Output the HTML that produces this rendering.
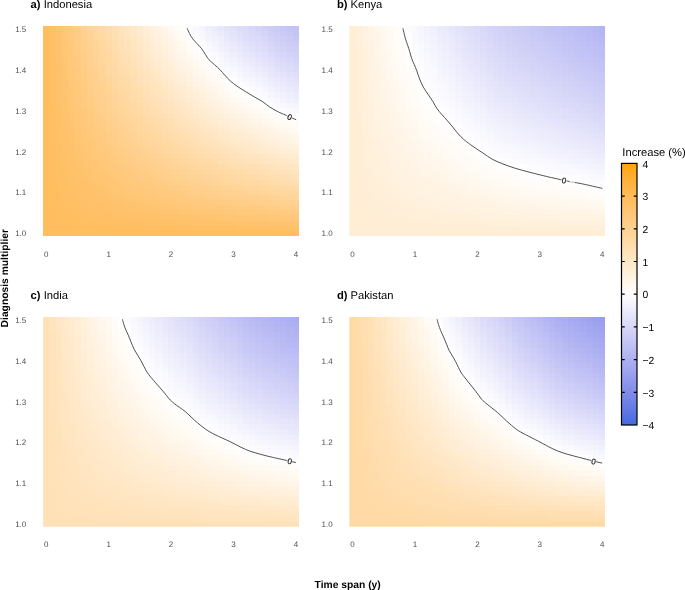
<!DOCTYPE html>
<html><head><meta charset="utf-8"><title>Figure</title>
<style>
html,body{margin:0;padding:0;background:#fff}
body>svg{display:block;will-change:transform;text-rendering:geometricPrecision;font-family:"Liberation Sans",Arial,Helvetica,sans-serif}
.t rect{width:1px;height:1px}
.tk{font-size:8px;fill:#4d4d4d}
.ti{font-size:11.2px;fill:#000}
.ax{font-size:10.3px;font-weight:bold;fill:#000}
.lg{font-size:10.3px;fill:#000}
.cl{fill:none;stroke:#484848;stroke-width:.95;stroke-linejoin:round}
.c0{font-size:8px;fill:#1a1a1a;stroke:#1a1a1a;stroke-width:.2}
</style></head><body>
<svg width="685" height="590" viewBox="0 0 685 590">
<rect width="685" height="590" fill="#fff"/>
<svg class="t" x="43.1" y="25.9" width="256.0" height="210.0" viewBox="0 0 41 41" preserveAspectRatio="none" shape-rendering="crispEdges">
<rect x=0 y=0 fill=#ffbd5e /><rect x=1 y=0 fill=#ffc067 /><rect x=2 y=0 fill=#ffc46f /><rect x=3 y=0 fill=#ffc777 /><rect x=4 y=0 fill=#ffca7f /><rect x=5 y=0 fill=#ffcd87 /><rect x=6 y=0 fill=#ffd18f /><rect x=7 y=0 fill=#ffd497 /><rect x=8 y=0 fill=#ffd79e /><rect x=9 y=0 fill=#ffdaa6 /><rect x=10 y=0 fill=#ffddad /><rect x=11 y=0 fill=#ffe0b4 /><rect x=12 y=0 fill=#ffe3bb /><rect x=13 y=0 fill=#ffe6c2 /><rect x=14 y=0 fill=#ffe9c9 /><rect x=15 y=0 fill=#ffebd0 /><rect x=16 y=0 fill=#ffeed6 /><rect x=17 y=0 fill=#fff1dd /><rect x=18 y=0 fill=#fff3e3 /><rect x=19 y=0 fill=#fff6e9 /><rect x=20 y=0 fill=#fff9f0 /><rect x=21 y=0 fill=#fffbf6 /><rect x=22 y=0 fill=#fffefc /><rect x=23 y=0 fill=#fcfcff /><rect x=24 y=0 fill=#f8f8fe /><rect x=25 y=0 fill=#f5f5fd /><rect x=26 y=0 fill=#f0effd /><rect x=27 y=0 fill=#ececfc /><rect x=28 y=0 fill=#e9e8fb /><rect x=29 y=0 fill=#e4e4fb /><rect x=30 y=0 fill=#e1e0fa /><rect x=31 y=0 fill=#ddddfa /><rect x=32 y=0 fill=#dadaf9 /><rect x=33 y=0 fill=#d7d7f9 /><rect x=34 y=0 fill=#d4d4f8 /><rect x=35 y=0 fill=#d1d1f8 /><rect x=36 y=0 fill=#cdcdf7 /><rect x=37 y=0 fill=#cacaf6 /><rect x=38 y=0 fill=#c7c8f6 /><rect x=39 y=0 fill=#c4c5f5 /><rect x=40 y=0 fill=#c2c2f5 />
<rect x=0 y=1 fill=#ffbd5e /><rect x=1 y=1 fill=#ffc066 /><rect x=2 y=1 fill=#ffc36f /><rect x=3 y=1 fill=#ffc777 /><rect x=4 y=1 fill=#ffca7f /><rect x=5 y=1 fill=#ffcd86 /><rect x=6 y=1 fill=#ffd08e /><rect x=7 y=1 fill=#ffd396 /><rect x=8 y=1 fill=#ffd69d /><rect x=9 y=1 fill=#ffd9a4 /><rect x=10 y=1 fill=#ffdcab /><rect x=11 y=1 fill=#ffdfb2 /><rect x=12 y=1 fill=#ffe2b9 /><rect x=13 y=1 fill=#ffe5c0 /><rect x=14 y=1 fill=#ffe8c7 /><rect x=15 y=1 fill=#ffeacd /><rect x=16 y=1 fill=#ffedd4 /><rect x=17 y=1 fill=#fff0da /><rect x=18 y=1 fill=#fff2e0 /><rect x=19 y=1 fill=#fff5e7 /><rect x=20 y=1 fill=#fff7ed /><rect x=21 y=1 fill=#fffaf3 /><rect x=22 y=1 fill=#fffcf8 /><rect x=23 y=1 fill=#ffffff /><rect x=24 y=1 fill=#fbfbfe /><rect x=25 y=1 fill=#f7f7fe /><rect x=26 y=1 fill=#f2f2fd /><rect x=27 y=1 fill=#efeffc /><rect x=28 y=1 fill=#ebebfc /><rect x=29 y=1 fill=#e7e7fb /><rect x=30 y=1 fill=#e3e3fb /><rect x=31 y=1 fill=#e0e0fa /><rect x=32 y=1 fill=#ddddfa /><rect x=33 y=1 fill=#dadaf9 /><rect x=34 y=1 fill=#d7d7f9 /><rect x=35 y=1 fill=#d4d4f8 /><rect x=36 y=1 fill=#d0d0f7 /><rect x=37 y=1 fill=#cdcdf7 /><rect x=38 y=1 fill=#cacaf6 /><rect x=39 y=1 fill=#c7c8f6 /><rect x=40 y=1 fill=#c5c5f5 />
<rect x=0 y=2 fill=#ffbd5e /><rect x=1 y=2 fill=#ffc066 /><rect x=2 y=2 fill=#ffc36e /><rect x=3 y=2 fill=#ffc676 /><rect x=4 y=2 fill=#ffc97e /><rect x=5 y=2 fill=#ffcd85 /><rect x=6 y=2 fill=#ffd08d /><rect x=7 y=2 fill=#ffd394 /><rect x=8 y=2 fill=#ffd69b /><rect x=9 y=2 fill=#ffd9a3 /><rect x=10 y=2 fill=#ffdbaa /><rect x=11 y=2 fill=#ffdeb0 /><rect x=12 y=2 fill=#ffe1b7 /><rect x=13 y=2 fill=#ffe4be /><rect x=14 y=2 fill=#ffe7c4 /><rect x=15 y=2 fill=#ffe9cb /><rect x=16 y=2 fill=#ffecd1 /><rect x=17 y=2 fill=#ffefd7 /><rect x=18 y=2 fill=#fff1de /><rect x=19 y=2 fill=#fff4e4 /><rect x=20 y=2 fill=#fff6ea /><rect x=21 y=2 fill=#fff9ef /><rect x=22 y=2 fill=#fffbf5 /><rect x=23 y=2 fill=#fffefc /><rect x=24 y=2 fill=#fdfdff /><rect x=25 y=2 fill=#fafafe /><rect x=26 y=2 fill=#f5f4fd /><rect x=27 y=2 fill=#f1f1fd /><rect x=28 y=2 fill=#eeeefc /><rect x=29 y=2 fill=#eae9fc /><rect x=30 y=2 fill=#e6e5fb /><rect x=31 y=2 fill=#e3e2fa /><rect x=32 y=2 fill=#e0dffa /><rect x=33 y=2 fill=#ddddfa /><rect x=34 y=2 fill=#dadaf9 /><rect x=35 y=2 fill=#d7d7f9 /><rect x=36 y=2 fill=#d3d3f8 /><rect x=37 y=2 fill=#d0d0f7 /><rect x=38 y=2 fill=#cdcdf7 /><rect x=39 y=2 fill=#cacaf6 /><rect x=40 y=2 fill=#c8c8f6 />
<rect x=0 y=3 fill=#ffbd5e /><rect x=1 y=3 fill=#ffc066 /><rect x=2 y=3 fill=#ffc36e /><rect x=3 y=3 fill=#ffc675 /><rect x=4 y=3 fill=#ffc97d /><rect x=5 y=3 fill=#ffcc84 /><rect x=6 y=3 fill=#ffcf8c /><rect x=7 y=3 fill=#ffd293 /><rect x=8 y=3 fill=#ffd59a /><rect x=9 y=3 fill=#ffd8a1 /><rect x=10 y=3 fill=#ffdba8 /><rect x=11 y=3 fill=#ffddae /><rect x=12 y=3 fill=#ffe0b5 /><rect x=13 y=3 fill=#ffe3bc /><rect x=14 y=3 fill=#ffe6c2 /><rect x=15 y=3 fill=#ffe8c8 /><rect x=16 y=3 fill=#ffebcf /><rect x=17 y=3 fill=#ffedd5 /><rect x=18 y=3 fill=#fff0db /><rect x=19 y=3 fill=#fff2e1 /><rect x=20 y=3 fill=#fff5e7 /><rect x=21 y=3 fill=#fff7ec /><rect x=22 y=3 fill=#fffaf2 /><rect x=23 y=3 fill=#fffcf9 /><rect x=24 y=3 fill=#fffffe /><rect x=25 y=3 fill=#fcfcff /><rect x=26 y=3 fill=#f7f7fe /><rect x=27 y=3 fill=#f4f4fd /><rect x=28 y=3 fill=#f1f0fd /><rect x=29 y=3 fill=#ececfc /><rect x=30 y=3 fill=#e9e8fb /><rect x=31 y=3 fill=#e5e5fb /><rect x=32 y=3 fill=#e3e2fa /><rect x=33 y=3 fill=#e0dffa /><rect x=34 y=3 fill=#dddcfa /><rect x=35 y=3 fill=#dad9f9 /><rect x=36 y=3 fill=#d6d6f8 /><rect x=37 y=3 fill=#d3d3f8 /><rect x=38 y=3 fill=#d0d0f7 /><rect x=39 y=3 fill=#cdcdf7 /><rect x=40 y=3 fill=#cbcbf6 />
<rect x=0 y=4 fill=#ffbd5e /><rect x=1 y=4 fill=#ffc066 /><rect x=2 y=4 fill=#ffc36d /><rect x=3 y=4 fill=#ffc675 /><rect x=4 y=4 fill=#ffc97c /><rect x=5 y=4 fill=#ffcc83 /><rect x=6 y=4 fill=#ffcf8b /><rect x=7 y=4 fill=#ffd292 /><rect x=8 y=4 fill=#ffd499 /><rect x=9 y=4 fill=#ffd79f /><rect x=10 y=4 fill=#ffdaa6 /><rect x=11 y=4 fill=#ffddad /><rect x=12 y=4 fill=#ffdfb3 /><rect x=13 y=4 fill=#ffe2b9 /><rect x=14 y=4 fill=#ffe5c0 /><rect x=15 y=4 fill=#ffe7c6 /><rect x=16 y=4 fill=#ffeacc /><rect x=17 y=4 fill=#ffecd2 /><rect x=18 y=4 fill=#ffefd8 /><rect x=19 y=4 fill=#fff1de /><rect x=20 y=4 fill=#fff4e4 /><rect x=21 y=4 fill=#fff6e9 /><rect x=22 y=4 fill=#fff8ef /><rect x=23 y=4 fill=#fffbf5 /><rect x=24 y=4 fill=#fffdfb /><rect x=25 y=4 fill=#ffffff /><rect x=26 y=4 fill=#fafafe /><rect x=27 y=4 fill=#f7f6fe /><rect x=28 y=4 fill=#f3f3fd /><rect x=29 y=4 fill=#efeffc /><rect x=30 y=4 fill=#ebebfc /><rect x=31 y=4 fill=#e8e8fb /><rect x=32 y=4 fill=#e5e5fb /><rect x=33 y=4 fill=#e3e2fa /><rect x=34 y=4 fill=#e0dffa /><rect x=35 y=4 fill=#dddcf9 /><rect x=36 y=4 fill=#d9d8f9 /><rect x=37 y=4 fill=#d6d5f8 /><rect x=38 y=4 fill=#d3d3f8 /><rect x=39 y=4 fill=#d0d0f7 /><rect x=40 y=4 fill=#cecef7 />
<rect x=0 y=5 fill=#ffbd5e /><rect x=1 y=5 fill=#ffc066 /><rect x=2 y=5 fill=#ffc36d /><rect x=3 y=5 fill=#ffc674 /><rect x=4 y=5 fill=#ffc97b /><rect x=5 y=5 fill=#ffcb82 /><rect x=6 y=5 fill=#ffce89 /><rect x=7 y=5 fill=#ffd190 /><rect x=8 y=5 fill=#ffd497 /><rect x=9 y=5 fill=#ffd79e /><rect x=10 y=5 fill=#ffd9a4 /><rect x=11 y=5 fill=#ffdcab /><rect x=12 y=5 fill=#ffdeb1 /><rect x=13 y=5 fill=#ffe1b7 /><rect x=14 y=5 fill=#ffe4bd /><rect x=15 y=5 fill=#ffe6c3 /><rect x=16 y=5 fill=#ffe9c9 /><rect x=17 y=5 fill=#ffebcf /><rect x=18 y=5 fill=#ffeed5 /><rect x=19 y=5 fill=#fff0db /><rect x=20 y=5 fill=#fff2e0 /><rect x=21 y=5 fill=#fff5e6 /><rect x=22 y=5 fill=#fff7eb /><rect x=23 y=5 fill=#fffaf2 /><rect x=24 y=5 fill=#fffcf7 /><rect x=25 y=5 fill=#fffefc /><rect x=26 y=5 fill=#fcfcff /><rect x=27 y=5 fill=#f9f9fe /><rect x=28 y=5 fill=#f6f6fe /><rect x=29 y=5 fill=#f2f1fd /><rect x=30 y=5 fill=#eeeefc /><rect x=31 y=5 fill=#ebebfc /><rect x=32 y=5 fill=#e8e8fb /><rect x=33 y=5 fill=#e6e5fb /><rect x=34 y=5 fill=#e3e2fb /><rect x=35 y=5 fill=#e0dffa /><rect x=36 y=5 fill=#dcdbf9 /><rect x=37 y=5 fill=#d9d8f9 /><rect x=38 y=5 fill=#d6d6f8 /><rect x=39 y=5 fill=#d3d3f8 /><rect x=40 y=5 fill=#d1d1f8 />
<rect x=0 y=6 fill=#ffbd5e /><rect x=1 y=6 fill=#ffc065 /><rect x=2 y=6 fill=#ffc36d /><rect x=3 y=6 fill=#ffc574 /><rect x=4 y=6 fill=#ffc87b /><rect x=5 y=6 fill=#ffcb82 /><rect x=6 y=6 fill=#ffce88 /><rect x=7 y=6 fill=#ffd08f /><rect x=8 y=6 fill=#ffd396 /><rect x=9 y=6 fill=#ffd69c /><rect x=10 y=6 fill=#ffd8a2 /><rect x=11 y=6 fill=#ffdba9 /><rect x=12 y=6 fill=#ffdeaf /><rect x=13 y=6 fill=#ffe0b5 /><rect x=14 y=6 fill=#ffe3bb /><rect x=15 y=6 fill=#ffe5c1 /><rect x=16 y=6 fill=#ffe8c7 /><rect x=17 y=6 fill=#ffeacd /><rect x=18 y=6 fill=#ffecd2 /><rect x=19 y=6 fill=#ffefd8 /><rect x=20 y=6 fill=#fff1dd /><rect x=21 y=6 fill=#fff3e3 /><rect x=22 y=6 fill=#fff5e8 /><rect x=23 y=6 fill=#fff8ee /><rect x=24 y=6 fill=#fffaf4 /><rect x=25 y=6 fill=#fffcf8 /><rect x=26 y=6 fill=#ffffff /><rect x=27 y=6 fill=#fcfcff /><rect x=28 y=6 fill=#f9f8fe /><rect x=29 y=6 fill=#f5f4fd /><rect x=30 y=6 fill=#f1f1fd /><rect x=31 y=6 fill=#eeeefc /><rect x=32 y=6 fill=#ebebfc /><rect x=33 y=6 fill=#e9e8fb /><rect x=34 y=6 fill=#e6e5fb /><rect x=35 y=6 fill=#e3e2fa /><rect x=36 y=6 fill=#dfdffa /><rect x=37 y=6 fill=#dcdcf9 /><rect x=38 y=6 fill=#d9d9f9 /><rect x=39 y=6 fill=#d7d6f8 /><rect x=40 y=6 fill=#d4d4f8 />
<rect x=0 y=7 fill=#ffbd5e /><rect x=1 y=7 fill=#ffc065 /><rect x=2 y=7 fill=#ffc26c /><rect x=3 y=7 fill=#ffc573 /><rect x=4 y=7 fill=#ffc87a /><rect x=5 y=7 fill=#ffcb81 /><rect x=6 y=7 fill=#ffcd87 /><rect x=7 y=7 fill=#ffd08e /><rect x=8 y=7 fill=#ffd394 /><rect x=9 y=7 fill=#ffd59a /><rect x=10 y=7 fill=#ffd8a1 /><rect x=11 y=7 fill=#ffdaa7 /><rect x=12 y=7 fill=#ffddad /><rect x=13 y=7 fill=#ffdfb3 /><rect x=14 y=7 fill=#ffe2b9 /><rect x=15 y=7 fill=#ffe4be /><rect x=16 y=7 fill=#ffe6c4 /><rect x=17 y=7 fill=#ffe9ca /><rect x=18 y=7 fill=#ffebcf /><rect x=19 y=7 fill=#ffedd5 /><rect x=20 y=7 fill=#fff0da /><rect x=21 y=7 fill=#fff2e0 /><rect x=22 y=7 fill=#fff4e5 /><rect x=23 y=7 fill=#fff7eb /><rect x=24 y=7 fill=#fff9f0 /><rect x=25 y=7 fill=#fffbf5 /><rect x=26 y=7 fill=#fffdfb /><rect x=27 y=7 fill=#ffffff /><rect x=28 y=7 fill=#fbfbfe /><rect x=29 y=7 fill=#f7f7fe /><rect x=30 y=7 fill=#f4f4fd /><rect x=31 y=7 fill=#f1f1fd /><rect x=32 y=7 fill=#eeeefc /><rect x=33 y=7 fill=#ecebfc /><rect x=34 y=7 fill=#e9e8fb /><rect x=35 y=7 fill=#e6e5fb /><rect x=36 y=7 fill=#e2e2fa /><rect x=37 y=7 fill=#dfdffa /><rect x=38 y=7 fill=#dddcf9 /><rect x=39 y=7 fill=#dadaf9 /><rect x=40 y=7 fill=#d7d7f9 />
<rect x=0 y=8 fill=#ffbd5e /><rect x=1 y=8 fill=#ffc065 /><rect x=2 y=8 fill=#ffc26c /><rect x=3 y=8 fill=#ffc572 /><rect x=4 y=8 fill=#ffc879 /><rect x=5 y=8 fill=#ffca80 /><rect x=6 y=8 fill=#ffcd86 /><rect x=7 y=8 fill=#ffcf8c /><rect x=8 y=8 fill=#ffd293 /><rect x=9 y=8 fill=#ffd499 /><rect x=10 y=8 fill=#ffd79f /><rect x=11 y=8 fill=#ffd9a5 /><rect x=12 y=8 fill=#ffdcab /><rect x=13 y=8 fill=#ffdeb0 /><rect x=14 y=8 fill=#ffe1b6 /><rect x=15 y=8 fill=#ffe3bc /><rect x=16 y=8 fill=#ffe5c1 /><rect x=17 y=8 fill=#ffe8c7 /><rect x=18 y=8 fill=#ffeacc /><rect x=19 y=8 fill=#ffecd2 /><rect x=20 y=8 fill=#ffeed7 /><rect x=21 y=8 fill=#fff1dc /><rect x=22 y=8 fill=#fff3e1 /><rect x=23 y=8 fill=#fff5e7 /><rect x=24 y=8 fill=#fff7ec /><rect x=25 y=8 fill=#fff9f1 /><rect x=26 y=8 fill=#fffcf7 /><rect x=27 y=8 fill=#fffefc /><rect x=28 y=8 fill=#fefeff /><rect x=29 y=8 fill=#fafafe /><rect x=30 y=8 fill=#f7f7fe /><rect x=31 y=8 fill=#f4f4fd /><rect x=32 y=8 fill=#f1f1fd /><rect x=33 y=8 fill=#efeefc /><rect x=34 y=8 fill=#ecebfc /><rect x=35 y=8 fill=#e9e8fc /><rect x=36 y=8 fill=#e5e5fb /><rect x=37 y=8 fill=#e2e2fa /><rect x=38 y=8 fill=#e0dffa /><rect x=39 y=8 fill=#ddddfa /><rect x=40 y=8 fill=#dbdaf9 />
<rect x=0 y=9 fill=#ffbd5e /><rect x=1 y=9 fill=#ffc065 /><rect x=2 y=9 fill=#ffc26b /><rect x=3 y=9 fill=#ffc572 /><rect x=4 y=9 fill=#ffc778 /><rect x=5 y=9 fill=#ffca7f /><rect x=6 y=9 fill=#ffcc85 /><rect x=7 y=9 fill=#ffcf8b /><rect x=8 y=9 fill=#ffd191 /><rect x=9 y=9 fill=#ffd497 /><rect x=10 y=9 fill=#ffd69d /><rect x=11 y=9 fill=#ffd9a3 /><rect x=12 y=9 fill=#ffdba8 /><rect x=13 y=9 fill=#ffddae /><rect x=14 y=9 fill=#ffe0b4 /><rect x=15 y=9 fill=#ffe2b9 /><rect x=16 y=9 fill=#ffe4bf /><rect x=17 y=9 fill=#ffe6c4 /><rect x=18 y=9 fill=#ffe9c9 /><rect x=19 y=9 fill=#ffebcf /><rect x=20 y=9 fill=#ffedd4 /><rect x=21 y=9 fill=#ffefd9 /><rect x=22 y=9 fill=#fff1de /><rect x=23 y=9 fill=#fff4e4 /><rect x=24 y=9 fill=#fff6e9 /><rect x=25 y=9 fill=#fff8ed /><rect x=26 y=9 fill=#fffaf3 /><rect x=27 y=9 fill=#fffcf8 /><rect x=28 y=9 fill=#fffefc /><rect x=29 y=9 fill=#fdfdff /><rect x=30 y=9 fill=#fafafe /><rect x=31 y=9 fill=#f7f7fe /><rect x=32 y=9 fill=#f4f4fd /><rect x=33 y=9 fill=#f2f1fd /><rect x=34 y=9 fill=#efeffc /><rect x=35 y=9 fill=#ececfc /><rect x=36 y=9 fill=#e9e8fb /><rect x=37 y=9 fill=#e6e5fb /><rect x=38 y=9 fill=#e3e3fb /><rect x=39 y=9 fill=#e1e0fa /><rect x=40 y=9 fill=#dedefa />
<rect x=0 y=10 fill=#ffbd5e /><rect x=1 y=10 fill=#ffc065 /><rect x=2 y=10 fill=#ffc26b /><rect x=3 y=10 fill=#ffc471 /><rect x=4 y=10 fill=#ffc777 /><rect x=5 y=10 fill=#ffc97e /><rect x=6 y=10 fill=#ffcc84 /><rect x=7 y=10 fill=#ffce8a /><rect x=8 y=10 fill=#ffd190 /><rect x=9 y=10 fill=#ffd395 /><rect x=10 y=10 fill=#ffd59b /><rect x=11 y=10 fill=#ffd8a1 /><rect x=12 y=10 fill=#ffdaa6 /><rect x=13 y=10 fill=#ffdcac /><rect x=14 y=10 fill=#ffdfb1 /><rect x=15 y=10 fill=#ffe1b7 /><rect x=16 y=10 fill=#ffe3bc /><rect x=17 y=10 fill=#ffe5c1 /><rect x=18 y=10 fill=#ffe7c6 /><rect x=19 y=10 fill=#ffeacc /><rect x=20 y=10 fill=#ffecd1 /><rect x=21 y=10 fill=#ffeed6 /><rect x=22 y=10 fill=#fff0da /><rect x=23 y=10 fill=#fff2e0 /><rect x=24 y=10 fill=#fff4e5 /><rect x=25 y=10 fill=#fff6e9 /><rect x=26 y=10 fill=#fff9f0 /><rect x=27 y=10 fill=#fffaf4 /><rect x=28 y=10 fill=#fffcf8 /><rect x=29 y=10 fill=#fffefd /><rect x=30 y=10 fill=#fdfdff /><rect x=31 y=10 fill=#fafafe /><rect x=32 y=10 fill=#f7f7fe /><rect x=33 y=10 fill=#f5f5fd /><rect x=34 y=10 fill=#f2f2fd /><rect x=35 y=10 fill=#efeffd /><rect x=36 y=10 fill=#ecebfc /><rect x=37 y=10 fill=#e9e8fc /><rect x=38 y=10 fill=#e7e6fb /><rect x=39 y=10 fill=#e4e3fb /><rect x=40 y=10 fill=#e2e1fa />
<rect x=0 y=11 fill=#ffbd5e /><rect x=1 y=11 fill=#ffbf64 /><rect x=2 y=11 fill=#ffc26a /><rect x=3 y=11 fill=#ffc471 /><rect x=4 y=11 fill=#ffc777 /><rect x=5 y=11 fill=#ffc97d /><rect x=6 y=11 fill=#ffcb82 /><rect x=7 y=11 fill=#ffce88 /><rect x=8 y=11 fill=#ffd08e /><rect x=9 y=11 fill=#ffd294 /><rect x=10 y=11 fill=#ffd599 /><rect x=11 y=11 fill=#ffd79f /><rect x=12 y=11 fill=#ffd9a4 /><rect x=13 y=11 fill=#ffdbaa /><rect x=14 y=11 fill=#ffdeaf /><rect x=15 y=11 fill=#ffe0b4 /><rect x=16 y=11 fill=#ffe2b9 /><rect x=17 y=11 fill=#ffe4be /><rect x=18 y=11 fill=#ffe6c3 /><rect x=19 y=11 fill=#ffe8c8 /><rect x=20 y=11 fill=#ffeacd /><rect x=21 y=11 fill=#ffecd2 /><rect x=22 y=11 fill=#ffeed7 /><rect x=23 y=11 fill=#fff1dd /><rect x=24 y=11 fill=#fff3e1 /><rect x=25 y=11 fill=#fff4e6 /><rect x=26 y=11 fill=#fff7ec /><rect x=27 y=11 fill=#fff9f0 /><rect x=28 y=11 fill=#fffaf4 /><rect x=29 y=11 fill=#fffdf9 /><rect x=30 y=11 fill=#fffffe /><rect x=31 y=11 fill=#fdfdff /><rect x=32 y=11 fill=#fbfafe /><rect x=33 y=11 fill=#f8f8fe /><rect x=34 y=11 fill=#f5f5fe /><rect x=35 y=11 fill=#f3f2fd /><rect x=36 y=11 fill=#efeffd /><rect x=37 y=11 fill=#ececfc /><rect x=38 y=11 fill=#eaeafc /><rect x=39 y=11 fill=#e7e7fb /><rect x=40 y=11 fill=#e5e5fb />
<rect x=0 y=12 fill=#ffbd5e /><rect x=1 y=12 fill=#ffbf64 /><rect x=2 y=12 fill=#ffc26a /><rect x=3 y=12 fill=#ffc470 /><rect x=4 y=12 fill=#ffc676 /><rect x=5 y=12 fill=#ffc97c /><rect x=6 y=12 fill=#ffcb81 /><rect x=7 y=12 fill=#ffcd87 /><rect x=8 y=12 fill=#ffcf8c /><rect x=9 y=12 fill=#ffd292 /><rect x=10 y=12 fill=#ffd497 /><rect x=11 y=12 fill=#ffd69d /><rect x=12 y=12 fill=#ffd8a2 /><rect x=13 y=12 fill=#ffdaa7 /><rect x=14 y=12 fill=#ffddac /><rect x=15 y=12 fill=#ffdfb1 /><rect x=16 y=12 fill=#ffe1b6 /><rect x=17 y=12 fill=#ffe3bb /><rect x=18 y=12 fill=#ffe5c0 /><rect x=19 y=12 fill=#ffe7c5 /><rect x=20 y=12 fill=#ffe9ca /><rect x=21 y=12 fill=#ffebcf /><rect x=22 y=12 fill=#ffedd3 /><rect x=23 y=12 fill=#ffefd9 /><rect x=24 y=12 fill=#fff1de /><rect x=25 y=12 fill=#fff3e2 /><rect x=26 y=12 fill=#fff5e8 /><rect x=27 y=12 fill=#fff7eb /><rect x=28 y=12 fill=#fff9f0 /><rect x=29 y=12 fill=#fffbf5 /><rect x=30 y=12 fill=#fffdf9 /><rect x=31 y=12 fill=#fffefd /><rect x=32 y=12 fill=#fefeff /><rect x=33 y=12 fill=#fbfbfe /><rect x=34 y=12 fill=#f9f9fe /><rect x=35 y=12 fill=#f6f6fe /><rect x=36 y=12 fill=#f3f2fd /><rect x=37 y=12 fill=#f0effd /><rect x=38 y=12 fill=#eeedfc /><rect x=39 y=12 fill=#ebebfc /><rect x=40 y=12 fill=#e9e8fb />
<rect x=0 y=13 fill=#ffbd5e /><rect x=1 y=13 fill=#ffbf64 /><rect x=2 y=13 fill=#ffc16a /><rect x=3 y=13 fill=#ffc46f /><rect x=4 y=13 fill=#ffc675 /><rect x=5 y=13 fill=#ffc87b /><rect x=6 y=13 fill=#ffca80 /><rect x=7 y=13 fill=#ffcd86 /><rect x=8 y=13 fill=#ffcf8b /><rect x=9 y=13 fill=#ffd190 /><rect x=10 y=13 fill=#ffd396 /><rect x=11 y=13 fill=#ffd59b /><rect x=12 y=13 fill=#ffd7a0 /><rect x=13 y=13 fill=#ffd9a5 /><rect x=14 y=13 fill=#ffdcaa /><rect x=15 y=13 fill=#ffdeaf /><rect x=16 y=13 fill=#ffe0b4 /><rect x=17 y=13 fill=#ffe2b9 /><rect x=18 y=13 fill=#ffe4bd /><rect x=19 y=13 fill=#ffe6c2 /><rect x=20 y=13 fill=#ffe8c7 /><rect x=21 y=13 fill=#ffe9cb /><rect x=22 y=13 fill=#ffebd0 /><rect x=23 y=13 fill=#ffeed5 /><rect x=24 y=13 fill=#ffefda /><rect x=25 y=13 fill=#fff1de /><rect x=26 y=13 fill=#fff4e3 /><rect x=27 y=13 fill=#fff5e7 /><rect x=28 y=13 fill=#fff7eb /><rect x=29 y=13 fill=#fff9f1 /><rect x=30 y=13 fill=#fffbf5 /><rect x=31 y=13 fill=#fffcf9 /><rect x=32 y=13 fill=#fffefc /><rect x=33 y=13 fill=#ffffff /><rect x=34 y=13 fill=#fcfcff /><rect x=35 y=13 fill=#f9f9fe /><rect x=36 y=13 fill=#f6f6fe /><rect x=37 y=13 fill=#f3f3fd /><rect x=38 y=13 fill=#f1f1fd /><rect x=39 y=13 fill=#efeefc /><rect x=40 y=13 fill=#ececfc />
<rect x=0 y=14 fill=#ffbd5e /><rect x=1 y=14 fill=#ffbf64 /><rect x=2 y=14 fill=#ffc169 /><rect x=3 y=14 fill=#ffc36f /><rect x=4 y=14 fill=#ffc674 /><rect x=5 y=14 fill=#ffc87a /><rect x=6 y=14 fill=#ffca7f /><rect x=7 y=14 fill=#ffcc84 /><rect x=8 y=14 fill=#ffce89 /><rect x=9 y=14 fill=#ffd08f /><rect x=10 y=14 fill=#ffd294 /><rect x=11 y=14 fill=#ffd499 /><rect x=12 y=14 fill=#ffd69e /><rect x=13 y=14 fill=#ffd9a3 /><rect x=14 y=14 fill=#ffdba7 /><rect x=15 y=14 fill=#ffddac /><rect x=16 y=14 fill=#ffdeb1 /><rect x=17 y=14 fill=#ffe0b6 /><rect x=18 y=14 fill=#ffe2ba /><rect x=19 y=14 fill=#ffe4bf /><rect x=20 y=14 fill=#ffe6c3 /><rect x=21 y=14 fill=#ffe8c8 /><rect x=22 y=14 fill=#ffeacc /><rect x=23 y=14 fill=#ffecd2 /><rect x=24 y=14 fill=#ffeed6 /><rect x=25 y=14 fill=#ffefda /><rect x=26 y=14 fill=#fff2df /><rect x=27 y=14 fill=#fff3e3 /><rect x=28 y=14 fill=#fff5e7 /><rect x=29 y=14 fill=#fff7ec /><rect x=30 y=14 fill=#fff9f0 /><rect x=31 y=14 fill=#fffaf4 /><rect x=32 y=14 fill=#fffcf7 /><rect x=33 y=14 fill=#fffdfb /><rect x=34 y=14 fill=#fffffe /><rect x=35 y=14 fill=#fdfdff /><rect x=36 y=14 fill=#faf9fe /><rect x=37 y=14 fill=#f7f7fe /><rect x=38 y=14 fill=#f5f4fd /><rect x=39 y=14 fill=#f2f2fd /><rect x=40 y=14 fill=#f0f0fd />
<rect x=0 y=15 fill=#ffbd5e /><rect x=1 y=15 fill=#ffbf63 /><rect x=2 y=15 fill=#ffc169 /><rect x=3 y=15 fill=#ffc36e /><rect x=4 y=15 fill=#ffc573 /><rect x=5 y=15 fill=#ffc779 /><rect x=6 y=15 fill=#ffc97e /><rect x=7 y=15 fill=#ffcc83 /><rect x=8 y=15 fill=#ffce88 /><rect x=9 y=15 fill=#ffd08d /><rect x=10 y=15 fill=#ffd292 /><rect x=11 y=15 fill=#ffd497 /><rect x=12 y=15 fill=#ffd69b /><rect x=13 y=15 fill=#ffd8a0 /><rect x=14 y=15 fill=#ffd9a5 /><rect x=15 y=15 fill=#ffdba9 /><rect x=16 y=15 fill=#ffddae /><rect x=17 y=15 fill=#ffdfb3 /><rect x=18 y=15 fill=#ffe1b7 /><rect x=19 y=15 fill=#ffe3bc /><rect x=20 y=15 fill=#ffe5c0 /><rect x=21 y=15 fill=#ffe7c4 /><rect x=22 y=15 fill=#ffe8c9 /><rect x=23 y=15 fill=#ffeace /><rect x=24 y=15 fill=#ffecd2 /><rect x=25 y=15 fill=#ffeed6 /><rect x=26 y=15 fill=#fff0db /><rect x=27 y=15 fill=#fff2df /><rect x=28 y=15 fill=#fff3e3 /><rect x=29 y=15 fill=#fff5e8 /><rect x=30 y=15 fill=#fff7ec /><rect x=31 y=15 fill=#fff8ef /><rect x=32 y=15 fill=#fffaf3 /><rect x=33 y=15 fill=#fffbf6 /><rect x=34 y=15 fill=#fffdf9 /><rect x=35 y=15 fill=#fffefd /><rect x=36 y=15 fill=#fdfdff /><rect x=37 y=15 fill=#fbfafe /><rect x=38 y=15 fill=#f8f8fe /><rect x=39 y=15 fill=#f6f6fe /><rect x=40 y=15 fill=#f4f4fd />
<rect x=0 y=16 fill=#ffbd5e /><rect x=1 y=16 fill=#ffbf63 /><rect x=2 y=16 fill=#ffc168 /><rect x=3 y=16 fill=#ffc36e /><rect x=4 y=16 fill=#ffc573 /><rect x=5 y=16 fill=#ffc778 /><rect x=6 y=16 fill=#ffc97d /><rect x=7 y=16 fill=#ffcb81 /><rect x=8 y=16 fill=#ffcd86 /><rect x=9 y=16 fill=#ffcf8b /><rect x=10 y=16 fill=#ffd190 /><rect x=11 y=16 fill=#ffd395 /><rect x=12 y=16 fill=#ffd599 /><rect x=13 y=16 fill=#ffd79e /><rect x=14 y=16 fill=#ffd8a2 /><rect x=15 y=16 fill=#ffdaa7 /><rect x=16 y=16 fill=#ffdcab /><rect x=17 y=16 fill=#ffdeb0 /><rect x=18 y=16 fill=#ffe0b4 /><rect x=19 y=16 fill=#ffe2b8 /><rect x=20 y=16 fill=#ffe3bd /><rect x=21 y=16 fill=#ffe5c1 /><rect x=22 y=16 fill=#ffe7c5 /><rect x=23 y=16 fill=#ffe9ca /><rect x=24 y=16 fill=#ffebce /><rect x=25 y=16 fill=#ffecd2 /><rect x=26 y=16 fill=#ffeed7 /><rect x=27 y=16 fill=#fff0da /><rect x=28 y=16 fill=#fff1de /><rect x=29 y=16 fill=#fff3e3 /><rect x=30 y=16 fill=#fff5e7 /><rect x=31 y=16 fill=#fff7eb /><rect x=32 y=16 fill=#fff8ee /><rect x=33 y=16 fill=#fff9f1 /><rect x=34 y=16 fill=#fffbf4 /><rect x=35 y=16 fill=#fffcf8 /><rect x=36 y=16 fill=#fffefc /><rect x=37 y=16 fill=#fefeff /><rect x=38 y=16 fill=#fcfcff /><rect x=39 y=16 fill=#fafafe /><rect x=40 y=16 fill=#f8f8fe />
<rect x=0 y=17 fill=#ffbd5e /><rect x=1 y=17 fill=#ffbf63 /><rect x=2 y=17 fill=#ffc168 /><rect x=3 y=17 fill=#ffc36d /><rect x=4 y=17 fill=#ffc572 /><rect x=5 y=17 fill=#ffc777 /><rect x=6 y=17 fill=#ffc97b /><rect x=7 y=17 fill=#ffca80 /><rect x=8 y=17 fill=#ffcc85 /><rect x=9 y=17 fill=#ffce89 /><rect x=10 y=17 fill=#ffd08e /><rect x=11 y=17 fill=#ffd292 /><rect x=12 y=17 fill=#ffd497 /><rect x=13 y=17 fill=#ffd69b /><rect x=14 y=17 fill=#ffd7a0 /><rect x=15 y=17 fill=#ffd9a4 /><rect x=16 y=17 fill=#ffdba8 /><rect x=17 y=17 fill=#ffddad /><rect x=18 y=17 fill=#ffdeb1 /><rect x=19 y=17 fill=#ffe0b5 /><rect x=20 y=17 fill=#ffe2b9 /><rect x=21 y=17 fill=#ffe4bd /><rect x=22 y=17 fill=#ffe5c1 /><rect x=23 y=17 fill=#ffe7c6 /><rect x=24 y=17 fill=#ffe9ca /><rect x=25 y=17 fill=#ffeace /><rect x=26 y=17 fill=#ffedd3 /><rect x=27 y=17 fill=#ffeed6 /><rect x=28 y=17 fill=#ffefda /><rect x=29 y=17 fill=#fff1de /><rect x=30 y=17 fill=#fff3e2 /><rect x=31 y=17 fill=#fff4e6 /><rect x=32 y=17 fill=#fff6e9 /><rect x=33 y=17 fill=#fff7ec /><rect x=34 y=17 fill=#fff8ef /><rect x=35 y=17 fill=#fffaf3 /><rect x=36 y=17 fill=#fffcf7 /><rect x=37 y=17 fill=#fffdfb /><rect x=38 y=17 fill=#fffefe /><rect x=39 y=17 fill=#fefeff /><rect x=40 y=17 fill=#fcfcfe />
<rect x=0 y=18 fill=#ffbd5e /><rect x=1 y=18 fill=#ffbf63 /><rect x=2 y=18 fill=#ffc168 /><rect x=3 y=18 fill=#ffc36c /><rect x=4 y=18 fill=#ffc471 /><rect x=5 y=18 fill=#ffc676 /><rect x=6 y=18 fill=#ffc87a /><rect x=7 y=18 fill=#ffca7f /><rect x=8 y=18 fill=#ffcc83 /><rect x=9 y=18 fill=#ffcd88 /><rect x=10 y=18 fill=#ffcf8c /><rect x=11 y=18 fill=#ffd190 /><rect x=12 y=18 fill=#ffd395 /><rect x=13 y=18 fill=#ffd599 /><rect x=14 y=18 fill=#ffd69d /><rect x=15 y=18 fill=#ffd8a1 /><rect x=16 y=18 fill=#ffdaa5 /><rect x=17 y=18 fill=#ffdbaa /><rect x=18 y=18 fill=#ffddae /><rect x=19 y=18 fill=#ffdfb2 /><rect x=20 y=18 fill=#ffe0b6 /><rect x=21 y=18 fill=#ffe2ba /><rect x=22 y=18 fill=#ffe4bd /><rect x=23 y=18 fill=#ffe6c2 /><rect x=24 y=18 fill=#ffe7c6 /><rect x=25 y=18 fill=#ffe9c9 /><rect x=26 y=18 fill=#ffebce /><rect x=27 y=18 fill=#ffecd2 /><rect x=28 y=18 fill=#ffeed5 /><rect x=29 y=18 fill=#ffefda /><rect x=30 y=18 fill=#fff1de /><rect x=31 y=18 fill=#fff2e1 /><rect x=32 y=18 fill=#fff4e4 /><rect x=33 y=18 fill=#fff5e7 /><rect x=34 y=18 fill=#fff6ea /><rect x=35 y=18 fill=#fff8ed /><rect x=36 y=18 fill=#fff9f2 /><rect x=37 y=18 fill=#fffbf5 /><rect x=38 y=18 fill=#fffcf8 /><rect x=39 y=18 fill=#fffdfb /><rect x=40 y=18 fill=#fffffe />
<rect x=0 y=19 fill=#ffbd5e /><rect x=1 y=19 fill=#ffbf63 /><rect x=2 y=19 fill=#ffc167 /><rect x=3 y=19 fill=#ffc26c /><rect x=4 y=19 fill=#ffc470 /><rect x=5 y=19 fill=#ffc675 /><rect x=6 y=19 fill=#ffc879 /><rect x=7 y=19 fill=#ffc97d /><rect x=8 y=19 fill=#ffcb82 /><rect x=9 y=19 fill=#ffcd86 /><rect x=10 y=19 fill=#ffce8a /><rect x=11 y=19 fill=#ffd08e /><rect x=12 y=19 fill=#ffd292 /><rect x=13 y=19 fill=#ffd496 /><rect x=14 y=19 fill=#ffd59b /><rect x=15 y=19 fill=#ffd79f /><rect x=16 y=19 fill=#ffd9a3 /><rect x=17 y=19 fill=#ffdaa6 /><rect x=18 y=19 fill=#ffdcaa /><rect x=19 y=19 fill=#ffddae /><rect x=20 y=19 fill=#ffdfb2 /><rect x=21 y=19 fill=#ffe1b6 /><rect x=22 y=19 fill=#ffe2ba /><rect x=23 y=19 fill=#ffe4be /><rect x=24 y=19 fill=#ffe6c2 /><rect x=25 y=19 fill=#ffe7c5 /><rect x=26 y=19 fill=#ffe9ca /><rect x=27 y=19 fill=#ffeacd /><rect x=28 y=19 fill=#ffecd1 /><rect x=29 y=19 fill=#ffedd5 /><rect x=30 y=19 fill=#ffefd9 /><rect x=31 y=19 fill=#fff0dc /><rect x=32 y=19 fill=#fff2df /><rect x=33 y=19 fill=#fff3e2 /><rect x=34 y=19 fill=#fff4e5 /><rect x=35 y=19 fill=#fff5e8 /><rect x=36 y=19 fill=#fff7ec /><rect x=37 y=19 fill=#fff9f0 /><rect x=38 y=19 fill=#fffaf2 /><rect x=39 y=19 fill=#fffbf5 /><rect x=40 y=19 fill=#fffcf8 />
<rect x=0 y=20 fill=#ffbd5e /><rect x=1 y=20 fill=#ffbf62 /><rect x=2 y=20 fill=#ffc067 /><rect x=3 y=20 fill=#ffc26b /><rect x=4 y=20 fill=#ffc46f /><rect x=5 y=20 fill=#ffc574 /><rect x=6 y=20 fill=#ffc778 /><rect x=7 y=20 fill=#ffc97c /><rect x=8 y=20 fill=#ffca80 /><rect x=9 y=20 fill=#ffcc84 /><rect x=10 y=20 fill=#ffce88 /><rect x=11 y=20 fill=#ffcf8c /><rect x=12 y=20 fill=#ffd190 /><rect x=13 y=20 fill=#ffd394 /><rect x=14 y=20 fill=#ffd498 /><rect x=15 y=20 fill=#ffd69c /><rect x=16 y=20 fill=#ffd7a0 /><rect x=17 y=20 fill=#ffd9a3 /><rect x=18 y=20 fill=#ffdaa7 /><rect x=19 y=20 fill=#ffdcab /><rect x=20 y=20 fill=#ffddaf /><rect x=21 y=20 fill=#ffdfb2 /><rect x=22 y=20 fill=#ffe1b6 /><rect x=23 y=20 fill=#ffe2ba /><rect x=24 y=20 fill=#ffe4be /><rect x=25 y=20 fill=#ffe5c1 /><rect x=26 y=20 fill=#ffe7c6 /><rect x=27 y=20 fill=#ffe8c9 /><rect x=28 y=20 fill=#ffeacc /><rect x=29 y=20 fill=#ffebd0 /><rect x=30 y=20 fill=#ffedd4 /><rect x=31 y=20 fill=#ffeed7 /><rect x=32 y=20 fill=#ffefda /><rect x=33 y=20 fill=#fff1dc /><rect x=34 y=20 fill=#fff2df /><rect x=35 y=20 fill=#fff3e3 /><rect x=36 y=20 fill=#fff5e7 /><rect x=37 y=20 fill=#fff6ea /><rect x=38 y=20 fill=#fff7ed /><rect x=39 y=20 fill=#fff9f0 /><rect x=40 y=20 fill=#fffaf2 />
<rect x=0 y=21 fill=#ffbd5e /><rect x=1 y=21 fill=#ffbf62 /><rect x=2 y=21 fill=#ffc066 /><rect x=3 y=21 fill=#ffc26a /><rect x=4 y=21 fill=#ffc36e /><rect x=5 y=21 fill=#ffc573 /><rect x=6 y=21 fill=#ffc777 /><rect x=7 y=21 fill=#ffc87a /><rect x=8 y=21 fill=#ffca7e /><rect x=9 y=21 fill=#ffcb82 /><rect x=10 y=21 fill=#ffcd86 /><rect x=11 y=21 fill=#ffce8a /><rect x=12 y=21 fill=#ffd08e /><rect x=13 y=21 fill=#ffd292 /><rect x=14 y=21 fill=#ffd395 /><rect x=15 y=21 fill=#ffd599 /><rect x=16 y=21 fill=#ffd69d /><rect x=17 y=21 fill=#ffd8a0 /><rect x=18 y=21 fill=#ffd9a4 /><rect x=19 y=21 fill=#ffdba7 /><rect x=20 y=21 fill=#ffdcab /><rect x=21 y=21 fill=#ffddae /><rect x=22 y=21 fill=#ffdfb2 /><rect x=23 y=21 fill=#ffe1b6 /><rect x=24 y=21 fill=#ffe2ba /><rect x=25 y=21 fill=#ffe3bd /><rect x=26 y=21 fill=#ffe5c1 /><rect x=27 y=21 fill=#ffe6c4 /><rect x=28 y=21 fill=#ffe8c7 /><rect x=29 y=21 fill=#ffe9cb /><rect x=30 y=21 fill=#ffebcf /><rect x=31 y=21 fill=#ffecd2 /><rect x=32 y=21 fill=#ffedd4 /><rect x=33 y=21 fill=#ffeed7 /><rect x=34 y=21 fill=#fff0da /><rect x=35 y=21 fill=#fff1dd /><rect x=36 y=21 fill=#fff2e1 /><rect x=37 y=21 fill=#fff4e4 /><rect x=38 y=21 fill=#fff5e7 /><rect x=39 y=21 fill=#fff6ea /><rect x=40 y=21 fill=#fff7ec />
<rect x=0 y=22 fill=#ffbd5e /><rect x=1 y=22 fill=#ffbf62 /><rect x=2 y=22 fill=#ffc066 /><rect x=3 y=22 fill=#ffc26a /><rect x=4 y=22 fill=#ffc36e /><rect x=5 y=22 fill=#ffc572 /><rect x=6 y=22 fill=#ffc675 /><rect x=7 y=22 fill=#ffc879 /><rect x=8 y=22 fill=#ffc97d /><rect x=9 y=22 fill=#ffcb81 /><rect x=10 y=22 fill=#ffcc84 /><rect x=11 y=22 fill=#ffce88 /><rect x=12 y=22 fill=#ffcf8b /><rect x=13 y=22 fill=#ffd08f /><rect x=14 y=22 fill=#ffd293 /><rect x=15 y=22 fill=#ffd396 /><rect x=16 y=22 fill=#ffd59a /><rect x=17 y=22 fill=#ffd69d /><rect x=18 y=22 fill=#ffd8a1 /><rect x=19 y=22 fill=#ffd9a4 /><rect x=20 y=22 fill=#ffdba7 /><rect x=21 y=22 fill=#ffdcab /><rect x=22 y=22 fill=#ffddae /><rect x=23 y=22 fill=#ffdfb2 /><rect x=24 y=22 fill=#ffe0b5 /><rect x=25 y=22 fill=#ffe2b8 /><rect x=26 y=22 fill=#ffe3bc /><rect x=27 y=22 fill=#ffe4bf /><rect x=28 y=22 fill=#ffe6c2 /><rect x=29 y=22 fill=#ffe7c6 /><rect x=30 y=22 fill=#ffe9ca /><rect x=31 y=22 fill=#ffeacc /><rect x=32 y=22 fill=#ffebcf /><rect x=33 y=22 fill=#ffecd2 /><rect x=34 y=22 fill=#ffedd4 /><rect x=35 y=22 fill=#ffefd7 /><rect x=36 y=22 fill=#fff0db /><rect x=37 y=22 fill=#fff1de /><rect x=38 y=22 fill=#fff2e1 /><rect x=39 y=22 fill=#fff4e3 /><rect x=40 y=22 fill=#fff5e6 />
<rect x=0 y=23 fill=#ffbd5e /><rect x=1 y=23 fill=#ffbe62 /><rect x=2 y=23 fill=#ffc065 /><rect x=3 y=23 fill=#ffc169 /><rect x=4 y=23 fill=#ffc36d /><rect x=5 y=23 fill=#ffc470 /><rect x=6 y=23 fill=#ffc674 /><rect x=7 y=23 fill=#ffc778 /><rect x=8 y=23 fill=#ffc87b /><rect x=9 y=23 fill=#ffca7f /><rect x=10 y=23 fill=#ffcb82 /><rect x=11 y=23 fill=#ffcd86 /><rect x=12 y=23 fill=#ffce89 /><rect x=13 y=23 fill=#ffcf8d /><rect x=14 y=23 fill=#ffd190 /><rect x=15 y=23 fill=#ffd293 /><rect x=16 y=23 fill=#ffd497 /><rect x=17 y=23 fill=#ffd59a /><rect x=18 y=23 fill=#ffd69d /><rect x=19 y=23 fill=#ffd8a0 /><rect x=20 y=23 fill=#ffd9a4 /><rect x=21 y=23 fill=#ffdaa7 /><rect x=22 y=23 fill=#ffdcaa /><rect x=23 y=23 fill=#ffddae /><rect x=24 y=23 fill=#ffdfb1 /><rect x=25 y=23 fill=#ffe0b4 /><rect x=26 y=23 fill=#ffe1b8 /><rect x=27 y=23 fill=#ffe3bb /><rect x=28 y=23 fill=#ffe4be /><rect x=29 y=23 fill=#ffe5c1 /><rect x=30 y=23 fill=#ffe7c4 /><rect x=31 y=23 fill=#ffe8c7 /><rect x=32 y=23 fill=#ffe9ca /><rect x=33 y=23 fill=#ffeacc /><rect x=34 y=23 fill=#ffebcf /><rect x=35 y=23 fill=#ffecd2 /><rect x=36 y=23 fill=#ffeed5 /><rect x=37 y=23 fill=#ffefd8 /><rect x=38 y=23 fill=#fff0db /><rect x=39 y=23 fill=#fff1dd /><rect x=40 y=23 fill=#fff2e0 />
<rect x=0 y=24 fill=#ffbd5e /><rect x=1 y=24 fill=#ffbe62 /><rect x=2 y=24 fill=#ffc065 /><rect x=3 y=24 fill=#ffc169 /><rect x=4 y=24 fill=#ffc26c /><rect x=5 y=24 fill=#ffc46f /><rect x=6 y=24 fill=#ffc573 /><rect x=7 y=24 fill=#ffc676 /><rect x=8 y=24 fill=#ffc87a /><rect x=9 y=24 fill=#ffc97d /><rect x=10 y=24 fill=#ffca80 /><rect x=11 y=24 fill=#ffcc84 /><rect x=12 y=24 fill=#ffcd87 /><rect x=13 y=24 fill=#ffce8a /><rect x=14 y=24 fill=#ffd08d /><rect x=15 y=24 fill=#ffd190 /><rect x=16 y=24 fill=#ffd294 /><rect x=17 y=24 fill=#ffd497 /><rect x=18 y=24 fill=#ffd59a /><rect x=19 y=24 fill=#ffd69d /><rect x=20 y=24 fill=#ffd7a0 /><rect x=21 y=24 fill=#ffd9a3 /><rect x=22 y=24 fill=#ffdaa6 /><rect x=23 y=24 fill=#ffdbaa /><rect x=24 y=24 fill=#ffddad /><rect x=25 y=24 fill=#ffdeaf /><rect x=26 y=24 fill=#ffdfb3 /><rect x=27 y=24 fill=#ffe1b6 /><rect x=28 y=24 fill=#ffe2b9 /><rect x=29 y=24 fill=#ffe3bc /><rect x=30 y=24 fill=#ffe4bf /><rect x=31 y=24 fill=#ffe6c2 /><rect x=32 y=24 fill=#ffe7c4 /><rect x=33 y=24 fill=#ffe8c7 /><rect x=34 y=24 fill=#ffe9c9 /><rect x=35 y=24 fill=#ffeacc /><rect x=36 y=24 fill=#ffebcf /><rect x=37 y=24 fill=#ffecd2 /><rect x=38 y=24 fill=#ffedd4 /><rect x=39 y=24 fill=#ffeed7 /><rect x=40 y=24 fill=#ffefd9 />
<rect x=0 y=25 fill=#ffbd5e /><rect x=1 y=25 fill=#ffbe61 /><rect x=2 y=25 fill=#ffc065 /><rect x=3 y=25 fill=#ffc168 /><rect x=4 y=25 fill=#ffc26b /><rect x=5 y=25 fill=#ffc36e /><rect x=6 y=25 fill=#ffc572 /><rect x=7 y=25 fill=#ffc675 /><rect x=8 y=25 fill=#ffc778 /><rect x=9 y=25 fill=#ffc87b /><rect x=10 y=25 fill=#ffca7e /><rect x=11 y=25 fill=#ffcb81 /><rect x=12 y=25 fill=#ffcc84 /><rect x=13 y=25 fill=#ffcd87 /><rect x=14 y=25 fill=#ffcf8a /><rect x=15 y=25 fill=#ffd08d /><rect x=16 y=25 fill=#ffd190 /><rect x=17 y=25 fill=#ffd293 /><rect x=18 y=25 fill=#ffd496 /><rect x=19 y=25 fill=#ffd599 /><rect x=20 y=25 fill=#ffd69c /><rect x=21 y=25 fill=#ffd79f /><rect x=22 y=25 fill=#ffd8a2 /><rect x=23 y=25 fill=#ffdaa5 /><rect x=24 y=25 fill=#ffdba8 /><rect x=25 y=25 fill=#ffdcab /><rect x=26 y=25 fill=#ffddaf /><rect x=27 y=25 fill=#ffdfb1 /><rect x=28 y=25 fill=#ffe0b4 /><rect x=29 y=25 fill=#ffe1b7 /><rect x=30 y=25 fill=#ffe2ba /><rect x=31 y=25 fill=#ffe3bc /><rect x=32 y=25 fill=#ffe4bf /><rect x=33 y=25 fill=#ffe5c1 /><rect x=34 y=25 fill=#ffe6c3 /><rect x=35 y=25 fill=#ffe7c6 /><rect x=36 y=25 fill=#ffe9c9 /><rect x=37 y=25 fill=#ffeacc /><rect x=38 y=25 fill=#ffebce /><rect x=39 y=25 fill=#ffecd1 /><rect x=40 y=25 fill=#ffedd3 />
<rect x=0 y=26 fill=#ffbd5e /><rect x=1 y=26 fill=#ffbe61 /><rect x=2 y=26 fill=#ffbf64 /><rect x=3 y=26 fill=#ffc167 /><rect x=4 y=26 fill=#ffc26a /><rect x=5 y=26 fill=#ffc36d /><rect x=6 y=26 fill=#ffc470 /><rect x=7 y=26 fill=#ffc573 /><rect x=8 y=26 fill=#ffc676 /><rect x=9 y=26 fill=#ffc879 /><rect x=10 y=26 fill=#ffc97c /><rect x=11 y=26 fill=#ffca7f /><rect x=12 y=26 fill=#ffcb82 /><rect x=13 y=26 fill=#ffcc85 /><rect x=14 y=26 fill=#ffce88 /><rect x=15 y=26 fill=#ffcf8b /><rect x=16 y=26 fill=#ffd08d /><rect x=17 y=26 fill=#ffd190 /><rect x=18 y=26 fill=#ffd293 /><rect x=19 y=26 fill=#ffd396 /><rect x=20 y=26 fill=#ffd498 /><rect x=21 y=26 fill=#ffd59b /><rect x=22 y=26 fill=#ffd79e /><rect x=23 y=26 fill=#ffd8a1 /><rect x=24 y=26 fill=#ffd9a4 /><rect x=25 y=26 fill=#ffdaa6 /><rect x=26 y=26 fill=#ffdbaa /><rect x=27 y=26 fill=#ffdcac /><rect x=28 y=26 fill=#ffdeaf /><rect x=29 y=26 fill=#ffdfb2 /><rect x=30 y=26 fill=#ffe0b5 /><rect x=31 y=26 fill=#ffe1b7 /><rect x=32 y=26 fill=#ffe2b9 /><rect x=33 y=26 fill=#ffe3bb /><rect x=34 y=26 fill=#ffe4bd /><rect x=35 y=26 fill=#ffe5c0 /><rect x=36 y=26 fill=#ffe6c3 /><rect x=37 y=26 fill=#ffe7c6 /><rect x=38 y=26 fill=#ffe8c8 /><rect x=39 y=26 fill=#ffe9ca /><rect x=40 y=26 fill=#ffeacc />
<rect x=0 y=27 fill=#ffbd5e /><rect x=1 y=27 fill=#ffbe61 /><rect x=2 y=27 fill=#ffbf64 /><rect x=3 y=27 fill=#ffc067 /><rect x=4 y=27 fill=#ffc169 /><rect x=5 y=27 fill=#ffc36c /><rect x=6 y=27 fill=#ffc46f /><rect x=7 y=27 fill=#ffc572 /><rect x=8 y=27 fill=#ffc675 /><rect x=9 y=27 fill=#ffc777 /><rect x=10 y=27 fill=#ffc87a /><rect x=11 y=27 fill=#ffc97d /><rect x=12 y=27 fill=#ffca80 /><rect x=13 y=27 fill=#ffcb82 /><rect x=14 y=27 fill=#ffcc85 /><rect x=15 y=27 fill=#ffcd88 /><rect x=16 y=27 fill=#ffcf8a /><rect x=17 y=27 fill=#ffd08d /><rect x=18 y=27 fill=#ffd18f /><rect x=19 y=27 fill=#ffd292 /><rect x=20 y=27 fill=#ffd395 /><rect x=21 y=27 fill=#ffd497 /><rect x=22 y=27 fill=#ffd59a /><rect x=23 y=27 fill=#ffd69d /><rect x=24 y=27 fill=#ffd79f /><rect x=25 y=27 fill=#ffd8a2 /><rect x=26 y=27 fill=#ffd9a5 /><rect x=27 y=27 fill=#ffdaa7 /><rect x=28 y=27 fill=#ffdba9 /><rect x=29 y=27 fill=#ffddac /><rect x=30 y=27 fill=#ffdeaf /><rect x=31 y=27 fill=#ffdfb1 /><rect x=32 y=27 fill=#ffdfb3 /><rect x=33 y=27 fill=#ffe0b5 /><rect x=34 y=27 fill=#ffe1b7 /><rect x=35 y=27 fill=#ffe2ba /><rect x=36 y=27 fill=#ffe3bd /><rect x=37 y=27 fill=#ffe4bf /><rect x=38 y=27 fill=#ffe5c1 /><rect x=39 y=27 fill=#ffe6c3 /><rect x=40 y=27 fill=#ffe7c5 />
<rect x=0 y=28 fill=#ffbd5e /><rect x=1 y=28 fill=#ffbe61 /><rect x=2 y=28 fill=#ffbf63 /><rect x=3 y=28 fill=#ffc066 /><rect x=4 y=28 fill=#ffc169 /><rect x=5 y=28 fill=#ffc26b /><rect x=6 y=28 fill=#ffc36e /><rect x=7 y=28 fill=#ffc470 /><rect x=8 y=28 fill=#ffc573 /><rect x=9 y=28 fill=#ffc676 /><rect x=10 y=28 fill=#ffc778 /><rect x=11 y=28 fill=#ffc87b /><rect x=12 y=28 fill=#ffc97d /><rect x=13 y=28 fill=#ffca80 /><rect x=14 y=28 fill=#ffcb82 /><rect x=15 y=28 fill=#ffcc85 /><rect x=16 y=28 fill=#ffcd87 /><rect x=17 y=28 fill=#ffce8a /><rect x=18 y=28 fill=#ffcf8c /><rect x=19 y=28 fill=#ffd08e /><rect x=20 y=28 fill=#ffd191 /><rect x=21 y=28 fill=#ffd293 /><rect x=22 y=28 fill=#ffd396 /><rect x=23 y=28 fill=#ffd498 /><rect x=24 y=28 fill=#ffd59b /><rect x=25 y=28 fill=#ffd69d /><rect x=26 y=28 fill=#ffd7a0 /><rect x=27 y=28 fill=#ffd8a2 /><rect x=28 y=28 fill=#ffd9a4 /><rect x=29 y=28 fill=#ffdaa7 /><rect x=30 y=28 fill=#ffdba9 /><rect x=31 y=28 fill=#ffdcac /><rect x=32 y=28 fill=#ffddad /><rect x=33 y=28 fill=#ffdeaf /><rect x=34 y=28 fill=#ffdfb1 /><rect x=35 y=28 fill=#ffe0b4 /><rect x=36 y=28 fill=#ffe1b6 /><rect x=37 y=28 fill=#ffe2b9 /><rect x=38 y=28 fill=#ffe2ba /><rect x=39 y=28 fill=#ffe3bc /><rect x=40 y=28 fill=#ffe4be />
<rect x=0 y=29 fill=#ffbd5e /><rect x=1 y=29 fill=#ffbe61 /><rect x=2 y=29 fill=#ffbf63 /><rect x=3 y=29 fill=#ffc065 /><rect x=4 y=29 fill=#ffc168 /><rect x=5 y=29 fill=#ffc26a /><rect x=6 y=29 fill=#ffc36d /><rect x=7 y=29 fill=#ffc46f /><rect x=8 y=29 fill=#ffc571 /><rect x=9 y=29 fill=#ffc574 /><rect x=10 y=29 fill=#ffc676 /><rect x=11 y=29 fill=#ffc778 /><rect x=12 y=29 fill=#ffc87b /><rect x=13 y=29 fill=#ffc97d /><rect x=14 y=29 fill=#ffca7f /><rect x=15 y=29 fill=#ffcb82 /><rect x=16 y=29 fill=#ffcc84 /><rect x=17 y=29 fill=#ffcd86 /><rect x=18 y=29 fill=#ffce88 /><rect x=19 y=29 fill=#ffcf8b /><rect x=20 y=29 fill=#ffd08d /><rect x=21 y=29 fill=#ffd18f /><rect x=22 y=29 fill=#ffd191 /><rect x=23 y=29 fill=#ffd394 /><rect x=24 y=29 fill=#ffd396 /><rect x=25 y=29 fill=#ffd498 /><rect x=26 y=29 fill=#ffd59b /><rect x=27 y=29 fill=#ffd69d /><rect x=28 y=29 fill=#ffd79f /><rect x=29 y=29 fill=#ffd8a2 /><rect x=30 y=29 fill=#ffd9a4 /><rect x=31 y=29 fill=#ffdaa6 /><rect x=32 y=29 fill=#ffdba8 /><rect x=33 y=29 fill=#ffdba9 /><rect x=34 y=29 fill=#ffdcab /><rect x=35 y=29 fill=#ffddad /><rect x=36 y=29 fill=#ffdeb0 /><rect x=37 y=29 fill=#ffdfb2 /><rect x=38 y=29 fill=#ffe0b4 /><rect x=39 y=29 fill=#ffe0b6 /><rect x=40 y=29 fill=#ffe1b7 />
<rect x=0 y=30 fill=#ffbd5e /><rect x=1 y=30 fill=#ffbe60 /><rect x=2 y=30 fill=#ffbf63 /><rect x=3 y=30 fill=#ffc065 /><rect x=4 y=30 fill=#ffc067 /><rect x=5 y=30 fill=#ffc169 /><rect x=6 y=30 fill=#ffc26b /><rect x=7 y=30 fill=#ffc36d /><rect x=8 y=30 fill=#ffc470 /><rect x=9 y=30 fill=#ffc572 /><rect x=10 y=30 fill=#ffc674 /><rect x=11 y=30 fill=#ffc676 /><rect x=12 y=30 fill=#ffc778 /><rect x=13 y=30 fill=#ffc87a /><rect x=14 y=30 fill=#ffc97c /><rect x=15 y=30 fill=#ffca7f /><rect x=16 y=30 fill=#ffcb81 /><rect x=17 y=30 fill=#ffcb83 /><rect x=18 y=30 fill=#ffcc85 /><rect x=19 y=30 fill=#ffcd87 /><rect x=20 y=30 fill=#ffce89 /><rect x=21 y=30 fill=#ffcf8b /><rect x=22 y=30 fill=#ffd08d /><rect x=23 y=30 fill=#ffd18f /><rect x=24 y=30 fill=#ffd191 /><rect x=25 y=30 fill=#ffd293 /><rect x=26 y=30 fill=#ffd396 /><rect x=27 y=30 fill=#ffd498 /><rect x=28 y=30 fill=#ffd59a /><rect x=29 y=30 fill=#ffd69c /><rect x=30 y=30 fill=#ffd79e /><rect x=31 y=30 fill=#ffd7a0 /><rect x=32 y=30 fill=#ffd8a2 /><rect x=33 y=30 fill=#ffd9a3 /><rect x=34 y=30 fill=#ffd9a5 /><rect x=35 y=30 fill=#ffdaa7 /><rect x=36 y=30 fill=#ffdba9 /><rect x=37 y=30 fill=#ffdcab /><rect x=38 y=30 fill=#ffddad /><rect x=39 y=30 fill=#ffddae /><rect x=40 y=30 fill=#ffdeb0 />
<rect x=0 y=31 fill=#ffbd5e /><rect x=1 y=31 fill=#ffbe60 /><rect x=2 y=31 fill=#ffbf62 /><rect x=3 y=31 fill=#ffbf64 /><rect x=4 y=31 fill=#ffc066 /><rect x=5 y=31 fill=#ffc168 /><rect x=6 y=31 fill=#ffc26a /><rect x=7 y=31 fill=#ffc26c /><rect x=8 y=31 fill=#ffc36e /><rect x=9 y=31 fill=#ffc470 /><rect x=10 y=31 fill=#ffc572 /><rect x=11 y=31 fill=#ffc674 /><rect x=12 y=31 fill=#ffc676 /><rect x=13 y=31 fill=#ffc778 /><rect x=14 y=31 fill=#ffc87a /><rect x=15 y=31 fill=#ffc97c /><rect x=16 y=31 fill=#ffc97d /><rect x=17 y=31 fill=#ffca7f /><rect x=18 y=31 fill=#ffcb81 /><rect x=19 y=31 fill=#ffcc83 /><rect x=20 y=31 fill=#ffcc85 /><rect x=21 y=31 fill=#ffcd87 /><rect x=22 y=31 fill=#ffce89 /><rect x=23 y=31 fill=#ffcf8b /><rect x=24 y=31 fill=#ffd08d /><rect x=25 y=31 fill=#ffd08e /><rect x=26 y=31 fill=#ffd191 /><rect x=27 y=31 fill=#ffd292 /><rect x=28 y=31 fill=#ffd394 /><rect x=29 y=31 fill=#ffd396 /><rect x=30 y=31 fill=#ffd498 /><rect x=31 y=31 fill=#ffd59a /><rect x=32 y=31 fill=#ffd69b /><rect x=33 y=31 fill=#ffd69d /><rect x=34 y=31 fill=#ffd79e /><rect x=35 y=31 fill=#ffd8a0 /><rect x=36 y=31 fill=#ffd8a2 /><rect x=37 y=31 fill=#ffd9a4 /><rect x=38 y=31 fill=#ffdaa6 /><rect x=39 y=31 fill=#ffdaa7 /><rect x=40 y=31 fill=#ffdba9 />
<rect x=0 y=32 fill=#ffbd5e /><rect x=1 y=32 fill=#ffbe60 /><rect x=2 y=32 fill=#ffbe62 /><rect x=3 y=32 fill=#ffbf63 /><rect x=4 y=32 fill=#ffc065 /><rect x=5 y=32 fill=#ffc067 /><rect x=6 y=32 fill=#ffc169 /><rect x=7 y=32 fill=#ffc26b /><rect x=8 y=32 fill=#ffc36c /><rect x=9 y=32 fill=#ffc36e /><rect x=10 y=32 fill=#ffc470 /><rect x=11 y=32 fill=#ffc572 /><rect x=12 y=32 fill=#ffc573 /><rect x=13 y=32 fill=#ffc675 /><rect x=14 y=32 fill=#ffc777 /><rect x=15 y=32 fill=#ffc778 /><rect x=16 y=32 fill=#ffc87a /><rect x=17 y=32 fill=#ffc97c /><rect x=18 y=32 fill=#ffc97e /><rect x=19 y=32 fill=#ffca7f /><rect x=20 y=32 fill=#ffcb81 /><rect x=21 y=32 fill=#ffcb83 /><rect x=22 y=32 fill=#ffcc84 /><rect x=23 y=32 fill=#ffcd86 /><rect x=24 y=32 fill=#ffce88 /><rect x=25 y=32 fill=#ffce89 /><rect x=26 y=32 fill=#ffcf8c /><rect x=27 y=32 fill=#ffd08d /><rect x=28 y=32 fill=#ffd08f /><rect x=29 y=32 fill=#ffd191 /><rect x=30 y=32 fill=#ffd292 /><rect x=31 y=32 fill=#ffd294 /><rect x=32 y=32 fill=#ffd395 /><rect x=33 y=32 fill=#ffd497 /><rect x=34 y=32 fill=#ffd498 /><rect x=35 y=32 fill=#ffd59a /><rect x=36 y=32 fill=#ffd69b /><rect x=37 y=32 fill=#ffd69d /><rect x=38 y=32 fill=#ffd79e /><rect x=39 y=32 fill=#ffd7a0 /><rect x=40 y=32 fill=#ffd8a1 />
<rect x=0 y=33 fill=#ffbd5e /><rect x=1 y=33 fill=#ffbe60 /><rect x=2 y=33 fill=#ffbe61 /><rect x=3 y=33 fill=#ffbf63 /><rect x=4 y=33 fill=#ffbf64 /><rect x=5 y=33 fill=#ffc066 /><rect x=6 y=33 fill=#ffc167 /><rect x=7 y=33 fill=#ffc169 /><rect x=8 y=33 fill=#ffc26b /><rect x=9 y=33 fill=#ffc26c /><rect x=10 y=33 fill=#ffc36e /><rect x=11 y=33 fill=#ffc46f /><rect x=12 y=33 fill=#ffc471 /><rect x=13 y=33 fill=#ffc572 /><rect x=14 y=33 fill=#ffc574 /><rect x=15 y=33 fill=#ffc675 /><rect x=16 y=33 fill=#ffc777 /><rect x=17 y=33 fill=#ffc778 /><rect x=18 y=33 fill=#ffc87a /><rect x=19 y=33 fill=#ffc87b /><rect x=20 y=33 fill=#ffc97d /><rect x=21 y=33 fill=#ffca7e /><rect x=22 y=33 fill=#ffca80 /><rect x=23 y=33 fill=#ffcb82 /><rect x=24 y=33 fill=#ffcc83 /><rect x=25 y=33 fill=#ffcc84 /><rect x=26 y=33 fill=#ffcd86 /><rect x=27 y=33 fill=#ffcd88 /><rect x=28 y=33 fill=#ffce89 /><rect x=29 y=33 fill=#ffcf8b /><rect x=30 y=33 fill=#ffcf8c /><rect x=31 y=33 fill=#ffd08e /><rect x=32 y=33 fill=#ffd08f /><rect x=33 y=33 fill=#ffd190 /><rect x=34 y=33 fill=#ffd191 /><rect x=35 y=33 fill=#ffd293 /><rect x=36 y=33 fill=#ffd394 /><rect x=37 y=33 fill=#ffd396 /><rect x=38 y=33 fill=#ffd497 /><rect x=39 y=33 fill=#ffd498 /><rect x=40 y=33 fill=#ffd59a />
<rect x=0 y=34 fill=#ffbd5e /><rect x=1 y=34 fill=#ffbe60 /><rect x=2 y=34 fill=#ffbe61 /><rect x=3 y=34 fill=#ffbf62 /><rect x=4 y=34 fill=#ffbf63 /><rect x=5 y=34 fill=#ffc065 /><rect x=6 y=34 fill=#ffc066 /><rect x=7 y=34 fill=#ffc168 /><rect x=8 y=34 fill=#ffc169 /><rect x=9 y=34 fill=#ffc26a /><rect x=10 y=34 fill=#ffc26c /><rect x=11 y=34 fill=#ffc36d /><rect x=12 y=34 fill=#ffc36e /><rect x=13 y=34 fill=#ffc46f /><rect x=14 y=34 fill=#ffc471 /><rect x=15 y=34 fill=#ffc572 /><rect x=16 y=34 fill=#ffc573 /><rect x=17 y=34 fill=#ffc675 /><rect x=18 y=34 fill=#ffc676 /><rect x=19 y=34 fill=#ffc777 /><rect x=20 y=34 fill=#ffc779 /><rect x=21 y=34 fill=#ffc87a /><rect x=22 y=34 fill=#ffc87b /><rect x=23 y=34 fill=#ffc97d /><rect x=24 y=34 fill=#ffca7e /><rect x=25 y=34 fill=#ffca7f /><rect x=26 y=34 fill=#ffcb81 /><rect x=27 y=34 fill=#ffcb82 /><rect x=28 y=34 fill=#ffcc83 /><rect x=29 y=34 fill=#ffcc85 /><rect x=30 y=34 fill=#ffcd86 /><rect x=31 y=34 fill=#ffcd87 /><rect x=32 y=34 fill=#ffce88 /><rect x=33 y=34 fill=#ffce89 /><rect x=34 y=34 fill=#ffcf8b /><rect x=35 y=34 fill=#ffcf8c /><rect x=36 y=34 fill=#ffd08d /><rect x=37 y=34 fill=#ffd08f /><rect x=38 y=34 fill=#ffd190 /><rect x=39 y=34 fill=#ffd191 /><rect x=40 y=34 fill=#ffd292 />
<rect x=0 y=35 fill=#ffbd5e /><rect x=1 y=35 fill=#ffbd5f /><rect x=2 y=35 fill=#ffbe60 /><rect x=3 y=35 fill=#ffbe62 /><rect x=4 y=35 fill=#ffbf63 /><rect x=5 y=35 fill=#ffbf64 /><rect x=6 y=35 fill=#ffc065 /><rect x=7 y=35 fill=#ffc066 /><rect x=8 y=35 fill=#ffc167 /><rect x=9 y=35 fill=#ffc168 /><rect x=10 y=35 fill=#ffc169 /><rect x=11 y=35 fill=#ffc26a /><rect x=12 y=35 fill=#ffc26c /><rect x=13 y=35 fill=#ffc36d /><rect x=14 y=35 fill=#ffc36e /><rect x=15 y=35 fill=#ffc46f /><rect x=16 y=35 fill=#ffc470 /><rect x=17 y=35 fill=#ffc471 /><rect x=18 y=35 fill=#ffc572 /><rect x=19 y=35 fill=#ffc573 /><rect x=20 y=35 fill=#ffc674 /><rect x=21 y=35 fill=#ffc676 /><rect x=22 y=35 fill=#ffc777 /><rect x=23 y=35 fill=#ffc778 /><rect x=24 y=35 fill=#ffc879 /><rect x=25 y=35 fill=#ffc87a /><rect x=26 y=35 fill=#ffc97b /><rect x=27 y=35 fill=#ffc97c /><rect x=28 y=35 fill=#ffc97d /><rect x=29 y=35 fill=#ffca7f /><rect x=30 y=35 fill=#ffca80 /><rect x=31 y=35 fill=#ffcb81 /><rect x=32 y=35 fill=#ffcb82 /><rect x=33 y=35 fill=#ffcb83 /><rect x=34 y=35 fill=#ffcc84 /><rect x=35 y=35 fill=#ffcc85 /><rect x=36 y=35 fill=#ffcd86 /><rect x=37 y=35 fill=#ffcd87 /><rect x=38 y=35 fill=#ffce88 /><rect x=39 y=35 fill=#ffce89 /><rect x=40 y=35 fill=#ffce8a />
<rect x=0 y=36 fill=#ffbd5e /><rect x=1 y=36 fill=#ffbd5f /><rect x=2 y=36 fill=#ffbe60 /><rect x=3 y=36 fill=#ffbe61 /><rect x=4 y=36 fill=#ffbe62 /><rect x=5 y=36 fill=#ffbf63 /><rect x=6 y=36 fill=#ffbf64 /><rect x=7 y=36 fill=#ffbf64 /><rect x=8 y=36 fill=#ffc065 /><rect x=9 y=36 fill=#ffc066 /><rect x=10 y=36 fill=#ffc167 /><rect x=11 y=36 fill=#ffc168 /><rect x=12 y=36 fill=#ffc169 /><rect x=13 y=36 fill=#ffc26a /><rect x=14 y=36 fill=#ffc26b /><rect x=15 y=36 fill=#ffc26c /><rect x=16 y=36 fill=#ffc36d /><rect x=17 y=36 fill=#ffc36d /><rect x=18 y=36 fill=#ffc36e /><rect x=19 y=36 fill=#ffc46f /><rect x=20 y=36 fill=#ffc470 /><rect x=21 y=36 fill=#ffc471 /><rect x=22 y=36 fill=#ffc572 /><rect x=23 y=36 fill=#ffc573 /><rect x=24 y=36 fill=#ffc674 /><rect x=25 y=36 fill=#ffc675 /><rect x=26 y=36 fill=#ffc676 /><rect x=27 y=36 fill=#ffc777 /><rect x=28 y=36 fill=#ffc777 /><rect x=29 y=36 fill=#ffc779 /><rect x=30 y=36 fill=#ffc879 /><rect x=31 y=36 fill=#ffc87a /><rect x=32 y=36 fill=#ffc87b /><rect x=33 y=36 fill=#ffc97c /><rect x=34 y=36 fill=#ffc97d /><rect x=35 y=36 fill=#ffc97d /><rect x=36 y=36 fill=#ffca7e /><rect x=37 y=36 fill=#ffca7f /><rect x=38 y=36 fill=#ffca80 /><rect x=39 y=36 fill=#ffcb81 /><rect x=40 y=36 fill=#ffcb82 />
<rect x=0 y=37 fill=#ffbd5e /><rect x=1 y=37 fill=#ffbd5f /><rect x=2 y=37 fill=#ffbe60 /><rect x=3 y=37 fill=#ffbe60 /><rect x=4 y=37 fill=#ffbe61 /><rect x=5 y=37 fill=#ffbe62 /><rect x=6 y=37 fill=#ffbf62 /><rect x=7 y=37 fill=#ffbf63 /><rect x=8 y=37 fill=#ffbf64 /><rect x=9 y=37 fill=#ffbf64 /><rect x=10 y=37 fill=#ffc065 /><rect x=11 y=37 fill=#ffc066 /><rect x=12 y=37 fill=#ffc066 /><rect x=13 y=37 fill=#ffc067 /><rect x=14 y=37 fill=#ffc168 /><rect x=15 y=37 fill=#ffc168 /><rect x=16 y=37 fill=#ffc169 /><rect x=17 y=37 fill=#ffc26a /><rect x=18 y=37 fill=#ffc26a /><rect x=19 y=37 fill=#ffc26b /><rect x=20 y=37 fill=#ffc26c /><rect x=21 y=37 fill=#ffc36c /><rect x=22 y=37 fill=#ffc36d /><rect x=23 y=37 fill=#ffc36e /><rect x=24 y=37 fill=#ffc36f /><rect x=25 y=37 fill=#ffc46f /><rect x=26 y=37 fill=#ffc470 /><rect x=27 y=37 fill=#ffc471 /><rect x=28 y=37 fill=#ffc571 /><rect x=29 y=37 fill=#ffc572 /><rect x=30 y=37 fill=#ffc573 /><rect x=31 y=37 fill=#ffc574 /><rect x=32 y=37 fill=#ffc674 /><rect x=33 y=37 fill=#ffc675 /><rect x=34 y=37 fill=#ffc675 /><rect x=35 y=37 fill=#ffc676 /><rect x=36 y=37 fill=#ffc777 /><rect x=37 y=37 fill=#ffc777 /><rect x=38 y=37 fill=#ffc778 /><rect x=39 y=37 fill=#ffc779 /><rect x=40 y=37 fill=#ffc879 />
<rect x=0 y=38 fill=#ffbd5e /><rect x=1 y=38 fill=#ffbd5f /><rect x=2 y=38 fill=#ffbd5f /><rect x=3 y=38 fill=#ffbe60 /><rect x=4 y=38 fill=#ffbe60 /><rect x=5 y=38 fill=#ffbe60 /><rect x=6 y=38 fill=#ffbe61 /><rect x=7 y=38 fill=#ffbe61 /><rect x=8 y=38 fill=#ffbe62 /><rect x=9 y=38 fill=#ffbf62 /><rect x=10 y=38 fill=#ffbf63 /><rect x=11 y=38 fill=#ffbf63 /><rect x=12 y=38 fill=#ffbf64 /><rect x=13 y=38 fill=#ffbf64 /><rect x=14 y=38 fill=#ffc065 /><rect x=15 y=38 fill=#ffc065 /><rect x=16 y=38 fill=#ffc066 /><rect x=17 y=38 fill=#ffc066 /><rect x=18 y=38 fill=#ffc066 /><rect x=19 y=38 fill=#ffc067 /><rect x=20 y=38 fill=#ffc167 /><rect x=21 y=38 fill=#ffc168 /><rect x=22 y=38 fill=#ffc168 /><rect x=23 y=38 fill=#ffc169 /><rect x=24 y=38 fill=#ffc169 /><rect x=25 y=38 fill=#ffc26a /><rect x=26 y=38 fill=#ffc26a /><rect x=27 y=38 fill=#ffc26b /><rect x=28 y=38 fill=#ffc26b /><rect x=29 y=38 fill=#ffc26c /><rect x=30 y=38 fill=#ffc26c /><rect x=31 y=38 fill=#ffc36d /><rect x=32 y=38 fill=#ffc36d /><rect x=33 y=38 fill=#ffc36d /><rect x=34 y=38 fill=#ffc36e /><rect x=35 y=38 fill=#ffc36e /><rect x=36 y=38 fill=#ffc46f /><rect x=37 y=38 fill=#ffc46f /><rect x=38 y=38 fill=#ffc470 /><rect x=39 y=38 fill=#ffc470 /><rect x=40 y=38 fill=#ffc471 />
<rect x=0 y=39 fill=#ffbd5e /><rect x=1 y=39 fill=#ffbd5e /><rect x=2 y=39 fill=#ffbd5f /><rect x=3 y=39 fill=#ffbd5f /><rect x=4 y=39 fill=#ffbd5f /><rect x=5 y=39 fill=#ffbe5f /><rect x=6 y=39 fill=#ffbe60 /><rect x=7 y=39 fill=#ffbe60 /><rect x=8 y=39 fill=#ffbe60 /><rect x=9 y=39 fill=#ffbe60 /><rect x=10 y=39 fill=#ffbe61 /><rect x=11 y=39 fill=#ffbe61 /><rect x=12 y=39 fill=#ffbe61 /><rect x=13 y=39 fill=#ffbe61 /><rect x=14 y=39 fill=#ffbe61 /><rect x=15 y=39 fill=#ffbe62 /><rect x=16 y=39 fill=#ffbe62 /><rect x=17 y=39 fill=#ffbf62 /><rect x=18 y=39 fill=#ffbf62 /><rect x=19 y=39 fill=#ffbf63 /><rect x=20 y=39 fill=#ffbf63 /><rect x=21 y=39 fill=#ffbf63 /><rect x=22 y=39 fill=#ffbf63 /><rect x=23 y=39 fill=#ffbf64 /><rect x=24 y=39 fill=#ffbf64 /><rect x=25 y=39 fill=#ffbf64 /><rect x=26 y=39 fill=#ffbf64 /><rect x=27 y=39 fill=#ffc065 /><rect x=28 y=39 fill=#ffc065 /><rect x=29 y=39 fill=#ffc065 /><rect x=30 y=39 fill=#ffc065 /><rect x=31 y=39 fill=#ffc066 /><rect x=32 y=39 fill=#ffc066 /><rect x=33 y=39 fill=#ffc066 /><rect x=34 y=39 fill=#ffc066 /><rect x=35 y=39 fill=#ffc066 /><rect x=36 y=39 fill=#ffc067 /><rect x=37 y=39 fill=#ffc067 /><rect x=38 y=39 fill=#ffc167 /><rect x=39 y=39 fill=#ffc167 /><rect x=40 y=39 fill=#ffc168 />
<rect x=0 y=40 fill=#ffbd5e /><rect x=1 y=40 fill=#ffbd5e /><rect x=2 y=40 fill=#ffbd5e /><rect x=3 y=40 fill=#ffbd5e /><rect x=4 y=40 fill=#ffbd5e /><rect x=5 y=40 fill=#ffbd5e /><rect x=6 y=40 fill=#ffbd5e /><rect x=7 y=40 fill=#ffbd5e /><rect x=8 y=40 fill=#ffbd5e /><rect x=9 y=40 fill=#ffbd5e /><rect x=10 y=40 fill=#ffbd5e /><rect x=11 y=40 fill=#ffbd5e /><rect x=12 y=40 fill=#ffbd5e /><rect x=13 y=40 fill=#ffbd5e /><rect x=14 y=40 fill=#ffbd5e /><rect x=15 y=40 fill=#ffbd5e /><rect x=16 y=40 fill=#ffbd5e /><rect x=17 y=40 fill=#ffbd5e /><rect x=18 y=40 fill=#ffbd5e /><rect x=19 y=40 fill=#ffbd5e /><rect x=20 y=40 fill=#ffbd5e /><rect x=21 y=40 fill=#ffbd5e /><rect x=22 y=40 fill=#ffbd5e /><rect x=23 y=40 fill=#ffbd5e /><rect x=24 y=40 fill=#ffbd5e /><rect x=25 y=40 fill=#ffbd5e /><rect x=26 y=40 fill=#ffbd5e /><rect x=27 y=40 fill=#ffbd5e /><rect x=28 y=40 fill=#ffbd5e /><rect x=29 y=40 fill=#ffbd5e /><rect x=30 y=40 fill=#ffbd5e /><rect x=31 y=40 fill=#ffbd5e /><rect x=32 y=40 fill=#ffbd5e /><rect x=33 y=40 fill=#ffbd5e /><rect x=34 y=40 fill=#ffbd5e /><rect x=35 y=40 fill=#ffbd5e /><rect x=36 y=40 fill=#ffbd5e /><rect x=37 y=40 fill=#ffbd5e /><rect x=38 y=40 fill=#ffbd5e /><rect x=39 y=40 fill=#ffbd5e /><rect x=40 y=40 fill=#ffbd5e />
</svg>
<path class="cl" d="M187.1 28.3 C187.5 29.2 188.7 32.0 189.6 33.7 C190.5 35.5 191.4 37.1 192.7 38.8 C194.0 40.5 195.7 42.1 197.2 43.8 C198.7 45.5 200.4 47.1 201.8 48.9 C203.2 50.7 204.2 52.7 205.4 54.5 C206.6 56.3 207.4 57.9 208.9 59.6 C210.4 61.3 212.6 63.0 214.5 64.7 C216.4 66.4 218.4 68.0 220.1 69.8 C221.8 71.5 223.1 73.3 224.8 75.2 C226.5 77.1 228.3 79.2 230.4 81.0 C232.5 82.8 234.7 84.6 237.2 86.3 C239.7 88.0 242.4 89.6 245.3 91.4 C248.2 93.2 251.5 95.2 254.5 97.0 C257.5 98.8 260.6 100.3 263.1 102.0 C265.7 103.7 267.3 105.5 269.8 107.1 C272.3 108.7 275.4 110.4 277.9 111.7 C280.4 113.0 283.4 114.1 285.0 114.8 C286.6 115.5 286.9 115.7 287.3 115.9 M292.1 118.1 L296.2 119.7"/>
<text class="c0" text-anchor="middle" transform="translate(289.7 117.1) rotate(23.9)" y="2.85">0</text>
<text class="ti" x="30.6" y="8.2"><tspan font-weight="bold">a)</tspan> Indonesia</text>
<text class="tk" text-anchor="end" x="26.3" y="31.8">1.5</text>
<text class="tk" text-anchor="end" x="26.3" y="72.8">1.4</text>
<text class="tk" text-anchor="end" x="26.3" y="113.6">1.3</text>
<text class="tk" text-anchor="end" x="26.3" y="154.5">1.2</text>
<text class="tk" text-anchor="end" x="26.3" y="195.4">1.1</text>
<text class="tk" text-anchor="end" x="26.3" y="236.3">1.0</text>
<text class="tk" text-anchor="middle" x="46.2" y="257">0</text>
<text class="tk" text-anchor="middle" x="108.7" y="257">1</text>
<text class="tk" text-anchor="middle" x="171.1" y="257">2</text>
<text class="tk" text-anchor="middle" x="233.5" y="257">3</text>
<text class="tk" text-anchor="middle" x="296" y="257">4</text>
<svg class="t" x="349.35" y="25.9" width="256.0" height="210.0" viewBox="0 0 41 41" preserveAspectRatio="none" shape-rendering="crispEdges">
<rect x=0 y=0 fill=#ffedd4 /><rect x=1 y=0 fill=#fff0da /><rect x=2 y=0 fill=#fff2e0 /><rect x=3 y=0 fill=#fff4e5 /><rect x=4 y=0 fill=#fff7eb /><rect x=5 y=0 fill=#fff9f0 /><rect x=6 y=0 fill=#fffbf5 /><rect x=7 y=0 fill=#fffdfa /><rect x=8 y=0 fill=#ffffff /><rect x=9 y=0 fill=#fcfcff /><rect x=10 y=0 fill=#f9f9fe /><rect x=11 y=0 fill=#f5f5fe /><rect x=12 y=0 fill=#f3f2fd /><rect x=13 y=0 fill=#f0effd /><rect x=14 y=0 fill=#edecfc /><rect x=15 y=0 fill=#eaeafc /><rect x=16 y=0 fill=#e7e7fb /><rect x=17 y=0 fill=#e4e3fb /><rect x=18 y=0 fill=#e1e0fa /><rect x=19 y=0 fill=#dedefa /><rect x=20 y=0 fill=#dbdbf9 /><rect x=21 y=0 fill=#d9d8f9 /><rect x=22 y=0 fill=#d6d5f8 /><rect x=23 y=0 fill=#d3d3f8 /><rect x=24 y=0 fill=#d1d1f7 /><rect x=25 y=0 fill=#cfcff7 /><rect x=26 y=0 fill=#cdcdf7 /><rect x=27 y=0 fill=#cbcbf7 /><rect x=28 y=0 fill=#c9caf6 /><rect x=29 y=0 fill=#c8c8f6 /><rect x=30 y=0 fill=#c6c6f6 /><rect x=31 y=0 fill=#c4c5f5 /><rect x=32 y=0 fill=#c2c3f5 /><rect x=33 y=0 fill=#c1c2f5 /><rect x=34 y=0 fill=#bfc0f4 /><rect x=35 y=0 fill=#bdbef4 /><rect x=36 y=0 fill=#bcbdf4 /><rect x=37 y=0 fill=#babcf4 /><rect x=38 y=0 fill=#b8baf3 /><rect x=39 y=0 fill=#b6b8f3 /><rect x=40 y=0 fill=#b4b6f2 />
<rect x=0 y=1 fill=#ffedd4 /><rect x=1 y=1 fill=#fff0da /><rect x=2 y=1 fill=#fff2e0 /><rect x=3 y=1 fill=#fff4e5 /><rect x=4 y=1 fill=#fff6ea /><rect x=5 y=1 fill=#fff8ef /><rect x=6 y=1 fill=#fffbf4 /><rect x=7 y=1 fill=#fffcf9 /><rect x=8 y=1 fill=#fffefe /><rect x=9 y=1 fill=#fdfdff /><rect x=10 y=1 fill=#faf9fe /><rect x=11 y=1 fill=#f6f6fe /><rect x=12 y=1 fill=#f4f3fd /><rect x=13 y=1 fill=#f1f0fd /><rect x=14 y=1 fill=#eeedfc /><rect x=15 y=1 fill=#ebebfc /><rect x=16 y=1 fill=#e8e8fb /><rect x=17 y=1 fill=#e5e4fb /><rect x=18 y=1 fill=#e2e1fa /><rect x=19 y=1 fill=#dfdffa /><rect x=20 y=1 fill=#dddcfa /><rect x=21 y=1 fill=#dadaf9 /><rect x=22 y=1 fill=#d7d7f9 /><rect x=23 y=1 fill=#d4d4f8 /><rect x=24 y=1 fill=#d2d2f8 /><rect x=25 y=1 fill=#d0d0f7 /><rect x=26 y=1 fill=#cecef7 /><rect x=27 y=1 fill=#cdcdf7 /><rect x=28 y=1 fill=#cbcbf6 /><rect x=29 y=1 fill=#c9c9f6 /><rect x=30 y=1 fill=#c7c8f6 /><rect x=31 y=1 fill=#c6c6f6 /><rect x=32 y=1 fill=#c4c5f5 /><rect x=33 y=1 fill=#c2c3f5 /><rect x=34 y=1 fill=#c0c1f5 /><rect x=35 y=1 fill=#bfc0f4 /><rect x=36 y=1 fill=#bdbff4 /><rect x=37 y=1 fill=#bcbdf4 /><rect x=38 y=1 fill=#babbf4 /><rect x=39 y=1 fill=#b8b9f3 /><rect x=40 y=1 fill=#b5b7f3 />
<rect x=0 y=2 fill=#ffedd4 /><rect x=1 y=2 fill=#ffefda /><rect x=2 y=2 fill=#fff2df /><rect x=3 y=2 fill=#fff4e5 /><rect x=4 y=2 fill=#fff6ea /><rect x=5 y=2 fill=#fff8ef /><rect x=6 y=2 fill=#fffaf3 /><rect x=7 y=2 fill=#fffcf8 /><rect x=8 y=2 fill=#fffefd /><rect x=9 y=2 fill=#fefdff /><rect x=10 y=2 fill=#fafafe /><rect x=11 y=2 fill=#f7f7fe /><rect x=12 y=2 fill=#f4f4fd /><rect x=13 y=2 fill=#f2f1fd /><rect x=14 y=2 fill=#efeffc /><rect x=15 y=2 fill=#ececfc /><rect x=16 y=2 fill=#eae9fc /><rect x=17 y=2 fill=#e6e6fb /><rect x=18 y=2 fill=#e3e3fb /><rect x=19 y=2 fill=#e1e0fa /><rect x=20 y=2 fill=#dedefa /><rect x=21 y=2 fill=#dbdbf9 /><rect x=22 y=2 fill=#d9d8f9 /><rect x=23 y=2 fill=#d6d6f8 /><rect x=24 y=2 fill=#d4d4f8 /><rect x=25 y=2 fill=#d2d2f8 /><rect x=26 y=2 fill=#d0d0f7 /><rect x=27 y=2 fill=#cecef7 /><rect x=28 y=2 fill=#cccdf7 /><rect x=29 y=2 fill=#cbcbf6 /><rect x=30 y=2 fill=#c9c9f6 /><rect x=31 y=2 fill=#c7c8f6 /><rect x=32 y=2 fill=#c6c6f6 /><rect x=33 y=2 fill=#c4c5f5 /><rect x=34 y=2 fill=#c2c3f5 /><rect x=35 y=2 fill=#c1c2f5 /><rect x=36 y=2 fill=#bfc0f4 /><rect x=37 y=2 fill=#bebff4 /><rect x=38 y=2 fill=#bcbdf4 /><rect x=39 y=2 fill=#babbf3 /><rect x=40 y=2 fill=#b7b9f3 />
<rect x=0 y=3 fill=#ffedd4 /><rect x=1 y=3 fill=#ffefda /><rect x=2 y=3 fill=#fff2df /><rect x=3 y=3 fill=#fff4e4 /><rect x=4 y=3 fill=#fff6e9 /><rect x=5 y=3 fill=#fff8ee /><rect x=6 y=3 fill=#fffaf3 /><rect x=7 y=3 fill=#fffcf7 /><rect x=8 y=3 fill=#fffefc /><rect x=9 y=3 fill=#fefeff /><rect x=10 y=3 fill=#fbfbfe /><rect x=11 y=3 fill=#f8f8fe /><rect x=12 y=3 fill=#f5f5fe /><rect x=13 y=3 fill=#f3f3fd /><rect x=14 y=3 fill=#f0f0fd /><rect x=15 y=3 fill=#eeedfc /><rect x=16 y=3 fill=#ebeafc /><rect x=17 y=3 fill=#e7e7fb /><rect x=18 y=3 fill=#e4e4fb /><rect x=19 y=3 fill=#e2e1fa /><rect x=20 y=3 fill=#dfdffa /><rect x=21 y=3 fill=#dddcfa /><rect x=22 y=3 fill=#dadaf9 /><rect x=23 y=3 fill=#d7d7f9 /><rect x=24 y=3 fill=#d5d5f8 /><rect x=25 y=3 fill=#d3d3f8 /><rect x=26 y=3 fill=#d1d1f8 /><rect x=27 y=3 fill=#d0d0f7 /><rect x=28 y=3 fill=#cecef7 /><rect x=29 y=3 fill=#cccdf7 /><rect x=30 y=3 fill=#cbcbf6 /><rect x=31 y=3 fill=#c9caf6 /><rect x=32 y=3 fill=#c7c8f6 /><rect x=33 y=3 fill=#c6c6f6 /><rect x=34 y=3 fill=#c4c5f5 /><rect x=35 y=3 fill=#c3c3f5 /><rect x=36 y=3 fill=#c1c2f5 /><rect x=37 y=3 fill=#bfc0f5 /><rect x=38 y=3 fill=#bdbff4 /><rect x=39 y=3 fill=#bbbdf4 /><rect x=40 y=3 fill=#b9bbf3 />
<rect x=0 y=4 fill=#ffedd4 /><rect x=1 y=4 fill=#ffefd9 /><rect x=2 y=4 fill=#fff2df /><rect x=3 y=4 fill=#fff4e4 /><rect x=4 y=4 fill=#fff6e9 /><rect x=5 y=4 fill=#fff8ed /><rect x=6 y=4 fill=#fffaf2 /><rect x=7 y=4 fill=#fffbf6 /><rect x=8 y=4 fill=#fffdfb /><rect x=9 y=4 fill=#ffffff /><rect x=10 y=4 fill=#fcfcff /><rect x=11 y=4 fill=#f9f9fe /><rect x=12 y=4 fill=#f6f6fe /><rect x=13 y=4 fill=#f4f4fd /><rect x=14 y=4 fill=#f1f1fd /><rect x=15 y=4 fill=#efeefc /><rect x=16 y=4 fill=#ecebfc /><rect x=17 y=4 fill=#e9e8fb /><rect x=18 y=4 fill=#e6e5fb /><rect x=19 y=4 fill=#e3e3fb /><rect x=20 y=4 fill=#e1e0fa /><rect x=21 y=4 fill=#dedefa /><rect x=22 y=4 fill=#dbdbf9 /><rect x=23 y=4 fill=#d9d9f9 /><rect x=24 y=4 fill=#d7d7f9 /><rect x=25 y=4 fill=#d5d5f8 /><rect x=26 y=4 fill=#d3d3f8 /><rect x=27 y=4 fill=#d1d1f8 /><rect x=28 y=4 fill=#d0d0f7 /><rect x=29 y=4 fill=#cecef7 /><rect x=30 y=4 fill=#cdcdf7 /><rect x=31 y=4 fill=#cbcbf6 /><rect x=32 y=4 fill=#c9caf6 /><rect x=33 y=4 fill=#c8c8f6 /><rect x=34 y=4 fill=#c6c6f6 /><rect x=35 y=4 fill=#c4c5f5 /><rect x=36 y=4 fill=#c3c4f5 /><rect x=37 y=4 fill=#c1c2f5 /><rect x=38 y=4 fill=#bfc0f5 /><rect x=39 y=4 fill=#bdbef4 /><rect x=40 y=4 fill=#bbbdf4 />
<rect x=0 y=5 fill=#ffedd4 /><rect x=1 y=5 fill=#ffefd9 /><rect x=2 y=5 fill=#fff1de /><rect x=3 y=5 fill=#fff3e3 /><rect x=4 y=5 fill=#fff5e8 /><rect x=5 y=5 fill=#fff7ed /><rect x=6 y=5 fill=#fff9f1 /><rect x=7 y=5 fill=#fffbf5 /><rect x=8 y=5 fill=#fffdfa /><rect x=9 y=5 fill=#fffefe /><rect x=10 y=5 fill=#fdfdff /><rect x=11 y=5 fill=#fafafe /><rect x=12 y=5 fill=#f7f7fe /><rect x=13 y=5 fill=#f5f5fd /><rect x=14 y=5 fill=#f2f2fd /><rect x=15 y=5 fill=#f0effd /><rect x=16 y=5 fill=#ededfc /><rect x=17 y=5 fill=#eae9fc /><rect x=18 y=5 fill=#e7e7fb /><rect x=19 y=5 fill=#e5e4fb /><rect x=20 y=5 fill=#e2e2fa /><rect x=21 y=5 fill=#e0dffa /><rect x=22 y=5 fill=#ddddfa /><rect x=23 y=5 fill=#dadaf9 /><rect x=24 y=5 fill=#d8d8f9 /><rect x=25 y=5 fill=#d7d6f8 /><rect x=26 y=5 fill=#d5d4f8 /><rect x=27 y=5 fill=#d3d3f8 /><rect x=28 y=5 fill=#d1d1f8 /><rect x=29 y=5 fill=#d0d0f7 /><rect x=30 y=5 fill=#cecef7 /><rect x=31 y=5 fill=#cdcdf7 /><rect x=32 y=5 fill=#cbcbf7 /><rect x=33 y=5 fill=#c9caf6 /><rect x=34 y=5 fill=#c8c8f6 /><rect x=35 y=5 fill=#c6c7f6 /><rect x=36 y=5 fill=#c5c5f5 /><rect x=37 y=5 fill=#c3c4f5 /><rect x=38 y=5 fill=#c1c2f5 /><rect x=39 y=5 fill=#bfc0f4 /><rect x=40 y=5 fill=#bdbef4 />
<rect x=0 y=6 fill=#ffedd4 /><rect x=1 y=6 fill=#ffefd9 /><rect x=2 y=6 fill=#fff1de /><rect x=3 y=6 fill=#fff3e3 /><rect x=4 y=6 fill=#fff5e7 /><rect x=5 y=6 fill=#fff7ec /><rect x=6 y=6 fill=#fff9f0 /><rect x=7 y=6 fill=#fffbf4 /><rect x=8 y=6 fill=#fffcf9 /><rect x=9 y=6 fill=#fffefd /><rect x=10 y=6 fill=#fefeff /><rect x=11 y=6 fill=#fbfbfe /><rect x=12 y=6 fill=#f8f8fe /><rect x=13 y=6 fill=#f6f6fe /><rect x=14 y=6 fill=#f3f3fd /><rect x=15 y=6 fill=#f1f1fd /><rect x=16 y=6 fill=#eeeefc /><rect x=17 y=6 fill=#ebebfc /><rect x=18 y=6 fill=#e8e8fb /><rect x=19 y=6 fill=#e6e5fb /><rect x=20 y=6 fill=#e4e3fb /><rect x=21 y=6 fill=#e1e1fa /><rect x=22 y=6 fill=#dedefa /><rect x=23 y=6 fill=#dcdcf9 /><rect x=24 y=6 fill=#dadaf9 /><rect x=25 y=6 fill=#d8d8f9 /><rect x=26 y=6 fill=#d6d6f8 /><rect x=27 y=6 fill=#d5d5f8 /><rect x=28 y=6 fill=#d3d3f8 /><rect x=29 y=6 fill=#d2d1f8 /><rect x=30 y=6 fill=#d0d0f7 /><rect x=31 y=6 fill=#cecef7 /><rect x=32 y=6 fill=#cdcdf7 /><rect x=33 y=6 fill=#cbcbf7 /><rect x=34 y=6 fill=#c9caf6 /><rect x=35 y=6 fill=#c8c8f6 /><rect x=36 y=6 fill=#c7c7f6 /><rect x=37 y=6 fill=#c5c6f5 /><rect x=38 y=6 fill=#c3c4f5 /><rect x=39 y=6 fill=#c1c2f5 /><rect x=40 y=6 fill=#bfc0f4 />
<rect x=0 y=7 fill=#ffedd4 /><rect x=1 y=7 fill=#ffefd9 /><rect x=2 y=7 fill=#fff1de /><rect x=3 y=7 fill=#fff3e2 /><rect x=4 y=7 fill=#fff5e7 /><rect x=5 y=7 fill=#fff7eb /><rect x=6 y=7 fill=#fff9ef /><rect x=7 y=7 fill=#fffaf4 /><rect x=8 y=7 fill=#fffcf8 /><rect x=9 y=7 fill=#fffefc /><rect x=10 y=7 fill=#ffffff /><rect x=11 y=7 fill=#fcfcfe /><rect x=12 y=7 fill=#f9f9fe /><rect x=13 y=7 fill=#f7f7fe /><rect x=14 y=7 fill=#f4f4fd /><rect x=15 y=7 fill=#f2f2fd /><rect x=16 y=7 fill=#efeffd /><rect x=17 y=7 fill=#ececfc /><rect x=18 y=7 fill=#eae9fc /><rect x=19 y=7 fill=#e7e7fb /><rect x=20 y=7 fill=#e5e5fb /><rect x=21 y=7 fill=#e3e2fa /><rect x=22 y=7 fill=#e0e0fa /><rect x=23 y=7 fill=#deddfa /><rect x=24 y=7 fill=#dcdbf9 /><rect x=25 y=7 fill=#dad9f9 /><rect x=26 y=7 fill=#d8d8f9 /><rect x=27 y=7 fill=#d6d6f8 /><rect x=28 y=7 fill=#d5d5f8 /><rect x=29 y=7 fill=#d3d3f8 /><rect x=30 y=7 fill=#d2d2f8 /><rect x=31 y=7 fill=#d0d0f7 /><rect x=32 y=7 fill=#cfcff7 /><rect x=33 y=7 fill=#cdcdf7 /><rect x=34 y=7 fill=#cbccf7 /><rect x=35 y=7 fill=#cacaf6 /><rect x=36 y=7 fill=#c9c9f6 /><rect x=37 y=7 fill=#c7c7f6 /><rect x=38 y=7 fill=#c5c6f6 /><rect x=39 y=7 fill=#c3c4f5 /><rect x=40 y=7 fill=#c1c2f5 />
<rect x=0 y=8 fill=#ffedd4 /><rect x=1 y=8 fill=#ffefd9 /><rect x=2 y=8 fill=#fff1dd /><rect x=3 y=8 fill=#fff3e2 /><rect x=4 y=8 fill=#fff5e6 /><rect x=5 y=8 fill=#fff6eb /><rect x=6 y=8 fill=#fff8ef /><rect x=7 y=8 fill=#fffaf3 /><rect x=8 y=8 fill=#fffbf7 /><rect x=9 y=8 fill=#fffdfa /><rect x=10 y=8 fill=#fffffe /><rect x=11 y=8 fill=#fdfdff /><rect x=12 y=8 fill=#fafafe /><rect x=13 y=8 fill=#f8f8fe /><rect x=14 y=8 fill=#f5f5fe /><rect x=15 y=8 fill=#f3f3fd /><rect x=16 y=8 fill=#f1f0fd /><rect x=17 y=8 fill=#eeedfc /><rect x=18 y=8 fill=#ebebfc /><rect x=19 y=8 fill=#e9e8fb /><rect x=20 y=8 fill=#e7e6fb /><rect x=21 y=8 fill=#e4e4fb /><rect x=22 y=8 fill=#e2e1fa /><rect x=23 y=8 fill=#dfdffa /><rect x=24 y=8 fill=#ddddfa /><rect x=25 y=8 fill=#dbdbf9 /><rect x=26 y=8 fill=#dad9f9 /><rect x=27 y=8 fill=#d8d8f9 /><rect x=28 y=8 fill=#d7d6f8 /><rect x=29 y=8 fill=#d5d5f8 /><rect x=30 y=8 fill=#d4d3f8 /><rect x=31 y=8 fill=#d2d2f8 /><rect x=32 y=8 fill=#d0d0f7 /><rect x=33 y=8 fill=#cfcff7 /><rect x=34 y=8 fill=#cdcdf7 /><rect x=35 y=8 fill=#ccccf7 /><rect x=36 y=8 fill=#cacbf6 /><rect x=37 y=8 fill=#c9c9f6 /><rect x=38 y=8 fill=#c7c8f6 /><rect x=39 y=8 fill=#c5c6f6 /><rect x=40 y=8 fill=#c3c4f5 />
<rect x=0 y=9 fill=#ffedd4 /><rect x=1 y=9 fill=#ffefd9 /><rect x=2 y=9 fill=#fff1dd /><rect x=3 y=9 fill=#fff3e2 /><rect x=4 y=9 fill=#fff4e6 /><rect x=5 y=9 fill=#fff6ea /><rect x=6 y=9 fill=#fff8ee /><rect x=7 y=9 fill=#fff9f2 /><rect x=8 y=9 fill=#fffbf6 /><rect x=9 y=9 fill=#fffdf9 /><rect x=10 y=9 fill=#fffefd /><rect x=11 y=9 fill=#fefeff /><rect x=12 y=9 fill=#fbfbfe /><rect x=13 y=9 fill=#f9f9fe /><rect x=14 y=9 fill=#f7f6fe /><rect x=15 y=9 fill=#f4f4fd /><rect x=16 y=9 fill=#f2f2fd /><rect x=17 y=9 fill=#efeffc /><rect x=18 y=9 fill=#ececfc /><rect x=19 y=9 fill=#eaeafc /><rect x=20 y=9 fill=#e8e7fb /><rect x=21 y=9 fill=#e6e5fb /><rect x=22 y=9 fill=#e3e3fb /><rect x=23 y=9 fill=#e1e0fa /><rect x=24 y=9 fill=#dfdefa /><rect x=25 y=9 fill=#ddddfa /><rect x=26 y=9 fill=#dbdbf9 /><rect x=27 y=9 fill=#dadaf9 /><rect x=28 y=9 fill=#d8d8f9 /><rect x=29 y=9 fill=#d7d7f9 /><rect x=30 y=9 fill=#d5d5f8 /><rect x=31 y=9 fill=#d4d4f8 /><rect x=32 y=9 fill=#d2d2f8 /><rect x=33 y=9 fill=#d1d1f8 /><rect x=34 y=9 fill=#cfcff7 /><rect x=35 y=9 fill=#cecef7 /><rect x=36 y=9 fill=#cccdf7 /><rect x=37 y=9 fill=#cbcbf7 /><rect x=38 y=9 fill=#c9caf6 /><rect x=39 y=9 fill=#c7c8f6 /><rect x=40 y=9 fill=#c5c6f6 />
<rect x=0 y=10 fill=#ffedd4 /><rect x=1 y=10 fill=#ffefd8 /><rect x=2 y=10 fill=#fff1dd /><rect x=3 y=10 fill=#fff3e1 /><rect x=4 y=10 fill=#fff4e5 /><rect x=5 y=10 fill=#fff6e9 /><rect x=6 y=10 fill=#fff8ed /><rect x=7 y=10 fill=#fff9f1 /><rect x=8 y=10 fill=#fffbf5 /><rect x=9 y=10 fill=#fffcf8 /><rect x=10 y=10 fill=#fffefc /><rect x=11 y=10 fill=#fffeff /><rect x=12 y=10 fill=#fcfcff /><rect x=13 y=10 fill=#fafafe /><rect x=14 y=10 fill=#f8f7fe /><rect x=15 y=10 fill=#f6f5fe /><rect x=16 y=10 fill=#f3f3fd /><rect x=17 y=10 fill=#f0f0fd /><rect x=18 y=10 fill=#eeedfc /><rect x=19 y=10 fill=#ecebfc /><rect x=20 y=10 fill=#e9e9fc /><rect x=21 y=10 fill=#e7e7fb /><rect x=22 y=10 fill=#e5e4fb /><rect x=23 y=10 fill=#e2e2fa /><rect x=24 y=10 fill=#e1e0fa /><rect x=25 y=10 fill=#dfdefa /><rect x=26 y=10 fill=#ddddfa /><rect x=27 y=10 fill=#dcdbf9 /><rect x=28 y=10 fill=#dadaf9 /><rect x=29 y=10 fill=#d9d8f9 /><rect x=30 y=10 fill=#d7d7f9 /><rect x=31 y=10 fill=#d6d6f8 /><rect x=32 y=10 fill=#d4d4f8 /><rect x=33 y=10 fill=#d3d3f8 /><rect x=34 y=10 fill=#d1d1f8 /><rect x=35 y=10 fill=#d0d0f7 /><rect x=36 y=10 fill=#cecff7 /><rect x=37 y=10 fill=#cdcdf7 /><rect x=38 y=10 fill=#cbcbf7 /><rect x=39 y=10 fill=#c9caf6 /><rect x=40 y=10 fill=#c7c8f6 />
<rect x=0 y=11 fill=#ffedd4 /><rect x=1 y=11 fill=#ffefd8 /><rect x=2 y=11 fill=#fff1dd /><rect x=3 y=11 fill=#fff2e1 /><rect x=4 y=11 fill=#fff4e5 /><rect x=5 y=11 fill=#fff6e8 /><rect x=6 y=11 fill=#fff7ec /><rect x=7 y=11 fill=#fff9f0 /><rect x=8 y=11 fill=#fffaf3 /><rect x=9 y=11 fill=#fffcf7 /><rect x=10 y=11 fill=#fffdfb /><rect x=11 y=11 fill=#fffffe /><rect x=12 y=11 fill=#fdfdff /><rect x=13 y=11 fill=#fbfbfe /><rect x=14 y=11 fill=#f9f9fe /><rect x=15 y=11 fill=#f7f7fe /><rect x=16 y=11 fill=#f4f4fd /><rect x=17 y=11 fill=#f2f1fd /><rect x=18 y=11 fill=#efeffd /><rect x=19 y=11 fill=#ededfc /><rect x=20 y=11 fill=#ebeafc /><rect x=21 y=11 fill=#e9e8fb /><rect x=22 y=11 fill=#e6e6fb /><rect x=23 y=11 fill=#e4e4fb /><rect x=24 y=11 fill=#e2e2fa /><rect x=25 y=11 fill=#e1e0fa /><rect x=26 y=11 fill=#dfdefa /><rect x=27 y=11 fill=#ddddfa /><rect x=28 y=11 fill=#dcdcf9 /><rect x=29 y=11 fill=#dbdaf9 /><rect x=30 y=11 fill=#d9d9f9 /><rect x=31 y=11 fill=#d8d7f9 /><rect x=32 y=11 fill=#d6d6f8 /><rect x=33 y=11 fill=#d5d5f8 /><rect x=34 y=11 fill=#d3d3f8 /><rect x=35 y=11 fill=#d2d2f8 /><rect x=36 y=11 fill=#d1d0f7 /><rect x=37 y=11 fill=#cfcff7 /><rect x=38 y=11 fill=#cdcdf7 /><rect x=39 y=11 fill=#cbccf7 /><rect x=40 y=11 fill=#c9caf6 />
<rect x=0 y=12 fill=#ffedd4 /><rect x=1 y=12 fill=#ffefd8 /><rect x=2 y=12 fill=#fff1dc /><rect x=3 y=12 fill=#fff2e0 /><rect x=4 y=12 fill=#fff4e4 /><rect x=5 y=12 fill=#fff5e8 /><rect x=6 y=12 fill=#fff7eb /><rect x=7 y=12 fill=#fff8ef /><rect x=8 y=12 fill=#fffaf2 /><rect x=9 y=12 fill=#fffbf6 /><rect x=10 y=12 fill=#fffdf9 /><rect x=11 y=12 fill=#fffefd /><rect x=12 y=12 fill=#fefeff /><rect x=13 y=12 fill=#fcfcff /><rect x=14 y=12 fill=#fafafe /><rect x=15 y=12 fill=#f8f8fe /><rect x=16 y=12 fill=#f6f5fe /><rect x=17 y=12 fill=#f3f3fd /><rect x=18 y=12 fill=#f1f0fd /><rect x=19 y=12 fill=#eeeefc /><rect x=20 y=12 fill=#ececfc /><rect x=21 y=12 fill=#eaeafc /><rect x=22 y=12 fill=#e8e7fb /><rect x=23 y=12 fill=#e6e5fb /><rect x=24 y=12 fill=#e4e3fb /><rect x=25 y=12 fill=#e2e2fa /><rect x=26 y=12 fill=#e1e0fa /><rect x=27 y=12 fill=#dfdffa /><rect x=28 y=12 fill=#deddfa /><rect x=29 y=12 fill=#dcdcf9 /><rect x=30 y=12 fill=#dbdbf9 /><rect x=31 y=12 fill=#dad9f9 /><rect x=32 y=12 fill=#d8d8f9 /><rect x=33 y=12 fill=#d7d7f9 /><rect x=34 y=12 fill=#d5d5f8 /><rect x=35 y=12 fill=#d4d4f8 /><rect x=36 y=12 fill=#d3d2f8 /><rect x=37 y=12 fill=#d1d1f8 /><rect x=38 y=12 fill=#cfcff7 /><rect x=39 y=12 fill=#cecef7 /><rect x=40 y=12 fill=#ccccf7 />
<rect x=0 y=13 fill=#ffedd4 /><rect x=1 y=13 fill=#ffefd8 /><rect x=2 y=13 fill=#fff0dc /><rect x=3 y=13 fill=#fff2e0 /><rect x=4 y=13 fill=#fff4e3 /><rect x=5 y=13 fill=#fff5e7 /><rect x=6 y=13 fill=#fff7eb /><rect x=7 y=13 fill=#fff8ee /><rect x=8 y=13 fill=#fff9f1 /><rect x=9 y=13 fill=#fffbf5 /><rect x=10 y=13 fill=#fffcf8 /><rect x=11 y=13 fill=#fffefc /><rect x=12 y=13 fill=#ffffff /><rect x=13 y=13 fill=#fdfdff /><rect x=14 y=13 fill=#fbfbfe /><rect x=15 y=13 fill=#f9f9fe /><rect x=16 y=13 fill=#f7f7fe /><rect x=17 y=13 fill=#f4f4fd /><rect x=18 y=13 fill=#f2f2fd /><rect x=19 y=13 fill=#f0f0fd /><rect x=20 y=13 fill=#eeedfc /><rect x=21 y=13 fill=#ecebfc /><rect x=22 y=13 fill=#eae9fc /><rect x=23 y=13 fill=#e7e7fb /><rect x=24 y=13 fill=#e6e5fb /><rect x=25 y=13 fill=#e4e4fb /><rect x=26 y=13 fill=#e2e2fa /><rect x=27 y=13 fill=#e1e1fa /><rect x=28 y=13 fill=#e0dffa /><rect x=29 y=13 fill=#dedefa /><rect x=30 y=13 fill=#ddddfa /><rect x=31 y=13 fill=#dcdbf9 /><rect x=32 y=13 fill=#dadaf9 /><rect x=33 y=13 fill=#d9d8f9 /><rect x=34 y=13 fill=#d7d7f9 /><rect x=35 y=13 fill=#d6d6f8 /><rect x=36 y=13 fill=#d5d5f8 /><rect x=37 y=13 fill=#d3d3f8 /><rect x=38 y=13 fill=#d2d2f8 /><rect x=39 y=13 fill=#d0d0f7 /><rect x=40 y=13 fill=#cecef7 />
<rect x=0 y=14 fill=#ffedd4 /><rect x=1 y=14 fill=#ffefd8 /><rect x=2 y=14 fill=#fff0dc /><rect x=3 y=14 fill=#fff2df /><rect x=4 y=14 fill=#fff3e3 /><rect x=5 y=14 fill=#fff5e6 /><rect x=6 y=14 fill=#fff6ea /><rect x=7 y=14 fill=#fff8ed /><rect x=8 y=14 fill=#fff9f0 /><rect x=9 y=14 fill=#fffaf4 /><rect x=10 y=14 fill=#fffcf7 /><rect x=11 y=14 fill=#fffdfa /><rect x=12 y=14 fill=#fffefd /><rect x=13 y=14 fill=#fefeff /><rect x=14 y=14 fill=#fcfcff /><rect x=15 y=14 fill=#fafafe /><rect x=16 y=14 fill=#f8f8fe /><rect x=17 y=14 fill=#f6f5fe /><rect x=18 y=14 fill=#f3f3fd /><rect x=19 y=14 fill=#f1f1fd /><rect x=20 y=14 fill=#efeffd /><rect x=21 y=14 fill=#ededfc /><rect x=22 y=14 fill=#ebebfc /><rect x=23 y=14 fill=#e9e9fc /><rect x=24 y=14 fill=#e7e7fb /><rect x=25 y=14 fill=#e6e5fb /><rect x=26 y=14 fill=#e4e4fb /><rect x=27 y=14 fill=#e3e2fb /><rect x=28 y=14 fill=#e2e1fa /><rect x=29 y=14 fill=#e0e0fa /><rect x=30 y=14 fill=#dfdffa /><rect x=31 y=14 fill=#deddfa /><rect x=32 y=14 fill=#dcdcf9 /><rect x=33 y=14 fill=#dbdaf9 /><rect x=34 y=14 fill=#d9d9f9 /><rect x=35 y=14 fill=#d8d8f9 /><rect x=36 y=14 fill=#d7d7f9 /><rect x=37 y=14 fill=#d6d5f8 /><rect x=38 y=14 fill=#d4d4f8 /><rect x=39 y=14 fill=#d2d2f8 /><rect x=40 y=14 fill=#d0d0f7 />
<rect x=0 y=15 fill=#ffedd4 /><rect x=1 y=15 fill=#ffefd8 /><rect x=2 y=15 fill=#fff0db /><rect x=3 y=15 fill=#fff2df /><rect x=4 y=15 fill=#fff3e2 /><rect x=5 y=15 fill=#fff4e6 /><rect x=6 y=15 fill=#fff6e9 /><rect x=7 y=15 fill=#fff7ec /><rect x=8 y=15 fill=#fff8ef /><rect x=9 y=15 fill=#fffaf2 /><rect x=10 y=15 fill=#fffbf5 /><rect x=11 y=15 fill=#fffcf9 /><rect x=12 y=15 fill=#fffefc /><rect x=13 y=15 fill=#fffffe /><rect x=14 y=15 fill=#fdfdff /><rect x=15 y=15 fill=#fcfbfe /><rect x=16 y=15 fill=#f9f9fe /><rect x=17 y=15 fill=#f7f7fe /><rect x=18 y=15 fill=#f5f5fd /><rect x=19 y=15 fill=#f3f3fd /><rect x=20 y=15 fill=#f1f1fd /><rect x=21 y=15 fill=#efeffc /><rect x=22 y=15 fill=#edecfc /><rect x=23 y=15 fill=#ebeafc /><rect x=24 y=15 fill=#e9e9fc /><rect x=25 y=15 fill=#e8e7fb /><rect x=26 y=15 fill=#e6e6fb /><rect x=27 y=15 fill=#e5e4fb /><rect x=28 y=15 fill=#e4e3fb /><rect x=29 y=15 fill=#e2e2fa /><rect x=30 y=15 fill=#e1e0fa /><rect x=31 y=15 fill=#e0dffa /><rect x=32 y=15 fill=#dedefa /><rect x=33 y=15 fill=#ddddfa /><rect x=34 y=15 fill=#dbdbf9 /><rect x=35 y=15 fill=#dadaf9 /><rect x=36 y=15 fill=#d9d9f9 /><rect x=37 y=15 fill=#d8d7f9 /><rect x=38 y=15 fill=#d6d6f8 /><rect x=39 y=15 fill=#d4d4f8 /><rect x=40 y=15 fill=#d3d2f8 />
<rect x=0 y=16 fill=#ffedd4 /><rect x=1 y=16 fill=#ffefd7 /><rect x=2 y=16 fill=#fff0db /><rect x=3 y=16 fill=#fff1de /><rect x=4 y=16 fill=#fff3e2 /><rect x=5 y=16 fill=#fff4e5 /><rect x=6 y=16 fill=#fff5e8 /><rect x=7 y=16 fill=#fff7eb /><rect x=8 y=16 fill=#fff8ee /><rect x=9 y=16 fill=#fff9f1 /><rect x=10 y=16 fill=#fffbf4 /><rect x=11 y=16 fill=#fffcf7 /><rect x=12 y=16 fill=#fffdfa /><rect x=13 y=16 fill=#fffefd /><rect x=14 y=16 fill=#ffffff /><rect x=15 y=16 fill=#fdfdff /><rect x=16 y=16 fill=#fbfbfe /><rect x=17 y=16 fill=#f8f8fe /><rect x=18 y=16 fill=#f6f6fe /><rect x=19 y=16 fill=#f4f4fd /><rect x=20 y=16 fill=#f3f2fd /><rect x=21 y=16 fill=#f1f0fd /><rect x=22 y=16 fill=#efeefc /><rect x=23 y=16 fill=#edecfc /><rect x=24 y=16 fill=#ebebfc /><rect x=25 y=16 fill=#eae9fc /><rect x=26 y=16 fill=#e8e8fb /><rect x=27 y=16 fill=#e7e6fb /><rect x=28 y=16 fill=#e5e5fb /><rect x=29 y=16 fill=#e4e4fb /><rect x=30 y=16 fill=#e3e2fb /><rect x=31 y=16 fill=#e2e1fa /><rect x=32 y=16 fill=#e0e0fa /><rect x=33 y=16 fill=#dfdffa /><rect x=34 y=16 fill=#deddfa /><rect x=35 y=16 fill=#dcdcf9 /><rect x=36 y=16 fill=#dbdbf9 /><rect x=37 y=16 fill=#dadaf9 /><rect x=38 y=16 fill=#d8d8f9 /><rect x=39 y=16 fill=#d7d6f8 /><rect x=40 y=16 fill=#d5d5f8 />
<rect x=0 y=17 fill=#ffedd4 /><rect x=1 y=17 fill=#ffeed7 /><rect x=2 y=17 fill=#fff0db /><rect x=3 y=17 fill=#fff1de /><rect x=4 y=17 fill=#fff3e1 /><rect x=5 y=17 fill=#fff4e4 /><rect x=6 y=17 fill=#fff5e7 /><rect x=7 y=17 fill=#fff6ea /><rect x=8 y=17 fill=#fff8ed /><rect x=9 y=17 fill=#fff9f0 /><rect x=10 y=17 fill=#fffaf3 /><rect x=11 y=17 fill=#fffbf6 /><rect x=12 y=17 fill=#fffcf9 /><rect x=13 y=17 fill=#fffdfb /><rect x=14 y=17 fill=#fffffe /><rect x=15 y=17 fill=#fefeff /><rect x=16 y=17 fill=#fcfcff /><rect x=17 y=17 fill=#fafafe /><rect x=18 y=17 fill=#f8f7fe /><rect x=19 y=17 fill=#f6f6fe /><rect x=20 y=17 fill=#f4f4fd /><rect x=21 y=17 fill=#f2f2fd /><rect x=22 y=17 fill=#f0f0fd /><rect x=23 y=17 fill=#eeeefc /><rect x=24 y=17 fill=#edecfc /><rect x=25 y=17 fill=#ebebfc /><rect x=26 y=17 fill=#eae9fc /><rect x=27 y=17 fill=#e9e8fb /><rect x=28 y=17 fill=#e7e7fb /><rect x=29 y=17 fill=#e6e6fb /><rect x=30 y=17 fill=#e5e5fb /><rect x=31 y=17 fill=#e4e3fb /><rect x=32 y=17 fill=#e2e2fa /><rect x=33 y=17 fill=#e1e1fa /><rect x=34 y=17 fill=#e0dffa /><rect x=35 y=17 fill=#dfdefa /><rect x=36 y=17 fill=#deddfa /><rect x=37 y=17 fill=#dcdcf9 /><rect x=38 y=17 fill=#dbdaf9 /><rect x=39 y=17 fill=#d9d9f9 /><rect x=40 y=17 fill=#d7d7f9 />
<rect x=0 y=18 fill=#ffedd4 /><rect x=1 y=18 fill=#ffeed7 /><rect x=2 y=18 fill=#fff0da /><rect x=3 y=18 fill=#fff1de /><rect x=4 y=18 fill=#fff2e1 /><rect x=5 y=18 fill=#fff4e4 /><rect x=6 y=18 fill=#fff5e6 /><rect x=7 y=18 fill=#fff6e9 /><rect x=8 y=18 fill=#fff7ec /><rect x=9 y=18 fill=#fff8ef /><rect x=10 y=18 fill=#fff9f2 /><rect x=11 y=18 fill=#fffbf5 /><rect x=12 y=18 fill=#fffcf7 /><rect x=13 y=18 fill=#fffdfa /><rect x=14 y=18 fill=#fffefc /><rect x=15 y=18 fill=#ffffff /><rect x=16 y=18 fill=#fdfdff /><rect x=17 y=18 fill=#fbfbfe /><rect x=18 y=18 fill=#f9f9fe /><rect x=19 y=18 fill=#f7f7fe /><rect x=20 y=18 fill=#f6f5fe /><rect x=21 y=18 fill=#f4f4fd /><rect x=22 y=18 fill=#f2f2fd /><rect x=23 y=18 fill=#f0f0fd /><rect x=24 y=18 fill=#efeefc /><rect x=25 y=18 fill=#ededfc /><rect x=26 y=18 fill=#ecebfc /><rect x=27 y=18 fill=#ebeafc /><rect x=28 y=18 fill=#e9e9fc /><rect x=29 y=18 fill=#e8e8fb /><rect x=30 y=18 fill=#e7e7fb /><rect x=31 y=18 fill=#e6e5fb /><rect x=32 y=18 fill=#e5e4fb /><rect x=33 y=18 fill=#e3e3fb /><rect x=34 y=18 fill=#e2e2fa /><rect x=35 y=18 fill=#e1e0fa /><rect x=36 y=18 fill=#e0dffa /><rect x=37 y=18 fill=#dfdefa /><rect x=38 y=18 fill=#ddddfa /><rect x=39 y=18 fill=#dbdbf9 /><rect x=40 y=18 fill=#dad9f9 />
<rect x=0 y=19 fill=#ffedd4 /><rect x=1 y=19 fill=#ffeed7 /><rect x=2 y=19 fill=#fff0da /><rect x=3 y=19 fill=#fff1dd /><rect x=4 y=19 fill=#fff2e0 /><rect x=5 y=19 fill=#fff3e3 /><rect x=6 y=19 fill=#fff4e6 /><rect x=7 y=19 fill=#fff6e8 /><rect x=8 y=19 fill=#fff7eb /><rect x=9 y=19 fill=#fff8ee /><rect x=10 y=19 fill=#fff9f0 /><rect x=11 y=19 fill=#fffaf3 /><rect x=12 y=19 fill=#fffbf6 /><rect x=13 y=19 fill=#fffcf8 /><rect x=14 y=19 fill=#fffdfb /><rect x=15 y=19 fill=#fffefd /><rect x=16 y=19 fill=#ffffff /><rect x=17 y=19 fill=#fdfcff /><rect x=18 y=19 fill=#fbfbfe /><rect x=19 y=19 fill=#f9f9fe /><rect x=20 y=19 fill=#f7f7fe /><rect x=21 y=19 fill=#f6f5fe /><rect x=22 y=19 fill=#f4f3fd /><rect x=23 y=19 fill=#f2f2fd /><rect x=24 y=19 fill=#f0f0fd /><rect x=25 y=19 fill=#efeffd /><rect x=26 y=19 fill=#eeedfc /><rect x=27 y=19 fill=#edecfc /><rect x=28 y=19 fill=#ebebfc /><rect x=29 y=19 fill=#eaeafc /><rect x=30 y=19 fill=#e9e9fc /><rect x=31 y=19 fill=#e8e8fb /><rect x=32 y=19 fill=#e7e6fb /><rect x=33 y=19 fill=#e6e5fb /><rect x=34 y=19 fill=#e4e4fb /><rect x=35 y=19 fill=#e3e3fb /><rect x=36 y=19 fill=#e2e2fa /><rect x=37 y=19 fill=#e1e0fa /><rect x=38 y=19 fill=#dfdffa /><rect x=39 y=19 fill=#dedefa /><rect x=40 y=19 fill=#dcdcf9 />
<rect x=0 y=20 fill=#ffedd4 /><rect x=1 y=20 fill=#ffeed7 /><rect x=2 y=20 fill=#fff0da /><rect x=3 y=20 fill=#fff1dd /><rect x=4 y=20 fill=#fff2df /><rect x=5 y=20 fill=#fff3e2 /><rect x=6 y=20 fill=#fff4e5 /><rect x=7 y=20 fill=#fff5e7 /><rect x=8 y=20 fill=#fff6ea /><rect x=9 y=20 fill=#fff7ed /><rect x=10 y=20 fill=#fff8ef /><rect x=11 y=20 fill=#fffaf2 /><rect x=12 y=20 fill=#fffaf4 /><rect x=13 y=20 fill=#fffbf6 /><rect x=14 y=20 fill=#fffcf9 /><rect x=15 y=20 fill=#fffdfb /><rect x=16 y=20 fill=#fffefd /><rect x=17 y=20 fill=#fefeff /><rect x=18 y=20 fill=#fcfcff /><rect x=19 y=20 fill=#fbfafe /><rect x=20 y=20 fill=#f9f9fe /><rect x=21 y=20 fill=#f7f7fe /><rect x=22 y=20 fill=#f5f5fe /><rect x=23 y=20 fill=#f4f3fd /><rect x=24 y=20 fill=#f2f2fd /><rect x=25 y=20 fill=#f1f1fd /><rect x=26 y=20 fill=#f0effd /><rect x=27 y=20 fill=#efeefc /><rect x=28 y=20 fill=#eeedfc /><rect x=29 y=20 fill=#ececfc /><rect x=30 y=20 fill=#ebebfc /><rect x=31 y=20 fill=#eaeafc /><rect x=32 y=20 fill=#e9e9fc /><rect x=33 y=20 fill=#e8e7fb /><rect x=34 y=20 fill=#e7e6fb /><rect x=35 y=20 fill=#e6e5fb /><rect x=36 y=20 fill=#e4e4fb /><rect x=37 y=20 fill=#e3e3fb /><rect x=38 y=20 fill=#e2e1fa /><rect x=39 y=20 fill=#e0e0fa /><rect x=40 y=20 fill=#dfdefa />
<rect x=0 y=21 fill=#ffedd4 /><rect x=1 y=21 fill=#ffeed7 /><rect x=2 y=21 fill=#ffefd9 /><rect x=3 y=21 fill=#fff1dc /><rect x=4 y=21 fill=#fff2df /><rect x=5 y=21 fill=#fff3e1 /><rect x=6 y=21 fill=#fff4e4 /><rect x=7 y=21 fill=#fff5e6 /><rect x=8 y=21 fill=#fff6e9 /><rect x=9 y=21 fill=#fff7eb /><rect x=10 y=21 fill=#fff8ee /><rect x=11 y=21 fill=#fff9f0 /><rect x=12 y=21 fill=#fffaf3 /><rect x=13 y=21 fill=#fffbf5 /><rect x=14 y=21 fill=#fffcf7 /><rect x=15 y=21 fill=#fffdf9 /><rect x=16 y=21 fill=#fffefc /><rect x=17 y=21 fill=#fffffe /><rect x=18 y=21 fill=#fefeff /><rect x=19 y=21 fill=#fcfcff /><rect x=20 y=21 fill=#fbfafe /><rect x=21 y=21 fill=#f9f9fe /><rect x=22 y=21 fill=#f7f7fe /><rect x=23 y=21 fill=#f6f5fe /><rect x=24 y=21 fill=#f4f4fd /><rect x=25 y=21 fill=#f3f3fd /><rect x=26 y=21 fill=#f2f1fd /><rect x=27 y=21 fill=#f1f0fd /><rect x=28 y=21 fill=#f0effd /><rect x=29 y=21 fill=#efeefc /><rect x=30 y=21 fill=#ededfc /><rect x=31 y=21 fill=#ececfc /><rect x=32 y=21 fill=#ebebfc /><rect x=33 y=21 fill=#eaeafc /><rect x=34 y=21 fill=#e9e8fc /><rect x=35 y=21 fill=#e8e7fb /><rect x=36 y=21 fill=#e7e6fb /><rect x=37 y=21 fill=#e6e5fb /><rect x=38 y=21 fill=#e4e4fb /><rect x=39 y=21 fill=#e3e2fb /><rect x=40 y=21 fill=#e1e1fa />
<rect x=0 y=22 fill=#ffedd4 /><rect x=1 y=22 fill=#ffeed7 /><rect x=2 y=22 fill=#ffefd9 /><rect x=3 y=22 fill=#fff0dc /><rect x=4 y=22 fill=#fff1de /><rect x=5 y=22 fill=#fff2e1 /><rect x=6 y=22 fill=#fff3e3 /><rect x=7 y=22 fill=#fff4e6 /><rect x=8 y=22 fill=#fff5e8 /><rect x=9 y=22 fill=#fff6ea /><rect x=10 y=22 fill=#fff7ec /><rect x=11 y=22 fill=#fff8ef /><rect x=12 y=22 fill=#fff9f1 /><rect x=13 y=22 fill=#fffaf3 /><rect x=14 y=22 fill=#fffbf5 /><rect x=15 y=22 fill=#fffcf7 /><rect x=16 y=22 fill=#fffdfa /><rect x=17 y=22 fill=#fffefc /><rect x=18 y=22 fill=#ffffff /><rect x=19 y=22 fill=#fefeff /><rect x=20 y=22 fill=#fcfcff /><rect x=21 y=22 fill=#fbfbfe /><rect x=22 y=22 fill=#f9f9fe /><rect x=23 y=22 fill=#f8f7fe /><rect x=24 y=22 fill=#f6f6fe /><rect x=25 y=22 fill=#f5f5fd /><rect x=26 y=22 fill=#f4f3fd /><rect x=27 y=22 fill=#f3f2fd /><rect x=28 y=22 fill=#f2f1fd /><rect x=29 y=22 fill=#f1f0fd /><rect x=30 y=22 fill=#f0effd /><rect x=31 y=22 fill=#efeefc /><rect x=32 y=22 fill=#eeedfc /><rect x=33 y=22 fill=#ececfc /><rect x=34 y=22 fill=#ebebfc /><rect x=35 y=22 fill=#eaeafc /><rect x=36 y=22 fill=#e9e9fc /><rect x=37 y=22 fill=#e8e8fb /><rect x=38 y=22 fill=#e7e6fb /><rect x=39 y=22 fill=#e6e5fb /><rect x=40 y=22 fill=#e4e4fb />
<rect x=0 y=23 fill=#ffedd4 /><rect x=1 y=23 fill=#ffeed6 /><rect x=2 y=23 fill=#ffefd9 /><rect x=3 y=23 fill=#fff0db /><rect x=4 y=23 fill=#fff1de /><rect x=5 y=23 fill=#fff2e0 /><rect x=6 y=23 fill=#fff3e2 /><rect x=7 y=23 fill=#fff4e5 /><rect x=8 y=23 fill=#fff5e7 /><rect x=9 y=23 fill=#fff6e9 /><rect x=10 y=23 fill=#fff7eb /><rect x=11 y=23 fill=#fff8ee /><rect x=12 y=23 fill=#fff9ef /><rect x=13 y=23 fill=#fff9f1 /><rect x=14 y=23 fill=#fffaf4 /><rect x=15 y=23 fill=#fffbf5 /><rect x=16 y=23 fill=#fffcf8 /><rect x=17 y=23 fill=#fffdfa /><rect x=18 y=23 fill=#fffefc /><rect x=19 y=23 fill=#ffffff /><rect x=20 y=23 fill=#fefeff /><rect x=21 y=23 fill=#fcfcff /><rect x=22 y=23 fill=#fbfbfe /><rect x=23 y=23 fill=#f9f9fe /><rect x=24 y=23 fill=#f8f8fe /><rect x=25 y=23 fill=#f7f7fe /><rect x=26 y=23 fill=#f6f6fe /><rect x=27 y=23 fill=#f5f5fd /><rect x=28 y=23 fill=#f4f4fd /><rect x=29 y=23 fill=#f3f3fd /><rect x=30 y=23 fill=#f2f2fd /><rect x=31 y=23 fill=#f1f0fd /><rect x=32 y=23 fill=#f0effd /><rect x=33 y=23 fill=#efeefc /><rect x=34 y=23 fill=#eeedfc /><rect x=35 y=23 fill=#edecfc /><rect x=36 y=23 fill=#ecebfc /><rect x=37 y=23 fill=#ebeafc /><rect x=38 y=23 fill=#eae9fc /><rect x=39 y=23 fill=#e8e8fb /><rect x=40 y=23 fill=#e7e6fb />
<rect x=0 y=24 fill=#ffedd4 /><rect x=1 y=24 fill=#ffeed6 /><rect x=2 y=24 fill=#ffefd9 /><rect x=3 y=24 fill=#fff0db /><rect x=4 y=24 fill=#fff1dd /><rect x=5 y=24 fill=#fff2df /><rect x=6 y=24 fill=#fff3e1 /><rect x=7 y=24 fill=#fff4e4 /><rect x=8 y=24 fill=#fff4e6 /><rect x=9 y=24 fill=#fff5e8 /><rect x=10 y=24 fill=#fff6ea /><rect x=11 y=24 fill=#fff7ec /><rect x=12 y=24 fill=#fff8ee /><rect x=13 y=24 fill=#fff9f0 /><rect x=14 y=24 fill=#fff9f2 /><rect x=15 y=24 fill=#fffaf4 /><rect x=16 y=24 fill=#fffbf6 /><rect x=17 y=24 fill=#fffcf8 /><rect x=18 y=24 fill=#fffdfa /><rect x=19 y=24 fill=#fffefc /><rect x=20 y=24 fill=#fffffe /><rect x=21 y=24 fill=#fefeff /><rect x=22 y=24 fill=#fdfdff /><rect x=23 y=24 fill=#fbfbfe /><rect x=24 y=24 fill=#fafafe /><rect x=25 y=24 fill=#f9f9fe /><rect x=26 y=24 fill=#f8f8fe /><rect x=27 y=24 fill=#f7f7fe /><rect x=28 y=24 fill=#f6f6fe /><rect x=29 y=24 fill=#f5f5fd /><rect x=30 y=24 fill=#f4f4fd /><rect x=31 y=24 fill=#f3f3fd /><rect x=32 y=24 fill=#f2f2fd /><rect x=33 y=24 fill=#f1f1fd /><rect x=34 y=24 fill=#f0f0fd /><rect x=35 y=24 fill=#efeffd /><rect x=36 y=24 fill=#eeeefc /><rect x=37 y=24 fill=#ededfc /><rect x=38 y=24 fill=#ececfc /><rect x=39 y=24 fill=#ebeafc /><rect x=40 y=24 fill=#eae9fc />
<rect x=0 y=25 fill=#ffedd4 /><rect x=1 y=25 fill=#ffeed6 /><rect x=2 y=25 fill=#ffefd8 /><rect x=3 y=25 fill=#fff0da /><rect x=4 y=25 fill=#fff1dd /><rect x=5 y=25 fill=#fff1df /><rect x=6 y=25 fill=#fff2e1 /><rect x=7 y=25 fill=#fff3e3 /><rect x=8 y=25 fill=#fff4e5 /><rect x=9 y=25 fill=#fff5e6 /><rect x=10 y=25 fill=#fff6e8 /><rect x=11 y=25 fill=#fff6eb /><rect x=12 y=25 fill=#fff7ec /><rect x=13 y=25 fill=#fff8ee /><rect x=14 y=25 fill=#fff9f0 /><rect x=15 y=25 fill=#fff9f2 /><rect x=16 y=25 fill=#fffaf4 /><rect x=17 y=25 fill=#fffbf6 /><rect x=18 y=25 fill=#fffcf8 /><rect x=19 y=25 fill=#fffdfa /><rect x=20 y=25 fill=#fffefc /><rect x=21 y=25 fill=#fffefe /><rect x=22 y=25 fill=#ffffff /><rect x=23 y=25 fill=#fdfdff /><rect x=24 y=25 fill=#fcfcff /><rect x=25 y=25 fill=#fbfbfe /><rect x=26 y=25 fill=#fafafe /><rect x=27 y=25 fill=#f9f9fe /><rect x=28 y=25 fill=#f8f8fe /><rect x=29 y=25 fill=#f7f7fe /><rect x=30 y=25 fill=#f6f6fe /><rect x=31 y=25 fill=#f6f5fe /><rect x=32 y=25 fill=#f5f4fd /><rect x=33 y=25 fill=#f4f3fd /><rect x=34 y=25 fill=#f3f2fd /><rect x=35 y=25 fill=#f2f1fd /><rect x=36 y=25 fill=#f1f1fd /><rect x=37 y=25 fill=#f0f0fd /><rect x=38 y=25 fill=#efeefc /><rect x=39 y=25 fill=#eeedfc /><rect x=40 y=25 fill=#ececfc />
<rect x=0 y=26 fill=#ffedd4 /><rect x=1 y=26 fill=#ffeed6 /><rect x=2 y=26 fill=#ffefd8 /><rect x=3 y=26 fill=#fff0da /><rect x=4 y=26 fill=#fff0dc /><rect x=5 y=26 fill=#fff1de /><rect x=6 y=26 fill=#fff2e0 /><rect x=7 y=26 fill=#fff3e2 /><rect x=8 y=26 fill=#fff4e3 /><rect x=9 y=26 fill=#fff4e5 /><rect x=10 y=26 fill=#fff5e7 /><rect x=11 y=26 fill=#fff6e9 /><rect x=12 y=26 fill=#fff7eb /><rect x=13 y=26 fill=#fff7ec /><rect x=14 y=26 fill=#fff8ee /><rect x=15 y=26 fill=#fff9f0 /><rect x=16 y=26 fill=#fff9f2 /><rect x=17 y=26 fill=#fffaf4 /><rect x=18 y=26 fill=#fffbf6 /><rect x=19 y=26 fill=#fffcf7 /><rect x=20 y=26 fill=#fffdf9 /><rect x=21 y=26 fill=#fffdfb /><rect x=22 y=26 fill=#fffefd /><rect x=23 y=26 fill=#ffffff /><rect x=24 y=26 fill=#fefeff /><rect x=25 y=26 fill=#fdfdff /><rect x=26 y=26 fill=#fcfcff /><rect x=27 y=26 fill=#fbfbfe /><rect x=28 y=26 fill=#fafafe /><rect x=29 y=26 fill=#faf9fe /><rect x=30 y=26 fill=#f9f9fe /><rect x=31 y=26 fill=#f8f8fe /><rect x=32 y=26 fill=#f7f7fe /><rect x=33 y=26 fill=#f6f6fe /><rect x=34 y=26 fill=#f5f5fd /><rect x=35 y=26 fill=#f4f4fd /><rect x=36 y=26 fill=#f4f3fd /><rect x=37 y=26 fill=#f3f2fd /><rect x=38 y=26 fill=#f2f1fd /><rect x=39 y=26 fill=#f0f0fd /><rect x=40 y=26 fill=#efeffd />
<rect x=0 y=27 fill=#ffedd4 /><rect x=1 y=27 fill=#ffeed6 /><rect x=2 y=27 fill=#ffefd8 /><rect x=3 y=27 fill=#ffefda /><rect x=4 y=27 fill=#fff0db /><rect x=5 y=27 fill=#fff1dd /><rect x=6 y=27 fill=#fff2df /><rect x=7 y=27 fill=#fff2e1 /><rect x=8 y=27 fill=#fff3e2 /><rect x=9 y=27 fill=#fff4e4 /><rect x=10 y=27 fill=#fff4e6 /><rect x=11 y=27 fill=#fff5e8 /><rect x=12 y=27 fill=#fff6e9 /><rect x=13 y=27 fill=#fff7eb /><rect x=14 y=27 fill=#fff7ec /><rect x=15 y=27 fill=#fff8ee /><rect x=16 y=27 fill=#fff9f0 /><rect x=17 y=27 fill=#fff9f2 /><rect x=18 y=27 fill=#fffaf3 /><rect x=19 y=27 fill=#fffbf5 /><rect x=20 y=27 fill=#fffcf7 /><rect x=21 y=27 fill=#fffcf8 /><rect x=22 y=27 fill=#fffdfa /><rect x=23 y=27 fill=#fffefc /><rect x=24 y=27 fill=#fffefd /><rect x=25 y=27 fill=#ffffff /><rect x=26 y=27 fill=#fefeff /><rect x=27 y=27 fill=#fefeff /><rect x=28 y=27 fill=#fdfdff /><rect x=29 y=27 fill=#fcfcff /><rect x=30 y=27 fill=#fbfbfe /><rect x=31 y=27 fill=#fafafe /><rect x=32 y=27 fill=#faf9fe /><rect x=33 y=27 fill=#f9f8fe /><rect x=34 y=27 fill=#f8f8fe /><rect x=35 y=27 fill=#f7f7fe /><rect x=36 y=27 fill=#f6f6fe /><rect x=37 y=27 fill=#f5f5fe /><rect x=38 y=27 fill=#f4f4fd /><rect x=39 y=27 fill=#f3f3fd /><rect x=40 y=27 fill=#f2f2fd />
<rect x=0 y=28 fill=#ffedd4 /><rect x=1 y=28 fill=#ffeed6 /><rect x=2 y=28 fill=#ffeed7 /><rect x=3 y=28 fill=#ffefd9 /><rect x=4 y=28 fill=#fff0db /><rect x=5 y=28 fill=#fff1dc /><rect x=6 y=28 fill=#fff1de /><rect x=7 y=28 fill=#fff2e0 /><rect x=8 y=28 fill=#fff3e1 /><rect x=9 y=28 fill=#fff3e3 /><rect x=10 y=28 fill=#fff4e4 /><rect x=11 y=28 fill=#fff5e6 /><rect x=12 y=28 fill=#fff5e8 /><rect x=13 y=28 fill=#fff6e9 /><rect x=14 y=28 fill=#fff6eb /><rect x=15 y=28 fill=#fff7ec /><rect x=16 y=28 fill=#fff8ed /><rect x=17 y=28 fill=#fff9ef /><rect x=18 y=28 fill=#fff9f1 /><rect x=19 y=28 fill=#fffaf3 /><rect x=20 y=28 fill=#fffaf4 /><rect x=21 y=28 fill=#fffbf6 /><rect x=22 y=28 fill=#fffcf7 /><rect x=23 y=28 fill=#fffcf9 /><rect x=24 y=28 fill=#fffdfa /><rect x=25 y=28 fill=#fffefc /><rect x=26 y=28 fill=#fffefd /><rect x=27 y=28 fill=#fffffe /><rect x=28 y=28 fill=#ffffff /><rect x=29 y=28 fill=#fefeff /><rect x=30 y=28 fill=#fefdff /><rect x=31 y=28 fill=#fdfdff /><rect x=32 y=28 fill=#fcfcff /><rect x=33 y=28 fill=#fbfbfe /><rect x=34 y=28 fill=#fafafe /><rect x=35 y=28 fill=#faf9fe /><rect x=36 y=28 fill=#f9f9fe /><rect x=37 y=28 fill=#f8f8fe /><rect x=38 y=28 fill=#f7f7fe /><rect x=39 y=28 fill=#f6f6fe /><rect x=40 y=28 fill=#f5f5fd />
<rect x=0 y=29 fill=#ffedd4 /><rect x=1 y=29 fill=#ffeed5 /><rect x=2 y=29 fill=#ffeed7 /><rect x=3 y=29 fill=#ffefd9 /><rect x=4 y=29 fill=#fff0da /><rect x=5 y=29 fill=#fff0dc /><rect x=6 y=29 fill=#fff1dd /><rect x=7 y=29 fill=#fff2df /><rect x=8 y=29 fill=#fff2e0 /><rect x=9 y=29 fill=#fff3e2 /><rect x=10 y=29 fill=#fff3e3 /><rect x=11 y=29 fill=#fff4e5 /><rect x=12 y=29 fill=#fff5e6 /><rect x=13 y=29 fill=#fff5e7 /><rect x=14 y=29 fill=#fff6e9 /><rect x=15 y=29 fill=#fff6ea /><rect x=16 y=29 fill=#fff7eb /><rect x=17 y=29 fill=#fff8ed /><rect x=18 y=29 fill=#fff8ef /><rect x=19 y=29 fill=#fff9f0 /><rect x=20 y=29 fill=#fff9f2 /><rect x=21 y=29 fill=#fffaf3 /><rect x=22 y=29 fill=#fffbf5 /><rect x=23 y=29 fill=#fffbf6 /><rect x=24 y=29 fill=#fffcf7 /><rect x=25 y=29 fill=#fffcf8 /><rect x=26 y=29 fill=#fffdfa /><rect x=27 y=29 fill=#fffdfb /><rect x=28 y=29 fill=#fffefc /><rect x=29 y=29 fill=#fffefd /><rect x=30 y=29 fill=#fffefe /><rect x=31 y=29 fill=#ffffff /><rect x=32 y=29 fill=#ffffff /><rect x=33 y=29 fill=#fefeff /><rect x=34 y=29 fill=#fdfdff /><rect x=35 y=29 fill=#fcfcff /><rect x=36 y=29 fill=#fcfcfe /><rect x=37 y=29 fill=#fbfbfe /><rect x=38 y=29 fill=#fafafe /><rect x=39 y=29 fill=#f9f9fe /><rect x=40 y=29 fill=#f8f8fe />
<rect x=0 y=30 fill=#ffedd4 /><rect x=1 y=30 fill=#ffeed5 /><rect x=2 y=30 fill=#ffeed7 /><rect x=3 y=30 fill=#ffefd8 /><rect x=4 y=30 fill=#ffefda /><rect x=5 y=30 fill=#fff0db /><rect x=6 y=30 fill=#fff1dc /><rect x=7 y=30 fill=#fff1de /><rect x=8 y=30 fill=#fff2df /><rect x=9 y=30 fill=#fff2e0 /><rect x=10 y=30 fill=#fff3e2 /><rect x=11 y=30 fill=#fff3e3 /><rect x=12 y=30 fill=#fff4e4 /><rect x=13 y=30 fill=#fff4e6 /><rect x=14 y=30 fill=#fff5e7 /><rect x=15 y=30 fill=#fff5e8 /><rect x=16 y=30 fill=#fff6e9 /><rect x=17 y=30 fill=#fff7eb /><rect x=18 y=30 fill=#fff7ec /><rect x=19 y=30 fill=#fff8ee /><rect x=20 y=30 fill=#fff8ef /><rect x=21 y=30 fill=#fff9f0 /><rect x=22 y=30 fill=#fff9f2 /><rect x=23 y=30 fill=#fffaf3 /><rect x=24 y=30 fill=#fffbf4 /><rect x=25 y=30 fill=#fffbf5 /><rect x=26 y=30 fill=#fffbf6 /><rect x=27 y=30 fill=#fffcf7 /><rect x=28 y=30 fill=#fffcf8 /><rect x=29 y=30 fill=#fffdf9 /><rect x=30 y=30 fill=#fffdfa /><rect x=31 y=30 fill=#fffdfb /><rect x=32 y=30 fill=#fffefc /><rect x=33 y=30 fill=#fffefd /><rect x=34 y=30 fill=#fffffe /><rect x=35 y=30 fill=#ffffff /><rect x=36 y=30 fill=#fefeff /><rect x=37 y=30 fill=#fefeff /><rect x=38 y=30 fill=#fdfdff /><rect x=39 y=30 fill=#fcfcff /><rect x=40 y=30 fill=#fbfbfe />
<rect x=0 y=31 fill=#ffedd4 /><rect x=1 y=31 fill=#ffeed5 /><rect x=2 y=31 fill=#ffeed6 /><rect x=3 y=31 fill=#ffefd8 /><rect x=4 y=31 fill=#ffefd9 /><rect x=5 y=31 fill=#fff0da /><rect x=6 y=31 fill=#fff0db /><rect x=7 y=31 fill=#fff1dd /><rect x=8 y=31 fill=#fff1de /><rect x=9 y=31 fill=#fff2df /><rect x=10 y=31 fill=#fff2e0 /><rect x=11 y=31 fill=#fff3e2 /><rect x=12 y=31 fill=#fff3e3 /><rect x=13 y=31 fill=#fff4e4 /><rect x=14 y=31 fill=#fff4e5 /><rect x=15 y=31 fill=#fff5e6 /><rect x=16 y=31 fill=#fff5e7 /><rect x=17 y=31 fill=#fff6e9 /><rect x=18 y=31 fill=#fff6ea /><rect x=19 y=31 fill=#fff7eb /><rect x=20 y=31 fill=#fff7ec /><rect x=21 y=31 fill=#fff8ee /><rect x=22 y=31 fill=#fff8ef /><rect x=23 y=31 fill=#fff9f0 /><rect x=24 y=31 fill=#fff9f1 /><rect x=25 y=31 fill=#fffaf2 /><rect x=26 y=31 fill=#fffaf3 /><rect x=27 y=31 fill=#fffaf4 /><rect x=28 y=31 fill=#fffbf5 /><rect x=29 y=31 fill=#fffbf6 /><rect x=30 y=31 fill=#fffbf6 /><rect x=31 y=31 fill=#fffcf7 /><rect x=32 y=31 fill=#fffcf8 /><rect x=33 y=31 fill=#fffdf9 /><rect x=34 y=31 fill=#fffdfa /><rect x=35 y=31 fill=#fffdfb /><rect x=36 y=31 fill=#fffefc /><rect x=37 y=31 fill=#fffefd /><rect x=38 y=31 fill=#fffefe /><rect x=39 y=31 fill=#ffffff /><rect x=40 y=31 fill=#fefeff />
<rect x=0 y=32 fill=#ffedd4 /><rect x=1 y=32 fill=#ffedd5 /><rect x=2 y=32 fill=#ffeed6 /><rect x=3 y=32 fill=#ffeed7 /><rect x=4 y=32 fill=#ffefd8 /><rect x=5 y=32 fill=#ffefda /><rect x=6 y=32 fill=#fff0db /><rect x=7 y=32 fill=#fff0dc /><rect x=8 y=32 fill=#fff1dd /><rect x=9 y=32 fill=#fff1de /><rect x=10 y=32 fill=#fff2df /><rect x=11 y=32 fill=#fff2e0 /><rect x=12 y=32 fill=#fff3e1 /><rect x=13 y=32 fill=#fff3e2 /><rect x=14 y=32 fill=#fff3e3 /><rect x=15 y=32 fill=#fff4e4 /><rect x=16 y=32 fill=#fff4e5 /><rect x=17 y=32 fill=#fff5e6 /><rect x=18 y=32 fill=#fff5e8 /><rect x=19 y=32 fill=#fff6e9 /><rect x=20 y=32 fill=#fff6ea /><rect x=21 y=32 fill=#fff7eb /><rect x=22 y=32 fill=#fff7ec /><rect x=23 y=32 fill=#fff8ed /><rect x=24 y=32 fill=#fff8ee /><rect x=25 y=32 fill=#fff8ef /><rect x=26 y=32 fill=#fff9f0 /><rect x=27 y=32 fill=#fff9f1 /><rect x=28 y=32 fill=#fff9f1 /><rect x=29 y=32 fill=#fffaf2 /><rect x=30 y=32 fill=#fffaf3 /><rect x=31 y=32 fill=#fffaf4 /><rect x=32 y=32 fill=#fffbf4 /><rect x=33 y=32 fill=#fffbf5 /><rect x=34 y=32 fill=#fffbf6 /><rect x=35 y=32 fill=#fffcf7 /><rect x=36 y=32 fill=#fffcf8 /><rect x=37 y=32 fill=#fffcf8 /><rect x=38 y=32 fill=#fffdf9 /><rect x=39 y=32 fill=#fffdfa /><rect x=40 y=32 fill=#fffefc />
<rect x=0 y=33 fill=#ffedd4 /><rect x=1 y=33 fill=#ffedd5 /><rect x=2 y=33 fill=#ffeed6 /><rect x=3 y=33 fill=#ffeed7 /><rect x=4 y=33 fill=#ffefd8 /><rect x=5 y=33 fill=#ffefd9 /><rect x=6 y=33 fill=#ffefda /><rect x=7 y=33 fill=#fff0db /><rect x=8 y=33 fill=#fff0dc /><rect x=9 y=33 fill=#fff1dd /><rect x=10 y=33 fill=#fff1de /><rect x=11 y=33 fill=#fff1df /><rect x=12 y=33 fill=#fff2df /><rect x=13 y=33 fill=#fff2e0 /><rect x=14 y=33 fill=#fff3e1 /><rect x=15 y=33 fill=#fff3e2 /><rect x=16 y=33 fill=#fff3e3 /><rect x=17 y=33 fill=#fff4e4 /><rect x=18 y=33 fill=#fff4e5 /><rect x=19 y=33 fill=#fff5e6 /><rect x=20 y=33 fill=#fff5e7 /><rect x=21 y=33 fill=#fff5e8 /><rect x=22 y=33 fill=#fff6e9 /><rect x=23 y=33 fill=#fff6ea /><rect x=24 y=33 fill=#fff7eb /><rect x=25 y=33 fill=#fff7ec /><rect x=26 y=33 fill=#fff7ec /><rect x=27 y=33 fill=#fff8ed /><rect x=28 y=33 fill=#fff8ee /><rect x=29 y=33 fill=#fff8ee /><rect x=30 y=33 fill=#fff8ef /><rect x=31 y=33 fill=#fff9f0 /><rect x=32 y=33 fill=#fff9f0 /><rect x=33 y=33 fill=#fff9f1 /><rect x=34 y=33 fill=#fffaf2 /><rect x=35 y=33 fill=#fffaf3 /><rect x=36 y=33 fill=#fffaf3 /><rect x=37 y=33 fill=#fffaf4 /><rect x=38 y=33 fill=#fffbf5 /><rect x=39 y=33 fill=#fffbf6 /><rect x=40 y=33 fill=#fffcf7 />
<rect x=0 y=34 fill=#ffedd4 /><rect x=1 y=34 fill=#ffedd5 /><rect x=2 y=34 fill=#ffeed5 /><rect x=3 y=34 fill=#ffeed6 /><rect x=4 y=34 fill=#ffeed7 /><rect x=5 y=34 fill=#ffefd8 /><rect x=6 y=34 fill=#ffefd9 /><rect x=7 y=34 fill=#ffefda /><rect x=8 y=34 fill=#fff0da /><rect x=9 y=34 fill=#fff0db /><rect x=10 y=34 fill=#fff0dc /><rect x=11 y=34 fill=#fff1dd /><rect x=12 y=34 fill=#fff1de /><rect x=13 y=34 fill=#fff1de /><rect x=14 y=34 fill=#fff2df /><rect x=15 y=34 fill=#fff2e0 /><rect x=16 y=34 fill=#fff2e1 /><rect x=17 y=34 fill=#fff3e2 /><rect x=18 y=34 fill=#fff3e3 /><rect x=19 y=34 fill=#fff4e4 /><rect x=20 y=34 fill=#fff4e4 /><rect x=21 y=34 fill=#fff4e5 /><rect x=22 y=34 fill=#fff5e6 /><rect x=23 y=34 fill=#fff5e7 /><rect x=24 y=34 fill=#fff5e8 /><rect x=25 y=34 fill=#fff6e8 /><rect x=26 y=34 fill=#fff6e9 /><rect x=27 y=34 fill=#fff6ea /><rect x=28 y=34 fill=#fff6ea /><rect x=29 y=34 fill=#fff7eb /><rect x=30 y=34 fill=#fff7eb /><rect x=31 y=34 fill=#fff7ec /><rect x=32 y=34 fill=#fff7ed /><rect x=33 y=34 fill=#fff8ed /><rect x=34 y=34 fill=#fff8ee /><rect x=35 y=34 fill=#fff8ee /><rect x=36 y=34 fill=#fff8ef /><rect x=37 y=34 fill=#fff9f0 /><rect x=38 y=34 fill=#fff9f0 /><rect x=39 y=34 fill=#fff9f1 /><rect x=40 y=34 fill=#fffaf2 />
<rect x=0 y=35 fill=#ffedd4 /><rect x=1 y=35 fill=#ffedd4 /><rect x=2 y=35 fill=#ffeed5 /><rect x=3 y=35 fill=#ffeed6 /><rect x=4 y=35 fill=#ffeed7 /><rect x=5 y=35 fill=#ffeed7 /><rect x=6 y=35 fill=#ffefd8 /><rect x=7 y=35 fill=#ffefd9 /><rect x=8 y=35 fill=#ffefd9 /><rect x=9 y=35 fill=#fff0da /><rect x=10 y=35 fill=#fff0db /><rect x=11 y=35 fill=#fff0db /><rect x=12 y=35 fill=#fff0dc /><rect x=13 y=35 fill=#fff1dd /><rect x=14 y=35 fill=#fff1dd /><rect x=15 y=35 fill=#fff1de /><rect x=16 y=35 fill=#fff2df /><rect x=17 y=35 fill=#fff2e0 /><rect x=18 y=35 fill=#fff2e0 /><rect x=19 y=35 fill=#fff2e1 /><rect x=20 y=35 fill=#fff3e2 /><rect x=21 y=35 fill=#fff3e2 /><rect x=22 y=35 fill=#fff3e3 /><rect x=23 y=35 fill=#fff4e4 /><rect x=24 y=35 fill=#fff4e4 /><rect x=25 y=35 fill=#fff4e5 /><rect x=26 y=35 fill=#fff4e6 /><rect x=27 y=35 fill=#fff5e6 /><rect x=28 y=35 fill=#fff5e7 /><rect x=29 y=35 fill=#fff5e7 /><rect x=30 y=35 fill=#fff5e8 /><rect x=31 y=35 fill=#fff5e8 /><rect x=32 y=35 fill=#fff6e9 /><rect x=33 y=35 fill=#fff6e9 /><rect x=34 y=35 fill=#fff6ea /><rect x=35 y=35 fill=#fff6ea /><rect x=36 y=35 fill=#fff7eb /><rect x=37 y=35 fill=#fff7eb /><rect x=38 y=35 fill=#fff7ec /><rect x=39 y=35 fill=#fff7ed /><rect x=40 y=35 fill=#fff8ed />
<rect x=0 y=36 fill=#ffedd4 /><rect x=1 y=36 fill=#ffedd4 /><rect x=2 y=36 fill=#ffedd5 /><rect x=3 y=36 fill=#ffeed5 /><rect x=4 y=36 fill=#ffeed6 /><rect x=5 y=36 fill=#ffeed7 /><rect x=6 y=36 fill=#ffeed7 /><rect x=7 y=36 fill=#ffefd8 /><rect x=8 y=36 fill=#ffefd8 /><rect x=9 y=36 fill=#ffefd9 /><rect x=10 y=36 fill=#ffefd9 /><rect x=11 y=36 fill=#fff0da /><rect x=12 y=36 fill=#fff0da /><rect x=13 y=36 fill=#fff0db /><rect x=14 y=36 fill=#fff0db /><rect x=15 y=36 fill=#fff0dc /><rect x=16 y=36 fill=#fff1dc /><rect x=17 y=36 fill=#fff1dd /><rect x=18 y=36 fill=#fff1de /><rect x=19 y=36 fill=#fff1de /><rect x=20 y=36 fill=#fff2df /><rect x=21 y=36 fill=#fff2df /><rect x=22 y=36 fill=#fff2e0 /><rect x=23 y=36 fill=#fff2e1 /><rect x=24 y=36 fill=#fff3e1 /><rect x=25 y=36 fill=#fff3e2 /><rect x=26 y=36 fill=#fff3e2 /><rect x=27 y=36 fill=#fff3e2 /><rect x=28 y=36 fill=#fff3e3 /><rect x=29 y=36 fill=#fff3e3 /><rect x=30 y=36 fill=#fff4e4 /><rect x=31 y=36 fill=#fff4e4 /><rect x=32 y=36 fill=#fff4e4 /><rect x=33 y=36 fill=#fff4e5 /><rect x=34 y=36 fill=#fff4e5 /><rect x=35 y=36 fill=#fff4e6 /><rect x=36 y=36 fill=#fff5e6 /><rect x=37 y=36 fill=#fff5e7 /><rect x=38 y=36 fill=#fff5e7 /><rect x=39 y=36 fill=#fff5e8 /><rect x=40 y=36 fill=#fff6e8 />
<rect x=0 y=37 fill=#ffedd4 /><rect x=1 y=37 fill=#ffedd4 /><rect x=2 y=37 fill=#ffedd5 /><rect x=3 y=37 fill=#ffedd5 /><rect x=4 y=37 fill=#ffeed5 /><rect x=5 y=37 fill=#ffeed6 /><rect x=6 y=37 fill=#ffeed6 /><rect x=7 y=37 fill=#ffeed7 /><rect x=8 y=37 fill=#ffeed7 /><rect x=9 y=37 fill=#ffefd7 /><rect x=10 y=37 fill=#ffefd8 /><rect x=11 y=37 fill=#ffefd8 /><rect x=12 y=37 fill=#ffefd9 /><rect x=13 y=37 fill=#ffefd9 /><rect x=14 y=37 fill=#ffefd9 /><rect x=15 y=37 fill=#fff0da /><rect x=16 y=37 fill=#fff0da /><rect x=17 y=37 fill=#fff0db /><rect x=18 y=37 fill=#fff0db /><rect x=19 y=37 fill=#fff0dc /><rect x=20 y=37 fill=#fff0dc /><rect x=21 y=37 fill=#fff1dd /><rect x=22 y=37 fill=#fff1dd /><rect x=23 y=37 fill=#fff1dd /><rect x=24 y=37 fill=#fff1de /><rect x=25 y=37 fill=#fff1de /><rect x=26 y=37 fill=#fff1de /><rect x=27 y=37 fill=#fff2df /><rect x=28 y=37 fill=#fff2df /><rect x=29 y=37 fill=#fff2df /><rect x=30 y=37 fill=#fff2e0 /><rect x=31 y=37 fill=#fff2e0 /><rect x=32 y=37 fill=#fff2e0 /><rect x=33 y=37 fill=#fff2e1 /><rect x=34 y=37 fill=#fff3e1 /><rect x=35 y=37 fill=#fff3e1 /><rect x=36 y=37 fill=#fff3e2 /><rect x=37 y=37 fill=#fff3e2 /><rect x=38 y=37 fill=#fff3e2 /><rect x=39 y=37 fill=#fff3e3 /><rect x=40 y=37 fill=#fff3e3 />
<rect x=0 y=38 fill=#ffedd4 /><rect x=1 y=38 fill=#ffedd4 /><rect x=2 y=38 fill=#ffedd4 /><rect x=3 y=38 fill=#ffedd4 /><rect x=4 y=38 fill=#ffedd5 /><rect x=5 y=38 fill=#ffeed5 /><rect x=6 y=38 fill=#ffeed5 /><rect x=7 y=38 fill=#ffeed6 /><rect x=8 y=38 fill=#ffeed6 /><rect x=9 y=38 fill=#ffeed6 /><rect x=10 y=38 fill=#ffeed6 /><rect x=11 y=38 fill=#ffeed7 /><rect x=12 y=38 fill=#ffeed7 /><rect x=13 y=38 fill=#ffeed7 /><rect x=14 y=38 fill=#ffefd8 /><rect x=15 y=38 fill=#ffefd8 /><rect x=16 y=38 fill=#ffefd8 /><rect x=17 y=38 fill=#ffefd8 /><rect x=18 y=38 fill=#ffefd9 /><rect x=19 y=38 fill=#ffefd9 /><rect x=20 y=38 fill=#ffefd9 /><rect x=21 y=38 fill=#ffefda /><rect x=22 y=38 fill=#fff0da /><rect x=23 y=38 fill=#fff0da /><rect x=24 y=38 fill=#fff0da /><rect x=25 y=38 fill=#fff0db /><rect x=26 y=38 fill=#fff0db /><rect x=27 y=38 fill=#fff0db /><rect x=28 y=38 fill=#fff0db /><rect x=29 y=38 fill=#fff0dc /><rect x=30 y=38 fill=#fff0dc /><rect x=31 y=38 fill=#fff0dc /><rect x=32 y=38 fill=#fff0dc /><rect x=33 y=38 fill=#fff1dc /><rect x=34 y=38 fill=#fff1dd /><rect x=35 y=38 fill=#fff1dd /><rect x=36 y=38 fill=#fff1dd /><rect x=37 y=38 fill=#fff1dd /><rect x=38 y=38 fill=#fff1de /><rect x=39 y=38 fill=#fff1de /><rect x=40 y=38 fill=#fff1de />
<rect x=0 y=39 fill=#ffedd4 /><rect x=1 y=39 fill=#ffedd4 /><rect x=2 y=39 fill=#ffedd4 /><rect x=3 y=39 fill=#ffedd4 /><rect x=4 y=39 fill=#ffedd4 /><rect x=5 y=39 fill=#ffedd4 /><rect x=6 y=39 fill=#ffedd4 /><rect x=7 y=39 fill=#ffedd5 /><rect x=8 y=39 fill=#ffedd5 /><rect x=9 y=39 fill=#ffedd5 /><rect x=10 y=39 fill=#ffeed5 /><rect x=11 y=39 fill=#ffeed5 /><rect x=12 y=39 fill=#ffeed5 /><rect x=13 y=39 fill=#ffeed5 /><rect x=14 y=39 fill=#ffeed6 /><rect x=15 y=39 fill=#ffeed6 /><rect x=16 y=39 fill=#ffeed6 /><rect x=17 y=39 fill=#ffeed6 /><rect x=18 y=39 fill=#ffeed6 /><rect x=19 y=39 fill=#ffeed6 /><rect x=20 y=39 fill=#ffeed6 /><rect x=21 y=39 fill=#ffeed7 /><rect x=22 y=39 fill=#ffeed7 /><rect x=23 y=39 fill=#ffeed7 /><rect x=24 y=39 fill=#ffeed7 /><rect x=25 y=39 fill=#ffeed7 /><rect x=26 y=39 fill=#ffeed7 /><rect x=27 y=39 fill=#ffeed7 /><rect x=28 y=39 fill=#ffefd7 /><rect x=29 y=39 fill=#ffefd8 /><rect x=30 y=39 fill=#ffefd8 /><rect x=31 y=39 fill=#ffefd8 /><rect x=32 y=39 fill=#ffefd8 /><rect x=33 y=39 fill=#ffefd8 /><rect x=34 y=39 fill=#ffefd8 /><rect x=35 y=39 fill=#ffefd8 /><rect x=36 y=39 fill=#ffefd8 /><rect x=37 y=39 fill=#ffefd8 /><rect x=38 y=39 fill=#ffefd9 /><rect x=39 y=39 fill=#ffefd9 /><rect x=40 y=39 fill=#ffefd9 />
<rect x=0 y=40 fill=#ffedd4 /><rect x=1 y=40 fill=#ffedd4 /><rect x=2 y=40 fill=#ffedd4 /><rect x=3 y=40 fill=#ffedd4 /><rect x=4 y=40 fill=#ffedd4 /><rect x=5 y=40 fill=#ffedd4 /><rect x=6 y=40 fill=#ffedd4 /><rect x=7 y=40 fill=#ffedd4 /><rect x=8 y=40 fill=#ffedd4 /><rect x=9 y=40 fill=#ffedd4 /><rect x=10 y=40 fill=#ffedd4 /><rect x=11 y=40 fill=#ffedd4 /><rect x=12 y=40 fill=#ffedd4 /><rect x=13 y=40 fill=#ffedd4 /><rect x=14 y=40 fill=#ffedd4 /><rect x=15 y=40 fill=#ffedd4 /><rect x=16 y=40 fill=#ffedd4 /><rect x=17 y=40 fill=#ffedd4 /><rect x=18 y=40 fill=#ffedd4 /><rect x=19 y=40 fill=#ffedd4 /><rect x=20 y=40 fill=#ffedd4 /><rect x=21 y=40 fill=#ffedd4 /><rect x=22 y=40 fill=#ffedd4 /><rect x=23 y=40 fill=#ffedd4 /><rect x=24 y=40 fill=#ffedd4 /><rect x=25 y=40 fill=#ffedd4 /><rect x=26 y=40 fill=#ffedd4 /><rect x=27 y=40 fill=#ffedd4 /><rect x=28 y=40 fill=#ffedd4 /><rect x=29 y=40 fill=#ffedd4 /><rect x=30 y=40 fill=#ffedd4 /><rect x=31 y=40 fill=#ffedd4 /><rect x=32 y=40 fill=#ffedd4 /><rect x=33 y=40 fill=#ffedd4 /><rect x=34 y=40 fill=#ffedd4 /><rect x=35 y=40 fill=#ffedd4 /><rect x=36 y=40 fill=#ffedd4 /><rect x=37 y=40 fill=#ffedd4 /><rect x=38 y=40 fill=#ffedd4 /><rect x=39 y=40 fill=#ffedd4 /><rect x=40 y=40 fill=#ffedd4 />
</svg>
<path class="cl" d="M402.9 28.3 C403.1 29.3 403.9 32.4 404.3 34.2 C404.8 36.0 405.0 37.4 405.6 39.3 C406.2 41.2 407.0 43.4 407.7 45.4 C408.4 47.4 409.0 49.3 409.7 51.5 C410.4 53.7 410.9 56.4 411.7 58.6 C412.5 60.8 413.4 62.7 414.3 64.7 C415.2 66.7 416.0 68.6 416.8 70.8 C417.6 73.0 418.1 75.2 419.2 77.9 C420.3 80.6 421.8 84.4 423.3 87.1 C424.8 89.8 426.4 91.8 428.0 94.2 C429.6 96.6 431.3 99.0 432.8 101.4 C434.3 103.8 435.4 106.3 436.9 108.5 C438.4 110.7 439.9 112.3 441.7 114.4 C443.5 116.5 445.7 118.7 447.6 120.9 C449.5 123.1 451.2 125.2 453.0 127.4 C454.8 129.6 456.5 132.0 458.3 134.0 C460.1 136.0 461.6 137.5 463.6 139.3 C465.6 141.1 467.4 142.4 470.4 144.6 C473.4 146.8 478.0 149.8 481.8 152.3 C485.6 154.8 489.5 157.7 493.0 159.6 C496.5 161.5 499.3 162.5 502.9 163.9 C506.5 165.3 510.6 166.8 514.7 168.1 C518.9 169.4 523.4 170.6 527.8 171.8 C532.2 173.0 537.0 174.1 541.0 175.1 C545.0 176.1 548.3 176.9 551.5 177.6 C554.7 178.3 558.3 179.1 560.0 179.5 C561.7 179.9 561.3 179.8 561.6 179.9 M566.4 180.9 C569.2 181.5 578.7 183.1 583.0 184.0 C587.3 184.9 589.2 185.4 592.4 186.1 C595.6 186.8 600.7 188.0 602.4 188.4"/>
<path d="M570.2 181.3 L574.6 182.2" stroke="#fbfbff" stroke-width="1.6" fill="none"/><path d="M571.9 181.75 L572.8 181.95" stroke="#999" stroke-width=".8" fill="none"/>
<text class="c0" text-anchor="middle" transform="translate(564 180.5) rotate(12.1)" y="2.85">0</text>
<text class="ti" x="336.9" y="8.2"><tspan font-weight="bold">b)</tspan> Kenya</text>
<text class="tk" text-anchor="end" x="332.6" y="31.8">1.5</text>
<text class="tk" text-anchor="end" x="332.6" y="72.8">1.4</text>
<text class="tk" text-anchor="end" x="332.6" y="113.6">1.3</text>
<text class="tk" text-anchor="end" x="332.6" y="154.5">1.2</text>
<text class="tk" text-anchor="end" x="332.6" y="195.4">1.1</text>
<text class="tk" text-anchor="end" x="332.6" y="236.3">1.0</text>
<text class="tk" text-anchor="middle" x="352.5" y="257">0</text>
<text class="tk" text-anchor="middle" x="414.9" y="257">1</text>
<text class="tk" text-anchor="middle" x="477.4" y="257">2</text>
<text class="tk" text-anchor="middle" x="539.8" y="257">3</text>
<text class="tk" text-anchor="middle" x="602.2" y="257">4</text>
<svg class="t" x="43.1" y="316.8" width="256.0" height="210.0" viewBox="0 0 41 41" preserveAspectRatio="none" shape-rendering="crispEdges">
<rect x=0 y=0 fill=#ffe1b7 /><rect x=1 y=0 fill=#ffe4bd /><rect x=2 y=0 fill=#ffe6c4 /><rect x=3 y=0 fill=#ffe9ca /><rect x=4 y=0 fill=#ffecd0 /><rect x=5 y=0 fill=#ffeed6 /><rect x=6 y=0 fill=#fff1dc /><rect x=7 y=0 fill=#fff3e2 /><rect x=8 y=0 fill=#fff5e8 /><rect x=9 y=0 fill=#fff8ee /><rect x=10 y=0 fill=#fffaf3 /><rect x=11 y=0 fill=#fffcf9 /><rect x=12 y=0 fill=#fffffe /><rect x=13 y=0 fill=#fcfcfe /><rect x=14 y=0 fill=#f8f7fe /><rect x=15 y=0 fill=#f4f4fd /><rect x=16 y=0 fill=#f0f0fd /><rect x=17 y=0 fill=#ededfc /><rect x=18 y=0 fill=#eaeafc /><rect x=19 y=0 fill=#e7e6fb /><rect x=20 y=0 fill=#e3e3fb /><rect x=21 y=0 fill=#e0e0fa /><rect x=22 y=0 fill=#deddfa /><rect x=23 y=0 fill=#dadaf9 /><rect x=24 y=0 fill=#d6d6f8 /><rect x=25 y=0 fill=#d2d2f8 /><rect x=26 y=0 fill=#cfcff7 /><rect x=27 y=0 fill=#ccccf7 /><rect x=28 y=0 fill=#c9c9f6 /><rect x=29 y=0 fill=#c6c7f6 /><rect x=30 y=0 fill=#c3c4f5 /><rect x=31 y=0 fill=#bfc1f5 /><rect x=32 y=0 fill=#bcbef4 /><rect x=33 y=0 fill=#b9bbf3 /><rect x=34 y=0 fill=#b7b9f3 /><rect x=35 y=0 fill=#b5b7f3 /><rect x=36 y=0 fill=#b3b5f2 /><rect x=37 y=0 fill=#b0b3f2 /><rect x=38 y=0 fill=#aeb1f2 /><rect x=39 y=0 fill=#acaff1 /><rect x=40 y=0 fill=#aaaef1 />
<rect x=0 y=1 fill=#ffe1b7 /><rect x=1 y=1 fill=#ffe4bd /><rect x=2 y=1 fill=#ffe6c4 /><rect x=3 y=1 fill=#ffe9ca /><rect x=4 y=1 fill=#ffebd0 /><rect x=5 y=1 fill=#ffeed6 /><rect x=6 y=1 fill=#fff0db /><rect x=7 y=1 fill=#fff3e1 /><rect x=8 y=1 fill=#fff5e7 /><rect x=9 y=1 fill=#fff7ec /><rect x=10 y=1 fill=#fff9f2 /><rect x=11 y=1 fill=#fffcf7 /><rect x=12 y=1 fill=#fffefc /><rect x=13 y=1 fill=#fdfdff /><rect x=14 y=1 fill=#f9f9fe /><rect x=15 y=1 fill=#f6f5fe /><rect x=16 y=1 fill=#f2f1fd /><rect x=17 y=1 fill=#efeefc /><rect x=18 y=1 fill=#ecebfc /><rect x=19 y=1 fill=#e8e8fb /><rect x=20 y=1 fill=#e5e4fb /><rect x=21 y=1 fill=#e2e1fa /><rect x=22 y=1 fill=#dfdffa /><rect x=23 y=1 fill=#dcdcf9 /><rect x=24 y=1 fill=#d8d8f9 /><rect x=25 y=1 fill=#d4d4f8 /><rect x=26 y=1 fill=#d1d1f7 /><rect x=27 y=1 fill=#cecef7 /><rect x=28 y=1 fill=#cbcbf7 /><rect x=29 y=1 fill=#c8c9f6 /><rect x=30 y=1 fill=#c5c6f6 /><rect x=31 y=1 fill=#c2c3f5 /><rect x=32 y=1 fill=#bec0f4 /><rect x=33 y=1 fill=#bcbdf4 /><rect x=34 y=1 fill=#b9bbf3 /><rect x=35 y=1 fill=#b7b9f3 /><rect x=36 y=1 fill=#b5b7f3 /><rect x=37 y=1 fill=#b3b5f2 /><rect x=38 y=1 fill=#b1b3f2 /><rect x=39 y=1 fill=#afb1f2 /><rect x=40 y=1 fill=#adb0f1 />
<rect x=0 y=2 fill=#ffe1b7 /><rect x=1 y=2 fill=#ffe4bd /><rect x=2 y=2 fill=#ffe6c3 /><rect x=3 y=2 fill=#ffe9c9 /><rect x=4 y=2 fill=#ffebcf /><rect x=5 y=2 fill=#ffedd5 /><rect x=6 y=2 fill=#fff0da /><rect x=7 y=2 fill=#fff2e0 /><rect x=8 y=2 fill=#fff4e6 /><rect x=9 y=2 fill=#fff7eb /><rect x=10 y=2 fill=#fff9f0 /><rect x=11 y=2 fill=#fffbf6 /><rect x=12 y=2 fill=#fffdfb /><rect x=13 y=2 fill=#fefeff /><rect x=14 y=2 fill=#fafafe /><rect x=15 y=2 fill=#f7f7fe /><rect x=16 y=2 fill=#f3f3fd /><rect x=17 y=2 fill=#f0f0fd /><rect x=18 y=2 fill=#ededfc /><rect x=19 y=2 fill=#eae9fc /><rect x=20 y=2 fill=#e6e6fb /><rect x=21 y=2 fill=#e4e3fb /><rect x=22 y=2 fill=#e1e1fa /><rect x=23 y=2 fill=#deddfa /><rect x=24 y=2 fill=#dadaf9 /><rect x=25 y=2 fill=#d6d6f8 /><rect x=26 y=2 fill=#d3d3f8 /><rect x=27 y=2 fill=#d0d0f7 /><rect x=28 y=2 fill=#cdcdf7 /><rect x=29 y=2 fill=#cacbf6 /><rect x=30 y=2 fill=#c7c8f6 /><rect x=31 y=2 fill=#c4c5f5 /><rect x=32 y=2 fill=#c1c2f5 /><rect x=33 y=2 fill=#bebff4 /><rect x=34 y=2 fill=#bcbdf4 /><rect x=35 y=2 fill=#b9bbf3 /><rect x=36 y=2 fill=#b7b9f3 /><rect x=37 y=2 fill=#b5b7f3 /><rect x=38 y=2 fill=#b3b6f2 /><rect x=39 y=2 fill=#b1b4f2 /><rect x=40 y=2 fill=#afb2f2 />
<rect x=0 y=3 fill=#ffe1b7 /><rect x=1 y=3 fill=#ffe3bd /><rect x=2 y=3 fill=#ffe6c3 /><rect x=3 y=3 fill=#ffe8c9 /><rect x=4 y=3 fill=#ffebce /><rect x=5 y=3 fill=#ffedd4 /><rect x=6 y=3 fill=#ffefda /><rect x=7 y=3 fill=#fff2df /><rect x=8 y=3 fill=#fff4e4 /><rect x=9 y=3 fill=#fff6ea /><rect x=10 y=3 fill=#fff8ef /><rect x=11 y=3 fill=#fffaf4 /><rect x=12 y=3 fill=#fffdf9 /><rect x=13 y=3 fill=#ffffff /><rect x=14 y=3 fill=#fcfbfe /><rect x=15 y=3 fill=#f8f8fe /><rect x=16 y=3 fill=#f5f4fd /><rect x=17 y=3 fill=#f2f1fd /><rect x=18 y=3 fill=#efeefc /><rect x=19 y=3 fill=#ecebfc /><rect x=20 y=3 fill=#e8e8fb /><rect x=21 y=3 fill=#e5e5fb /><rect x=22 y=3 fill=#e3e2fb /><rect x=23 y=3 fill=#e0dffa /><rect x=24 y=3 fill=#dcdbf9 /><rect x=25 y=3 fill=#d8d8f9 /><rect x=26 y=3 fill=#d5d5f8 /><rect x=27 y=3 fill=#d2d2f8 /><rect x=28 y=3 fill=#cfcff7 /><rect x=29 y=3 fill=#cccdf7 /><rect x=30 y=3 fill=#c9caf6 /><rect x=31 y=3 fill=#c6c7f6 /><rect x=32 y=3 fill=#c3c4f5 /><rect x=33 y=3 fill=#c0c1f5 /><rect x=34 y=3 fill=#bebff4 /><rect x=35 y=3 fill=#bcbdf4 /><rect x=36 y=3 fill=#babbf4 /><rect x=37 y=3 fill=#b8baf3 /><rect x=38 y=3 fill=#b6b8f3 /><rect x=39 y=3 fill=#b4b6f2 /><rect x=40 y=3 fill=#b2b4f2 />
<rect x=0 y=4 fill=#ffe1b7 /><rect x=1 y=4 fill=#ffe3bd /><rect x=2 y=4 fill=#ffe6c3 /><rect x=3 y=4 fill=#ffe8c8 /><rect x=4 y=4 fill=#ffeace /><rect x=5 y=4 fill=#ffedd3 /><rect x=6 y=4 fill=#ffefd9 /><rect x=7 y=4 fill=#fff1de /><rect x=8 y=4 fill=#fff3e3 /><rect x=9 y=4 fill=#fff6e8 /><rect x=10 y=4 fill=#fff8ee /><rect x=11 y=4 fill=#fffaf3 /><rect x=12 y=4 fill=#fffcf7 /><rect x=13 y=4 fill=#fffefd /><rect x=14 y=4 fill=#fdfdff /><rect x=15 y=4 fill=#fafafe /><rect x=16 y=4 fill=#f6f6fe /><rect x=17 y=4 fill=#f3f3fd /><rect x=18 y=4 fill=#f0f0fd /><rect x=19 y=4 fill=#ededfc /><rect x=20 y=4 fill=#eae9fc /><rect x=21 y=4 fill=#e7e7fb /><rect x=22 y=4 fill=#e5e4fb /><rect x=23 y=4 fill=#e1e1fa /><rect x=24 y=4 fill=#deddfa /><rect x=25 y=4 fill=#dadaf9 /><rect x=26 y=4 fill=#d7d7f9 /><rect x=27 y=4 fill=#d4d4f8 /><rect x=28 y=4 fill=#d1d1f8 /><rect x=29 y=4 fill=#cfcff7 /><rect x=30 y=4 fill=#ccccf7 /><rect x=31 y=4 fill=#c8c9f6 /><rect x=32 y=4 fill=#c5c6f6 /><rect x=33 y=4 fill=#c3c3f5 /><rect x=34 y=4 fill=#c0c1f5 /><rect x=35 y=4 fill=#bebff4 /><rect x=36 y=4 fill=#bcbef4 /><rect x=37 y=4 fill=#babcf4 /><rect x=38 y=4 fill=#b8baf3 /><rect x=39 y=4 fill=#b6b8f3 /><rect x=40 y=4 fill=#b4b6f3 />
<rect x=0 y=5 fill=#ffe1b7 /><rect x=1 y=5 fill=#ffe3bd /><rect x=2 y=5 fill=#ffe6c2 /><rect x=3 y=5 fill=#ffe8c8 /><rect x=4 y=5 fill=#ffeacd /><rect x=5 y=5 fill=#ffecd3 /><rect x=6 y=5 fill=#ffefd8 /><rect x=7 y=5 fill=#fff1dd /><rect x=8 y=5 fill=#fff3e2 /><rect x=9 y=5 fill=#fff5e7 /><rect x=10 y=5 fill=#fff7ec /><rect x=11 y=5 fill=#fff9f1 /><rect x=12 y=5 fill=#fffbf6 /><rect x=13 y=5 fill=#fffdfb /><rect x=14 y=5 fill=#fefeff /><rect x=15 y=5 fill=#fbfbfe /><rect x=16 y=5 fill=#f8f7fe /><rect x=17 y=5 fill=#f5f4fd /><rect x=18 y=5 fill=#f2f1fd /><rect x=19 y=5 fill=#efeefc /><rect x=20 y=5 fill=#ecebfc /><rect x=21 y=5 fill=#e9e8fc /><rect x=22 y=5 fill=#e6e6fb /><rect x=23 y=5 fill=#e3e3fb /><rect x=24 y=5 fill=#e0dffa /><rect x=25 y=5 fill=#dcdcf9 /><rect x=26 y=5 fill=#d9d9f9 /><rect x=27 y=5 fill=#d6d6f8 /><rect x=28 y=5 fill=#d3d3f8 /><rect x=29 y=5 fill=#d1d1f8 /><rect x=30 y=5 fill=#cecef7 /><rect x=31 y=5 fill=#cbcbf6 /><rect x=32 y=5 fill=#c8c8f6 /><rect x=33 y=5 fill=#c5c6f5 /><rect x=34 y=5 fill=#c3c4f5 /><rect x=35 y=5 fill=#c1c2f5 /><rect x=36 y=5 fill=#bfc0f4 /><rect x=37 y=5 fill=#bdbef4 /><rect x=38 y=5 fill=#bbbcf4 /><rect x=39 y=5 fill=#b9baf3 /><rect x=40 y=5 fill=#b7b9f3 />
<rect x=0 y=6 fill=#ffe1b7 /><rect x=1 y=6 fill=#ffe3bc /><rect x=2 y=6 fill=#ffe6c2 /><rect x=3 y=6 fill=#ffe8c7 /><rect x=4 y=6 fill=#ffeacd /><rect x=5 y=6 fill=#ffecd2 /><rect x=6 y=6 fill=#ffeed7 /><rect x=7 y=6 fill=#fff0dc /><rect x=8 y=6 fill=#fff2e1 /><rect x=9 y=6 fill=#fff5e6 /><rect x=10 y=6 fill=#fff7eb /><rect x=11 y=6 fill=#fff9ef /><rect x=12 y=6 fill=#fffaf4 /><rect x=13 y=6 fill=#fffdf9 /><rect x=14 y=6 fill=#fffffe /><rect x=15 y=6 fill=#fdfdff /><rect x=16 y=6 fill=#f9f9fe /><rect x=17 y=6 fill=#f6f6fe /><rect x=18 y=6 fill=#f3f3fd /><rect x=19 y=6 fill=#f0f0fd /><rect x=20 y=6 fill=#ededfc /><rect x=21 y=6 fill=#ebeafc /><rect x=22 y=6 fill=#e8e8fb /><rect x=23 y=6 fill=#e5e5fb /><rect x=24 y=6 fill=#e2e1fa /><rect x=25 y=6 fill=#dedefa /><rect x=26 y=6 fill=#dbdbf9 /><rect x=27 y=6 fill=#d8d8f9 /><rect x=28 y=6 fill=#d6d5f8 /><rect x=29 y=6 fill=#d3d3f8 /><rect x=30 y=6 fill=#d0d0f7 /><rect x=31 y=6 fill=#cdcdf7 /><rect x=32 y=6 fill=#cacaf6 /><rect x=33 y=6 fill=#c7c8f6 /><rect x=34 y=6 fill=#c5c6f6 /><rect x=35 y=6 fill=#c3c4f5 /><rect x=36 y=6 fill=#c1c2f5 /><rect x=37 y=6 fill=#bfc0f5 /><rect x=38 y=6 fill=#bdbff4 /><rect x=39 y=6 fill=#bbbdf4 /><rect x=40 y=6 fill=#babbf3 />
<rect x=0 y=7 fill=#ffe1b7 /><rect x=1 y=7 fill=#ffe3bc /><rect x=2 y=7 fill=#ffe5c2 /><rect x=3 y=7 fill=#ffe8c7 /><rect x=4 y=7 fill=#ffeacc /><rect x=5 y=7 fill=#ffecd1 /><rect x=6 y=7 fill=#ffeed6 /><rect x=7 y=7 fill=#fff0db /><rect x=8 y=7 fill=#fff2e0 /><rect x=9 y=7 fill=#fff4e5 /><rect x=10 y=7 fill=#fff6e9 /><rect x=11 y=7 fill=#fff8ee /><rect x=12 y=7 fill=#fffaf3 /><rect x=13 y=7 fill=#fffcf7 /><rect x=14 y=7 fill=#fffefc /><rect x=15 y=7 fill=#fefeff /><rect x=16 y=7 fill=#fbfafe /><rect x=17 y=7 fill=#f8f7fe /><rect x=18 y=7 fill=#f5f5fd /><rect x=19 y=7 fill=#f2f2fd /><rect x=20 y=7 fill=#efeffc /><rect x=21 y=7 fill=#ececfc /><rect x=22 y=7 fill=#eaeafc /><rect x=23 y=7 fill=#e7e7fb /><rect x=24 y=7 fill=#e4e3fb /><rect x=25 y=7 fill=#e0e0fa /><rect x=26 y=7 fill=#ddddfa /><rect x=27 y=7 fill=#dadaf9 /><rect x=28 y=7 fill=#d8d8f9 /><rect x=29 y=7 fill=#d5d5f8 /><rect x=30 y=7 fill=#d3d2f8 /><rect x=31 y=7 fill=#cfcff7 /><rect x=32 y=7 fill=#cccdf7 /><rect x=33 y=7 fill=#cacaf6 /><rect x=34 y=7 fill=#c8c8f6 /><rect x=35 y=7 fill=#c6c6f6 /><rect x=36 y=7 fill=#c4c5f5 /><rect x=37 y=7 fill=#c2c3f5 /><rect x=38 y=7 fill=#c0c1f5 /><rect x=39 y=7 fill=#bebff4 /><rect x=40 y=7 fill=#bcbef4 />
<rect x=0 y=8 fill=#ffe1b7 /><rect x=1 y=8 fill=#ffe3bc /><rect x=2 y=8 fill=#ffe5c1 /><rect x=3 y=8 fill=#ffe7c6 /><rect x=4 y=8 fill=#ffe9cb /><rect x=5 y=8 fill=#ffecd0 /><rect x=6 y=8 fill=#ffeed5 /><rect x=7 y=8 fill=#fff0da /><rect x=8 y=8 fill=#fff2df /><rect x=9 y=8 fill=#fff3e3 /><rect x=10 y=8 fill=#fff5e8 /><rect x=11 y=8 fill=#fff7ec /><rect x=12 y=8 fill=#fff9f1 /><rect x=13 y=8 fill=#fffbf6 /><rect x=14 y=8 fill=#fffdfa /><rect x=15 y=8 fill=#fffffe /><rect x=16 y=8 fill=#fcfcff /><rect x=17 y=8 fill=#f9f9fe /><rect x=18 y=8 fill=#f7f6fe /><rect x=19 y=8 fill=#f4f3fd /><rect x=20 y=8 fill=#f1f0fd /><rect x=21 y=8 fill=#eeeefc /><rect x=22 y=8 fill=#ecebfc /><rect x=23 y=8 fill=#e9e8fc /><rect x=24 y=8 fill=#e6e5fb /><rect x=25 y=8 fill=#e2e2fa /><rect x=26 y=8 fill=#dfdffa /><rect x=27 y=8 fill=#dcdcf9 /><rect x=28 y=8 fill=#dadaf9 /><rect x=29 y=8 fill=#d8d7f9 /><rect x=30 y=8 fill=#d5d5f8 /><rect x=31 y=8 fill=#d2d2f8 /><rect x=32 y=8 fill=#cfcff7 /><rect x=33 y=8 fill=#cccdf7 /><rect x=34 y=8 fill=#cacbf6 /><rect x=35 y=8 fill=#c8c9f6 /><rect x=36 y=8 fill=#c6c7f6 /><rect x=37 y=8 fill=#c5c5f5 /><rect x=38 y=8 fill=#c3c3f5 /><rect x=39 y=8 fill=#c1c2f5 /><rect x=40 y=8 fill=#bfc0f4 />
<rect x=0 y=9 fill=#ffe1b7 /><rect x=1 y=9 fill=#ffe3bc /><rect x=2 y=9 fill=#ffe5c1 /><rect x=3 y=9 fill=#ffe7c6 /><rect x=4 y=9 fill=#ffe9cb /><rect x=5 y=9 fill=#ffebcf /><rect x=6 y=9 fill=#ffedd4 /><rect x=7 y=9 fill=#ffefd9 /><rect x=8 y=9 fill=#fff1dd /><rect x=9 y=9 fill=#fff3e2 /><rect x=10 y=9 fill=#fff5e6 /><rect x=11 y=9 fill=#fff7eb /><rect x=12 y=9 fill=#fff8ef /><rect x=13 y=9 fill=#fffaf4 /><rect x=14 y=9 fill=#fffcf9 /><rect x=15 y=9 fill=#fffefc /><rect x=16 y=9 fill=#fefdff /><rect x=17 y=9 fill=#fbfbfe /><rect x=18 y=9 fill=#f8f8fe /><rect x=19 y=9 fill=#f5f5fe /><rect x=20 y=9 fill=#f2f2fd /><rect x=21 y=9 fill=#f0f0fd /><rect x=22 y=9 fill=#eeedfc /><rect x=23 y=9 fill=#ebeafc /><rect x=24 y=9 fill=#e8e7fb /><rect x=25 y=9 fill=#e4e4fb /><rect x=26 y=9 fill=#e1e1fa /><rect x=27 y=9 fill=#dfdefa /><rect x=28 y=9 fill=#dcdcf9 /><rect x=29 y=9 fill=#dadaf9 /><rect x=30 y=9 fill=#d7d7f9 /><rect x=31 y=9 fill=#d4d4f8 /><rect x=32 y=9 fill=#d1d1f8 /><rect x=33 y=9 fill=#cfcff7 /><rect x=34 y=9 fill=#cdcdf7 /><rect x=35 y=9 fill=#cbcbf6 /><rect x=36 y=9 fill=#c9c9f6 /><rect x=37 y=9 fill=#c7c8f6 /><rect x=38 y=9 fill=#c5c6f6 /><rect x=39 y=9 fill=#c3c4f5 /><rect x=40 y=9 fill=#c2c3f5 />
<rect x=0 y=10 fill=#ffe1b7 /><rect x=1 y=10 fill=#ffe3bc /><rect x=2 y=10 fill=#ffe5c1 /><rect x=3 y=10 fill=#ffe7c5 /><rect x=4 y=10 fill=#ffe9ca /><rect x=5 y=10 fill=#ffebcf /><rect x=6 y=10 fill=#ffedd3 /><rect x=7 y=10 fill=#ffefd8 /><rect x=8 y=10 fill=#fff1dc /><rect x=9 y=10 fill=#fff2e1 /><rect x=10 y=10 fill=#fff4e5 /><rect x=11 y=10 fill=#fff6e9 /><rect x=12 y=10 fill=#fff8ee /><rect x=13 y=10 fill=#fffaf2 /><rect x=14 y=10 fill=#fffcf7 /><rect x=15 y=10 fill=#fffdfa /><rect x=16 y=10 fill=#ffffff /><rect x=17 y=10 fill=#fcfcff /><rect x=18 y=10 fill=#fafafe /><rect x=19 y=10 fill=#f7f7fe /><rect x=20 y=10 fill=#f4f4fd /><rect x=21 y=10 fill=#f2f2fd /><rect x=22 y=10 fill=#f0effd /><rect x=23 y=10 fill=#edecfc /><rect x=24 y=10 fill=#eae9fc /><rect x=25 y=10 fill=#e6e6fb /><rect x=26 y=10 fill=#e4e3fb /><rect x=27 y=10 fill=#e1e0fa /><rect x=28 y=10 fill=#dfdefa /><rect x=29 y=10 fill=#dcdcf9 /><rect x=30 y=10 fill=#dad9f9 /><rect x=31 y=10 fill=#d7d6f8 /><rect x=32 y=10 fill=#d4d4f8 /><rect x=33 y=10 fill=#d1d1f8 /><rect x=34 y=10 fill=#cfcff7 /><rect x=35 y=10 fill=#cecef7 /><rect x=36 y=10 fill=#ccccf7 /><rect x=37 y=10 fill=#cacaf6 /><rect x=38 y=10 fill=#c8c9f6 /><rect x=39 y=10 fill=#c6c7f6 /><rect x=40 y=10 fill=#c4c5f5 />
<rect x=0 y=11 fill=#ffe1b7 /><rect x=1 y=11 fill=#ffe3bc /><rect x=2 y=11 fill=#ffe5c0 /><rect x=3 y=11 fill=#ffe7c5 /><rect x=4 y=11 fill=#ffe9c9 /><rect x=5 y=11 fill=#ffebce /><rect x=6 y=11 fill=#ffecd2 /><rect x=7 y=11 fill=#ffeed7 /><rect x=8 y=11 fill=#fff0db /><rect x=9 y=11 fill=#fff2df /><rect x=10 y=11 fill=#fff4e4 /><rect x=11 y=11 fill=#fff5e8 /><rect x=12 y=11 fill=#fff7ec /><rect x=13 y=11 fill=#fff9f0 /><rect x=14 y=11 fill=#fffbf5 /><rect x=15 y=11 fill=#fffcf8 /><rect x=16 y=11 fill=#fffefd /><rect x=17 y=11 fill=#fefeff /><rect x=18 y=11 fill=#fcfbfe /><rect x=19 y=11 fill=#f9f9fe /><rect x=20 y=11 fill=#f6f6fe /><rect x=21 y=11 fill=#f4f3fd /><rect x=22 y=11 fill=#f2f1fd /><rect x=23 y=11 fill=#efeefc /><rect x=24 y=11 fill=#ecebfc /><rect x=25 y=11 fill=#e9e8fb /><rect x=26 y=11 fill=#e6e5fb /><rect x=27 y=11 fill=#e3e3fb /><rect x=28 y=11 fill=#e1e0fa /><rect x=29 y=11 fill=#dfdefa /><rect x=30 y=11 fill=#dcdcf9 /><rect x=31 y=11 fill=#d9d9f9 /><rect x=32 y=11 fill=#d6d6f8 /><rect x=33 y=11 fill=#d4d4f8 /><rect x=34 y=11 fill=#d2d2f8 /><rect x=35 y=11 fill=#d0d0f7 /><rect x=36 y=11 fill=#cecef7 /><rect x=37 y=11 fill=#cdcdf7 /><rect x=38 y=11 fill=#cbcbf6 /><rect x=39 y=11 fill=#c9c9f6 /><rect x=40 y=11 fill=#c7c8f6 />
<rect x=0 y=12 fill=#ffe1b7 /><rect x=1 y=12 fill=#ffe3bc /><rect x=2 y=12 fill=#ffe5c0 /><rect x=3 y=12 fill=#ffe7c4 /><rect x=4 y=12 fill=#ffe8c9 /><rect x=5 y=12 fill=#ffeacd /><rect x=6 y=12 fill=#ffecd1 /><rect x=7 y=12 fill=#ffeed6 /><rect x=8 y=12 fill=#fff0da /><rect x=9 y=12 fill=#fff1de /><rect x=10 y=12 fill=#fff3e2 /><rect x=11 y=12 fill=#fff5e6 /><rect x=12 y=12 fill=#fff6ea /><rect x=13 y=12 fill=#fff8ee /><rect x=14 y=12 fill=#fffaf3 /><rect x=15 y=12 fill=#fffbf6 /><rect x=16 y=12 fill=#fffdfb /><rect x=17 y=12 fill=#fffffe /><rect x=18 y=12 fill=#fdfdff /><rect x=19 y=12 fill=#fbfafe /><rect x=20 y=12 fill=#f8f8fe /><rect x=21 y=12 fill=#f6f5fe /><rect x=22 y=12 fill=#f4f3fd /><rect x=23 y=12 fill=#f1f0fd /><rect x=24 y=12 fill=#eeedfc /><rect x=25 y=12 fill=#ebeafc /><rect x=26 y=12 fill=#e8e7fb /><rect x=27 y=12 fill=#e5e5fb /><rect x=28 y=12 fill=#e3e3fb /><rect x=29 y=12 fill=#e1e1fa /><rect x=30 y=12 fill=#dedefa /><rect x=31 y=12 fill=#dcdbf9 /><rect x=32 y=12 fill=#d9d9f9 /><rect x=33 y=12 fill=#d7d6f8 /><rect x=34 y=12 fill=#d5d5f8 /><rect x=35 y=12 fill=#d3d3f8 /><rect x=36 y=12 fill=#d1d1f8 /><rect x=37 y=12 fill=#cfcff7 /><rect x=38 y=12 fill=#cecef7 /><rect x=39 y=12 fill=#ccccf7 /><rect x=40 y=12 fill=#cacaf6 />
<rect x=0 y=13 fill=#ffe1b7 /><rect x=1 y=13 fill=#ffe3bb /><rect x=2 y=13 fill=#ffe5c0 /><rect x=3 y=13 fill=#ffe6c4 /><rect x=4 y=13 fill=#ffe8c8 /><rect x=5 y=13 fill=#ffeacc /><rect x=6 y=13 fill=#ffecd1 /><rect x=7 y=13 fill=#ffedd5 /><rect x=8 y=13 fill=#ffefd9 /><rect x=9 y=13 fill=#fff1dd /><rect x=10 y=13 fill=#fff2e1 /><rect x=11 y=13 fill=#fff4e5 /><rect x=12 y=13 fill=#fff6e8 /><rect x=13 y=13 fill=#fff7ed /><rect x=14 y=13 fill=#fff9f1 /><rect x=15 y=13 fill=#fffbf4 /><rect x=16 y=13 fill=#fffcf8 /><rect x=17 y=13 fill=#fffefc /><rect x=18 y=13 fill=#ffffff /><rect x=19 y=13 fill=#fcfcff /><rect x=20 y=13 fill=#faf9fe /><rect x=21 y=13 fill=#f8f7fe /><rect x=22 y=13 fill=#f5f5fe /><rect x=23 y=13 fill=#f3f2fd /><rect x=24 y=13 fill=#f0effd /><rect x=25 y=13 fill=#edecfc /><rect x=26 y=13 fill=#eaeafc /><rect x=27 y=13 fill=#e8e7fb /><rect x=28 y=13 fill=#e6e5fb /><rect x=29 y=13 fill=#e3e3fb /><rect x=30 y=13 fill=#e1e0fa /><rect x=31 y=13 fill=#dedefa /><rect x=32 y=13 fill=#dcdbf9 /><rect x=33 y=13 fill=#d9d9f9 /><rect x=34 y=13 fill=#d7d7f9 /><rect x=35 y=13 fill=#d6d5f8 /><rect x=36 y=13 fill=#d4d4f8 /><rect x=37 y=13 fill=#d2d2f8 /><rect x=38 y=13 fill=#d1d1f7 /><rect x=39 y=13 fill=#cfcff7 /><rect x=40 y=13 fill=#cdcdf7 />
<rect x=0 y=14 fill=#ffe1b7 /><rect x=1 y=14 fill=#ffe3bb /><rect x=2 y=14 fill=#ffe4bf /><rect x=3 y=14 fill=#ffe6c4 /><rect x=4 y=14 fill=#ffe8c8 /><rect x=5 y=14 fill=#ffeacc /><rect x=6 y=14 fill=#ffebd0 /><rect x=7 y=14 fill=#ffedd4 /><rect x=8 y=14 fill=#ffefd7 /><rect x=9 y=14 fill=#fff0db /><rect x=10 y=14 fill=#fff2df /><rect x=11 y=14 fill=#fff3e3 /><rect x=12 y=14 fill=#fff5e7 /><rect x=13 y=14 fill=#fff7eb /><rect x=14 y=14 fill=#fff8ef /><rect x=15 y=14 fill=#fffaf2 /><rect x=16 y=14 fill=#fffbf6 /><rect x=17 y=14 fill=#fffdfa /><rect x=18 y=14 fill=#fffefd /><rect x=19 y=14 fill=#fefeff /><rect x=20 y=14 fill=#fbfbfe /><rect x=21 y=14 fill=#f9f9fe /><rect x=22 y=14 fill=#f7f7fe /><rect x=23 y=14 fill=#f5f5fd /><rect x=24 y=14 fill=#f2f2fd /><rect x=25 y=14 fill=#efeffd /><rect x=26 y=14 fill=#ececfc /><rect x=27 y=14 fill=#eaeafc /><rect x=28 y=14 fill=#e8e8fb /><rect x=29 y=14 fill=#e6e5fb /><rect x=30 y=14 fill=#e3e3fb /><rect x=31 y=14 fill=#e1e0fa /><rect x=32 y=14 fill=#dedefa /><rect x=33 y=14 fill=#dcdcf9 /><rect x=34 y=14 fill=#dadaf9 /><rect x=35 y=14 fill=#d8d8f9 /><rect x=36 y=14 fill=#d7d6f9 /><rect x=37 y=14 fill=#d5d5f8 /><rect x=38 y=14 fill=#d3d3f8 /><rect x=39 y=14 fill=#d2d2f8 /><rect x=40 y=14 fill=#d0d0f7 />
<rect x=0 y=15 fill=#ffe1b7 /><rect x=1 y=15 fill=#ffe3bb /><rect x=2 y=15 fill=#ffe4bf /><rect x=3 y=15 fill=#ffe6c3 /><rect x=4 y=15 fill=#ffe8c7 /><rect x=5 y=15 fill=#ffe9cb /><rect x=6 y=15 fill=#ffebcf /><rect x=7 y=15 fill=#ffecd3 /><rect x=8 y=15 fill=#ffeed6 /><rect x=9 y=15 fill=#fff0da /><rect x=10 y=15 fill=#fff1de /><rect x=11 y=15 fill=#fff3e1 /><rect x=12 y=15 fill=#fff4e5 /><rect x=13 y=15 fill=#fff6e9 /><rect x=14 y=15 fill=#fff7ed /><rect x=15 y=15 fill=#fff9f0 /><rect x=16 y=15 fill=#fffaf4 /><rect x=17 y=15 fill=#fffcf7 /><rect x=18 y=15 fill=#fffdfa /><rect x=19 y=15 fill=#fffefe /><rect x=20 y=15 fill=#fdfdff /><rect x=21 y=15 fill=#fbfbfe /><rect x=22 y=15 fill=#f9f9fe /><rect x=23 y=15 fill=#f7f7fe /><rect x=24 y=15 fill=#f4f4fd /><rect x=25 y=15 fill=#f1f1fd /><rect x=26 y=15 fill=#efeefc /><rect x=27 y=15 fill=#ececfc /><rect x=28 y=15 fill=#eaeafc /><rect x=29 y=15 fill=#e8e8fb /><rect x=30 y=15 fill=#e6e5fb /><rect x=31 y=15 fill=#e3e3fb /><rect x=32 y=15 fill=#e1e0fa /><rect x=33 y=15 fill=#dfdefa /><rect x=34 y=15 fill=#dddcfa /><rect x=35 y=15 fill=#dbdbf9 /><rect x=36 y=15 fill=#dad9f9 /><rect x=37 y=15 fill=#d8d8f9 /><rect x=38 y=15 fill=#d6d6f8 /><rect x=39 y=15 fill=#d5d5f8 /><rect x=40 y=15 fill=#d3d3f8 />
<rect x=0 y=16 fill=#ffe1b7 /><rect x=1 y=16 fill=#ffe3bb /><rect x=2 y=16 fill=#ffe4bf /><rect x=3 y=16 fill=#ffe6c3 /><rect x=4 y=16 fill=#ffe7c6 /><rect x=5 y=16 fill=#ffe9ca /><rect x=6 y=16 fill=#ffeace /><rect x=7 y=16 fill=#ffecd1 /><rect x=8 y=16 fill=#ffeed5 /><rect x=9 y=16 fill=#ffefd9 /><rect x=10 y=16 fill=#fff1dc /><rect x=11 y=16 fill=#fff2e0 /><rect x=12 y=16 fill=#fff3e3 /><rect x=13 y=16 fill=#fff5e7 /><rect x=14 y=16 fill=#fff7eb /><rect x=15 y=16 fill=#fff8ee /><rect x=16 y=16 fill=#fff9f2 /><rect x=17 y=16 fill=#fffbf5 /><rect x=18 y=16 fill=#fffcf8 /><rect x=19 y=16 fill=#fffdfb /><rect x=20 y=16 fill=#ffffff /><rect x=21 y=16 fill=#fdfdff /><rect x=22 y=16 fill=#fbfbfe /><rect x=23 y=16 fill=#f9f9fe /><rect x=24 y=16 fill=#f6f6fe /><rect x=25 y=16 fill=#f4f3fd /><rect x=26 y=16 fill=#f1f1fd /><rect x=27 y=16 fill=#efeefc /><rect x=28 y=16 fill=#edecfc /><rect x=29 y=16 fill=#ebeafc /><rect x=30 y=16 fill=#e9e8fb /><rect x=31 y=16 fill=#e6e6fb /><rect x=32 y=16 fill=#e4e3fb /><rect x=33 y=16 fill=#e1e1fa /><rect x=34 y=16 fill=#e0dffa /><rect x=35 y=16 fill=#dedefa /><rect x=36 y=16 fill=#dcdcf9 /><rect x=37 y=16 fill=#dbdbf9 /><rect x=38 y=16 fill=#d9d9f9 /><rect x=39 y=16 fill=#d8d7f9 /><rect x=40 y=16 fill=#d6d6f8 />
<rect x=0 y=17 fill=#ffe1b7 /><rect x=1 y=17 fill=#ffe3bb /><rect x=2 y=17 fill=#ffe4be /><rect x=3 y=17 fill=#ffe6c2 /><rect x=4 y=17 fill=#ffe7c6 /><rect x=5 y=17 fill=#ffe9c9 /><rect x=6 y=17 fill=#ffeacd /><rect x=7 y=17 fill=#ffecd0 /><rect x=8 y=17 fill=#ffedd4 /><rect x=9 y=17 fill=#ffeed7 /><rect x=10 y=17 fill=#fff0db /><rect x=11 y=17 fill=#fff1de /><rect x=12 y=17 fill=#fff3e2 /><rect x=13 y=17 fill=#fff4e5 /><rect x=14 y=17 fill=#fff6e9 /><rect x=15 y=17 fill=#fff7ec /><rect x=16 y=17 fill=#fff9ef /><rect x=17 y=17 fill=#fffaf3 /><rect x=18 y=17 fill=#fffbf5 /><rect x=19 y=17 fill=#fffcf9 /><rect x=20 y=17 fill=#fffefc /><rect x=21 y=17 fill=#ffffff /><rect x=22 y=17 fill=#fdfdff /><rect x=23 y=17 fill=#fbfbfe /><rect x=24 y=17 fill=#f8f8fe /><rect x=25 y=17 fill=#f6f6fe /><rect x=26 y=17 fill=#f3f3fd /><rect x=27 y=17 fill=#f1f1fd /><rect x=28 y=17 fill=#efeffd /><rect x=29 y=17 fill=#ededfc /><rect x=30 y=17 fill=#ebebfc /><rect x=31 y=17 fill=#e9e8fb /><rect x=32 y=17 fill=#e6e6fb /><rect x=33 y=17 fill=#e4e4fb /><rect x=34 y=17 fill=#e3e2fa /><rect x=35 y=17 fill=#e1e1fa /><rect x=36 y=17 fill=#dfdffa /><rect x=37 y=17 fill=#deddfa /><rect x=38 y=17 fill=#dcdcf9 /><rect x=39 y=17 fill=#dbdaf9 /><rect x=40 y=17 fill=#d9d9f9 />
<rect x=0 y=18 fill=#ffe1b7 /><rect x=1 y=18 fill=#ffe2bb /><rect x=2 y=18 fill=#ffe4be /><rect x=3 y=18 fill=#ffe5c2 /><rect x=4 y=18 fill=#ffe7c5 /><rect x=5 y=18 fill=#ffe8c9 /><rect x=6 y=18 fill=#ffeacc /><rect x=7 y=18 fill=#ffebcf /><rect x=8 y=18 fill=#ffedd3 /><rect x=9 y=18 fill=#ffeed6 /><rect x=10 y=18 fill=#ffefd9 /><rect x=11 y=18 fill=#fff1dd /><rect x=12 y=18 fill=#fff2e0 /><rect x=13 y=18 fill=#fff3e3 /><rect x=14 y=18 fill=#fff5e7 /><rect x=15 y=18 fill=#fff6ea /><rect x=16 y=18 fill=#fff8ed /><rect x=17 y=18 fill=#fff9f0 /><rect x=18 y=18 fill=#fffaf3 /><rect x=19 y=18 fill=#fffbf6 /><rect x=20 y=18 fill=#fffdf9 /><rect x=21 y=18 fill=#fffefc /><rect x=22 y=18 fill=#fffffe /><rect x=23 y=18 fill=#fdfdff /><rect x=24 y=18 fill=#fbfafe /><rect x=25 y=18 fill=#f8f8fe /><rect x=26 y=18 fill=#f6f5fe /><rect x=27 y=18 fill=#f4f3fd /><rect x=28 y=18 fill=#f2f1fd /><rect x=29 y=18 fill=#f0effd /><rect x=30 y=18 fill=#eeedfc /><rect x=31 y=18 fill=#ebebfc /><rect x=32 y=18 fill=#e9e9fc /><rect x=33 y=18 fill=#e7e7fb /><rect x=34 y=18 fill=#e5e5fb /><rect x=35 y=18 fill=#e4e3fb /><rect x=36 y=18 fill=#e2e2fa /><rect x=37 y=18 fill=#e1e0fa /><rect x=38 y=18 fill=#dfdffa /><rect x=39 y=18 fill=#dedefa /><rect x=40 y=18 fill=#dcdcf9 />
<rect x=0 y=19 fill=#ffe1b7 /><rect x=1 y=19 fill=#ffe2ba /><rect x=2 y=19 fill=#ffe4be /><rect x=3 y=19 fill=#ffe5c1 /><rect x=4 y=19 fill=#ffe7c4 /><rect x=5 y=19 fill=#ffe8c8 /><rect x=6 y=19 fill=#ffe9cb /><rect x=7 y=19 fill=#ffebce /><rect x=8 y=19 fill=#ffecd1 /><rect x=9 y=19 fill=#ffedd5 /><rect x=10 y=19 fill=#ffefd8 /><rect x=11 y=19 fill=#fff0db /><rect x=12 y=19 fill=#fff1de /><rect x=13 y=19 fill=#fff3e1 /><rect x=14 y=19 fill=#fff4e5 /><rect x=15 y=19 fill=#fff5e8 /><rect x=16 y=19 fill=#fff7eb /><rect x=17 y=19 fill=#fff8ee /><rect x=18 y=19 fill=#fff9f0 /><rect x=19 y=19 fill=#fffaf3 /><rect x=20 y=19 fill=#fffbf7 /><rect x=21 y=19 fill=#fffdf9 /><rect x=22 y=19 fill=#fffefb /><rect x=23 y=19 fill=#ffffff /><rect x=24 y=19 fill=#fdfdff /><rect x=25 y=19 fill=#fafafe /><rect x=26 y=19 fill=#f8f8fe /><rect x=27 y=19 fill=#f6f6fe /><rect x=28 y=19 fill=#f4f4fd /><rect x=29 y=19 fill=#f3f2fd /><rect x=30 y=19 fill=#f0f0fd /><rect x=31 y=19 fill=#eeeefc /><rect x=32 y=19 fill=#ecebfc /><rect x=33 y=19 fill=#eaeafc /><rect x=34 y=19 fill=#e8e8fb /><rect x=35 y=19 fill=#e7e6fb /><rect x=36 y=19 fill=#e5e5fb /><rect x=37 y=19 fill=#e4e4fb /><rect x=38 y=19 fill=#e3e2fa /><rect x=39 y=19 fill=#e1e1fa /><rect x=40 y=19 fill=#e0dffa />
<rect x=0 y=20 fill=#ffe1b7 /><rect x=1 y=20 fill=#ffe2ba /><rect x=2 y=20 fill=#ffe4bd /><rect x=3 y=20 fill=#ffe5c1 /><rect x=4 y=20 fill=#ffe6c4 /><rect x=5 y=20 fill=#ffe8c7 /><rect x=6 y=20 fill=#ffe9ca /><rect x=7 y=20 fill=#ffeacd /><rect x=8 y=20 fill=#ffecd0 /><rect x=9 y=20 fill=#ffedd3 /><rect x=10 y=20 fill=#ffeed6 /><rect x=11 y=20 fill=#ffefd9 /><rect x=12 y=20 fill=#fff1dc /><rect x=13 y=20 fill=#fff2df /><rect x=14 y=20 fill=#fff3e3 /><rect x=15 y=20 fill=#fff4e5 /><rect x=16 y=20 fill=#fff6e9 /><rect x=17 y=20 fill=#fff7eb /><rect x=18 y=20 fill=#fff8ee /><rect x=19 y=20 fill=#fff9f1 /><rect x=20 y=20 fill=#fffaf4 /><rect x=21 y=20 fill=#fffbf6 /><rect x=22 y=20 fill=#fffcf8 /><rect x=23 y=20 fill=#fffefb /><rect x=24 y=20 fill=#ffffff /><rect x=25 y=20 fill=#fdfdff /><rect x=26 y=20 fill=#fbfafe /><rect x=27 y=20 fill=#f9f8fe /><rect x=28 y=20 fill=#f7f7fe /><rect x=29 y=20 fill=#f5f5fd /><rect x=30 y=20 fill=#f3f3fd /><rect x=31 y=20 fill=#f1f1fd /><rect x=32 y=20 fill=#efeefc /><rect x=33 y=20 fill=#edecfc /><rect x=34 y=20 fill=#ebebfc /><rect x=35 y=20 fill=#eae9fc /><rect x=36 y=20 fill=#e9e8fb /><rect x=37 y=20 fill=#e7e7fb /><rect x=38 y=20 fill=#e6e5fb /><rect x=39 y=20 fill=#e4e4fb /><rect x=40 y=20 fill=#e3e2fb />
<rect x=0 y=21 fill=#ffe1b7 /><rect x=1 y=21 fill=#ffe2ba /><rect x=2 y=21 fill=#ffe4bd /><rect x=3 y=21 fill=#ffe5c0 /><rect x=4 y=21 fill=#ffe6c3 /><rect x=5 y=21 fill=#ffe7c6 /><rect x=6 y=21 fill=#ffe9c9 /><rect x=7 y=21 fill=#ffeacc /><rect x=8 y=21 fill=#ffebcf /><rect x=9 y=21 fill=#ffecd2 /><rect x=10 y=21 fill=#ffedd5 /><rect x=11 y=21 fill=#ffefd8 /><rect x=12 y=21 fill=#fff0da /><rect x=13 y=21 fill=#fff1de /><rect x=14 y=21 fill=#fff2e1 /><rect x=15 y=21 fill=#fff3e3 /><rect x=16 y=21 fill=#fff5e6 /><rect x=17 y=21 fill=#fff6e9 /><rect x=18 y=21 fill=#fff7eb /><rect x=19 y=21 fill=#fff8ee /><rect x=20 y=21 fill=#fff9f1 /><rect x=21 y=21 fill=#fffaf3 /><rect x=22 y=21 fill=#fffbf5 /><rect x=23 y=21 fill=#fffcf8 /><rect x=24 y=21 fill=#fffefc /><rect x=25 y=21 fill=#ffffff /><rect x=26 y=21 fill=#fdfdff /><rect x=27 y=21 fill=#fbfbfe /><rect x=28 y=21 fill=#faf9fe /><rect x=29 y=21 fill=#f8f8fe /><rect x=30 y=21 fill=#f6f6fe /><rect x=31 y=21 fill=#f4f3fd /><rect x=32 y=21 fill=#f2f1fd /><rect x=33 y=21 fill=#f0effd /><rect x=34 y=21 fill=#eeeefc /><rect x=35 y=21 fill=#ededfc /><rect x=36 y=21 fill=#ecebfc /><rect x=37 y=21 fill=#eaeafc /><rect x=38 y=21 fill=#e9e9fc /><rect x=39 y=21 fill=#e8e7fb /><rect x=40 y=21 fill=#e6e6fb />
<rect x=0 y=22 fill=#ffe1b7 /><rect x=1 y=22 fill=#ffe2ba /><rect x=2 y=22 fill=#ffe3bd /><rect x=3 y=22 fill=#ffe5c0 /><rect x=4 y=22 fill=#ffe6c3 /><rect x=5 y=22 fill=#ffe7c5 /><rect x=6 y=22 fill=#ffe8c8 /><rect x=7 y=22 fill=#ffe9cb /><rect x=8 y=22 fill=#ffeace /><rect x=9 y=22 fill=#ffecd1 /><rect x=10 y=22 fill=#ffedd3 /><rect x=11 y=22 fill=#ffeed6 /><rect x=12 y=22 fill=#ffefd9 /><rect x=13 y=22 fill=#fff0dc /><rect x=14 y=22 fill=#fff1df /><rect x=15 y=22 fill=#fff2e1 /><rect x=16 y=22 fill=#fff4e4 /><rect x=17 y=22 fill=#fff5e6 /><rect x=18 y=22 fill=#fff6e9 /><rect x=19 y=22 fill=#fff7eb /><rect x=20 y=22 fill=#fff8ee /><rect x=21 y=22 fill=#fff9f0 /><rect x=22 y=22 fill=#fffaf2 /><rect x=23 y=22 fill=#fffbf5 /><rect x=24 y=22 fill=#fffcf8 /><rect x=25 y=22 fill=#fffefb /><rect x=26 y=22 fill=#fffffe /><rect x=27 y=22 fill=#fefeff /><rect x=28 y=22 fill=#fcfcff /><rect x=29 y=22 fill=#fafafe /><rect x=30 y=22 fill=#f9f8fe /><rect x=31 y=22 fill=#f7f6fe /><rect x=32 y=22 fill=#f5f4fd /><rect x=33 y=22 fill=#f3f3fd /><rect x=34 y=22 fill=#f1f1fd /><rect x=35 y=22 fill=#f0f0fd /><rect x=36 y=22 fill=#efeefc /><rect x=37 y=22 fill=#eeedfc /><rect x=38 y=22 fill=#ececfc /><rect x=39 y=22 fill=#ebeafc /><rect x=40 y=22 fill=#eae9fc />
<rect x=0 y=23 fill=#ffe1b7 /><rect x=1 y=23 fill=#ffe2ba /><rect x=2 y=23 fill=#ffe3bc /><rect x=3 y=23 fill=#ffe4bf /><rect x=4 y=23 fill=#ffe6c2 /><rect x=5 y=23 fill=#ffe7c5 /><rect x=6 y=23 fill=#ffe8c7 /><rect x=7 y=23 fill=#ffe9ca /><rect x=8 y=23 fill=#ffeacd /><rect x=9 y=23 fill=#ffebcf /><rect x=10 y=23 fill=#ffecd2 /><rect x=11 y=23 fill=#ffedd4 /><rect x=12 y=23 fill=#ffeed7 /><rect x=13 y=23 fill=#ffefda /><rect x=14 y=23 fill=#fff1dc /><rect x=15 y=23 fill=#fff2df /><rect x=16 y=23 fill=#fff3e2 /><rect x=17 y=23 fill=#fff4e4 /><rect x=18 y=23 fill=#fff5e6 /><rect x=19 y=23 fill=#fff6e9 /><rect x=20 y=23 fill=#fff7eb /><rect x=21 y=23 fill=#fff8ed /><rect x=22 y=23 fill=#fff9ef /><rect x=23 y=23 fill=#fffaf2 /><rect x=24 y=23 fill=#fffbf5 /><rect x=25 y=23 fill=#fffcf8 /><rect x=26 y=23 fill=#fffdfb /><rect x=27 y=23 fill=#fffefd /><rect x=28 y=23 fill=#ffffff /><rect x=29 y=23 fill=#fdfdff /><rect x=30 y=23 fill=#fbfbfe /><rect x=31 y=23 fill=#f9f9fe /><rect x=32 y=23 fill=#f8f7fe /><rect x=33 y=23 fill=#f6f6fe /><rect x=34 y=23 fill=#f5f4fd /><rect x=35 y=23 fill=#f3f3fd /><rect x=36 y=23 fill=#f2f2fd /><rect x=37 y=23 fill=#f1f0fd /><rect x=38 y=23 fill=#f0effd /><rect x=39 y=23 fill=#eeeefc /><rect x=40 y=23 fill=#ededfc />
<rect x=0 y=24 fill=#ffe1b7 /><rect x=1 y=24 fill=#ffe2ba /><rect x=2 y=24 fill=#ffe3bc /><rect x=3 y=24 fill=#ffe4bf /><rect x=4 y=24 fill=#ffe5c1 /><rect x=5 y=24 fill=#ffe6c4 /><rect x=6 y=24 fill=#ffe7c6 /><rect x=7 y=24 fill=#ffe8c9 /><rect x=8 y=24 fill=#ffe9cb /><rect x=9 y=24 fill=#ffeace /><rect x=10 y=24 fill=#ffecd0 /><rect x=11 y=24 fill=#ffedd3 /><rect x=12 y=24 fill=#ffeed5 /><rect x=13 y=24 fill=#ffefd8 /><rect x=14 y=24 fill=#fff0da /><rect x=15 y=24 fill=#fff1dd /><rect x=16 y=24 fill=#fff2df /><rect x=17 y=24 fill=#fff3e1 /><rect x=18 y=24 fill=#fff4e4 /><rect x=19 y=24 fill=#fff5e6 /><rect x=20 y=24 fill=#fff6e8 /><rect x=21 y=24 fill=#fff6ea /><rect x=22 y=24 fill=#fff7ec /><rect x=23 y=24 fill=#fff8ef /><rect x=24 y=24 fill=#fff9f2 /><rect x=25 y=24 fill=#fffbf4 /><rect x=26 y=24 fill=#fffcf7 /><rect x=27 y=24 fill=#fffdf9 /><rect x=28 y=24 fill=#fffefb /><rect x=29 y=24 fill=#fffefe /><rect x=30 y=24 fill=#fefeff /><rect x=31 y=24 fill=#fcfcff /><rect x=32 y=24 fill=#fbfafe /><rect x=33 y=24 fill=#f9f9fe /><rect x=34 y=24 fill=#f8f7fe /><rect x=35 y=24 fill=#f6f6fe /><rect x=36 y=24 fill=#f5f5fd /><rect x=37 y=24 fill=#f4f4fd /><rect x=38 y=24 fill=#f3f3fd /><rect x=39 y=24 fill=#f2f1fd /><rect x=40 y=24 fill=#f1f0fd />
<rect x=0 y=25 fill=#ffe1b7 /><rect x=1 y=25 fill=#ffe2b9 /><rect x=2 y=25 fill=#ffe3bc /><rect x=3 y=25 fill=#ffe4be /><rect x=4 y=25 fill=#ffe5c1 /><rect x=5 y=25 fill=#ffe6c3 /><rect x=6 y=25 fill=#ffe7c5 /><rect x=7 y=25 fill=#ffe8c8 /><rect x=8 y=25 fill=#ffe9ca /><rect x=9 y=25 fill=#ffeacc /><rect x=10 y=25 fill=#ffebcf /><rect x=11 y=25 fill=#ffecd1 /><rect x=12 y=25 fill=#ffedd3 /><rect x=13 y=25 fill=#ffeed6 /><rect x=14 y=25 fill=#ffefd8 /><rect x=15 y=25 fill=#fff0da /><rect x=16 y=25 fill=#fff1dd /><rect x=17 y=25 fill=#fff2df /><rect x=18 y=25 fill=#fff2e1 /><rect x=19 y=25 fill=#fff3e3 /><rect x=20 y=25 fill=#fff4e6 /><rect x=21 y=25 fill=#fff5e7 /><rect x=22 y=25 fill=#fff6e9 /><rect x=23 y=25 fill=#fff7ec /><rect x=24 y=25 fill=#fff8ee /><rect x=25 y=25 fill=#fff9f1 /><rect x=26 y=25 fill=#fffaf3 /><rect x=27 y=25 fill=#fffbf6 /><rect x=28 y=25 fill=#fffcf8 /><rect x=29 y=25 fill=#fffdfa /><rect x=30 y=25 fill=#fffefc /><rect x=31 y=25 fill=#fffffe /><rect x=32 y=25 fill=#fefeff /><rect x=33 y=25 fill=#fcfcff /><rect x=34 y=25 fill=#fbfbfe /><rect x=35 y=25 fill=#fafafe /><rect x=36 y=25 fill=#f9f8fe /><rect x=37 y=25 fill=#f8f7fe /><rect x=38 y=25 fill=#f6f6fe /><rect x=39 y=25 fill=#f5f5fd /><rect x=40 y=25 fill=#f4f4fd />
<rect x=0 y=26 fill=#ffe1b7 /><rect x=1 y=26 fill=#ffe2b9 /><rect x=2 y=26 fill=#ffe3bc /><rect x=3 y=26 fill=#ffe4be /><rect x=4 y=26 fill=#ffe5c0 /><rect x=5 y=26 fill=#ffe6c2 /><rect x=6 y=26 fill=#ffe7c4 /><rect x=7 y=26 fill=#ffe8c7 /><rect x=8 y=26 fill=#ffe8c9 /><rect x=9 y=26 fill=#ffe9cb /><rect x=10 y=26 fill=#ffeacd /><rect x=11 y=26 fill=#ffebcf /><rect x=12 y=26 fill=#ffecd1 /><rect x=13 y=26 fill=#ffedd4 /><rect x=14 y=26 fill=#ffeed6 /><rect x=15 y=26 fill=#ffefd8 /><rect x=16 y=26 fill=#fff0da /><rect x=17 y=26 fill=#fff1dc /><rect x=18 y=26 fill=#fff1de /><rect x=19 y=26 fill=#fff2e0 /><rect x=20 y=26 fill=#fff3e3 /><rect x=21 y=26 fill=#fff4e4 /><rect x=22 y=26 fill=#fff5e6 /><rect x=23 y=26 fill=#fff6e8 /><rect x=24 y=26 fill=#fff7eb /><rect x=25 y=26 fill=#fff8ed /><rect x=26 y=26 fill=#fff9f0 /><rect x=27 y=26 fill=#fff9f2 /><rect x=28 y=26 fill=#fffaf4 /><rect x=29 y=26 fill=#fffbf6 /><rect x=30 y=26 fill=#fffcf8 /><rect x=31 y=26 fill=#fffdfa /><rect x=32 y=26 fill=#fffefc /><rect x=33 y=26 fill=#fffffe /><rect x=34 y=26 fill=#fefeff /><rect x=35 y=26 fill=#fdfdff /><rect x=36 y=26 fill=#fcfcff /><rect x=37 y=26 fill=#fbfbfe /><rect x=38 y=26 fill=#fafafe /><rect x=39 y=26 fill=#f9f9fe /><rect x=40 y=26 fill=#f8f7fe />
<rect x=0 y=27 fill=#ffe1b7 /><rect x=1 y=27 fill=#ffe2b9 /><rect x=2 y=27 fill=#ffe3bb /><rect x=3 y=27 fill=#ffe4bd /><rect x=4 y=27 fill=#ffe4bf /><rect x=5 y=27 fill=#ffe5c1 /><rect x=6 y=27 fill=#ffe6c4 /><rect x=7 y=27 fill=#ffe7c6 /><rect x=8 y=27 fill=#ffe8c8 /><rect x=9 y=27 fill=#ffe9ca /><rect x=10 y=27 fill=#ffeacc /><rect x=11 y=27 fill=#ffeace /><rect x=12 y=27 fill=#ffebd0 /><rect x=13 y=27 fill=#ffecd2 /><rect x=14 y=27 fill=#ffedd4 /><rect x=15 y=27 fill=#ffeed6 /><rect x=16 y=27 fill=#ffefd8 /><rect x=17 y=27 fill=#fff0da /><rect x=18 y=27 fill=#fff0dc /><rect x=19 y=27 fill=#fff1de /><rect x=20 y=27 fill=#fff2e0 /><rect x=21 y=27 fill=#fff3e1 /><rect x=22 y=27 fill=#fff3e3 /><rect x=23 y=27 fill=#fff4e5 /><rect x=24 y=27 fill=#fff5e7 /><rect x=25 y=27 fill=#fff6ea /><rect x=26 y=27 fill=#fff7ec /><rect x=27 y=27 fill=#fff8ee /><rect x=28 y=27 fill=#fff9f0 /><rect x=29 y=27 fill=#fff9f1 /><rect x=30 y=27 fill=#fffaf3 /><rect x=31 y=27 fill=#fffbf6 /><rect x=32 y=27 fill=#fffcf8 /><rect x=33 y=27 fill=#fffdfa /><rect x=34 y=27 fill=#fffefb /><rect x=35 y=27 fill=#fffefd /><rect x=36 y=27 fill=#fffffe /><rect x=37 y=27 fill=#fefeff /><rect x=38 y=27 fill=#fdfdff /><rect x=39 y=27 fill=#fcfcff /><rect x=40 y=27 fill=#fbfbfe />
<rect x=0 y=28 fill=#ffe1b7 /><rect x=1 y=28 fill=#ffe2b9 /><rect x=2 y=28 fill=#ffe3bb /><rect x=3 y=28 fill=#ffe3bd /><rect x=4 y=28 fill=#ffe4bf /><rect x=5 y=28 fill=#ffe5c1 /><rect x=6 y=28 fill=#ffe6c3 /><rect x=7 y=28 fill=#ffe7c4 /><rect x=8 y=28 fill=#ffe7c6 /><rect x=9 y=28 fill=#ffe8c8 /><rect x=10 y=28 fill=#ffe9ca /><rect x=11 y=28 fill=#ffeacc /><rect x=12 y=28 fill=#ffeace /><rect x=13 y=28 fill=#ffebd0 /><rect x=14 y=28 fill=#ffecd2 /><rect x=15 y=28 fill=#ffedd4 /><rect x=16 y=28 fill=#ffeed6 /><rect x=17 y=28 fill=#ffeed7 /><rect x=18 y=28 fill=#ffefd9 /><rect x=19 y=28 fill=#fff0db /><rect x=20 y=28 fill=#fff1dd /><rect x=21 y=28 fill=#fff1de /><rect x=22 y=28 fill=#fff2e0 /><rect x=23 y=28 fill=#fff3e2 /><rect x=24 y=28 fill=#fff4e4 /><rect x=25 y=28 fill=#fff5e6 /><rect x=26 y=28 fill=#fff5e8 /><rect x=27 y=28 fill=#fff6ea /><rect x=28 y=28 fill=#fff7ec /><rect x=29 y=28 fill=#fff8ed /><rect x=30 y=28 fill=#fff8ef /><rect x=31 y=28 fill=#fff9f1 /><rect x=32 y=28 fill=#fffaf3 /><rect x=33 y=28 fill=#fffbf5 /><rect x=34 y=28 fill=#fffcf7 /><rect x=35 y=28 fill=#fffcf8 /><rect x=36 y=28 fill=#fffdf9 /><rect x=37 y=28 fill=#fffdfb /><rect x=38 y=28 fill=#fffefc /><rect x=39 y=28 fill=#fffefe /><rect x=40 y=28 fill=#ffffff />
<rect x=0 y=29 fill=#ffe1b7 /><rect x=1 y=29 fill=#ffe2b9 /><rect x=2 y=29 fill=#ffe2bb /><rect x=3 y=29 fill=#ffe3bc /><rect x=4 y=29 fill=#ffe4be /><rect x=5 y=29 fill=#ffe5c0 /><rect x=6 y=29 fill=#ffe5c2 /><rect x=7 y=29 fill=#ffe6c3 /><rect x=8 y=29 fill=#ffe7c5 /><rect x=9 y=29 fill=#ffe8c7 /><rect x=10 y=29 fill=#ffe8c9 /><rect x=11 y=29 fill=#ffe9ca /><rect x=12 y=29 fill=#ffeacc /><rect x=13 y=29 fill=#ffebce /><rect x=14 y=29 fill=#ffebd0 /><rect x=15 y=29 fill=#ffecd1 /><rect x=16 y=29 fill=#ffedd3 /><rect x=17 y=29 fill=#ffedd5 /><rect x=18 y=29 fill=#ffeed6 /><rect x=19 y=29 fill=#ffefd8 /><rect x=20 y=29 fill=#ffefda /><rect x=21 y=29 fill=#fff0db /><rect x=22 y=29 fill=#fff1dc /><rect x=23 y=29 fill=#fff1de /><rect x=24 y=29 fill=#fff2e0 /><rect x=25 y=29 fill=#fff3e2 /><rect x=26 y=29 fill=#fff4e4 /><rect x=27 y=29 fill=#fff5e6 /><rect x=28 y=29 fill=#fff5e7 /><rect x=29 y=29 fill=#fff6e9 /><rect x=30 y=29 fill=#fff7eb /><rect x=31 y=29 fill=#fff7ed /><rect x=32 y=29 fill=#fff8ef /><rect x=33 y=29 fill=#fff9f0 /><rect x=34 y=29 fill=#fff9f2 /><rect x=35 y=29 fill=#fffaf3 /><rect x=36 y=29 fill=#fffbf4 /><rect x=37 y=29 fill=#fffbf6 /><rect x=38 y=29 fill=#fffcf7 /><rect x=39 y=29 fill=#fffcf8 /><rect x=40 y=29 fill=#fffdf9 />
<rect x=0 y=30 fill=#ffe1b7 /><rect x=1 y=30 fill=#ffe2b9 /><rect x=2 y=30 fill=#ffe2ba /><rect x=3 y=30 fill=#ffe3bc /><rect x=4 y=30 fill=#ffe4bd /><rect x=5 y=30 fill=#ffe4bf /><rect x=6 y=30 fill=#ffe5c1 /><rect x=7 y=30 fill=#ffe6c2 /><rect x=8 y=30 fill=#ffe6c4 /><rect x=9 y=30 fill=#ffe7c5 /><rect x=10 y=30 fill=#ffe8c7 /><rect x=11 y=30 fill=#ffe8c9 /><rect x=12 y=30 fill=#ffe9ca /><rect x=13 y=30 fill=#ffeacc /><rect x=14 y=30 fill=#ffeacd /><rect x=15 y=30 fill=#ffebcf /><rect x=16 y=30 fill=#ffecd1 /><rect x=17 y=30 fill=#ffecd2 /><rect x=18 y=30 fill=#ffedd3 /><rect x=19 y=30 fill=#ffedd5 /><rect x=20 y=30 fill=#ffeed7 /><rect x=21 y=30 fill=#ffefd8 /><rect x=22 y=30 fill=#ffefd9 /><rect x=23 y=30 fill=#fff0db /><rect x=24 y=30 fill=#fff1dd /><rect x=25 y=30 fill=#fff2df /><rect x=26 y=30 fill=#fff2e0 /><rect x=27 y=30 fill=#fff3e2 /><rect x=28 y=30 fill=#fff3e3 /><rect x=29 y=30 fill=#fff4e5 /><rect x=30 y=30 fill=#fff5e6 /><rect x=31 y=30 fill=#fff6e8 /><rect x=32 y=30 fill=#fff6ea /><rect x=33 y=30 fill=#fff7ec /><rect x=34 y=30 fill=#fff7ed /><rect x=35 y=30 fill=#fff8ee /><rect x=36 y=30 fill=#fff8ef /><rect x=37 y=30 fill=#fff9f0 /><rect x=38 y=30 fill=#fff9f1 /><rect x=39 y=30 fill=#fffaf3 /><rect x=40 y=30 fill=#fffaf4 />
<rect x=0 y=31 fill=#ffe1b7 /><rect x=1 y=31 fill=#ffe2b8 /><rect x=2 y=31 fill=#ffe2ba /><rect x=3 y=31 fill=#ffe3bb /><rect x=4 y=31 fill=#ffe3bd /><rect x=5 y=31 fill=#ffe4be /><rect x=6 y=31 fill=#ffe5c0 /><rect x=7 y=31 fill=#ffe5c1 /><rect x=8 y=31 fill=#ffe6c3 /><rect x=9 y=31 fill=#ffe6c4 /><rect x=10 y=31 fill=#ffe7c5 /><rect x=11 y=31 fill=#ffe8c7 /><rect x=12 y=31 fill=#ffe8c8 /><rect x=13 y=31 fill=#ffe9ca /><rect x=14 y=31 fill=#ffe9cb /><rect x=15 y=31 fill=#ffeacd /><rect x=16 y=31 fill=#ffebce /><rect x=17 y=31 fill=#ffebcf /><rect x=18 y=31 fill=#ffecd1 /><rect x=19 y=31 fill=#ffecd2 /><rect x=20 y=31 fill=#ffedd4 /><rect x=21 y=31 fill=#ffedd5 /><rect x=22 y=31 fill=#ffeed6 /><rect x=23 y=31 fill=#ffefd7 /><rect x=24 y=31 fill=#ffefd9 /><rect x=25 y=31 fill=#fff0db /><rect x=26 y=31 fill=#fff1dc /><rect x=27 y=31 fill=#fff1de /><rect x=28 y=31 fill=#fff2df /><rect x=29 y=31 fill=#fff2e0 /><rect x=30 y=31 fill=#fff3e2 /><rect x=31 y=31 fill=#fff4e4 /><rect x=32 y=31 fill=#fff4e5 /><rect x=33 y=31 fill=#fff5e7 /><rect x=34 y=31 fill=#fff5e8 /><rect x=35 y=31 fill=#fff6e9 /><rect x=36 y=31 fill=#fff6ea /><rect x=37 y=31 fill=#fff7eb /><rect x=38 y=31 fill=#fff7ec /><rect x=39 y=31 fill=#fff8ed /><rect x=40 y=31 fill=#fff8ee />
<rect x=0 y=32 fill=#ffe1b7 /><rect x=1 y=32 fill=#ffe2b8 /><rect x=2 y=32 fill=#ffe2ba /><rect x=3 y=32 fill=#ffe3bb /><rect x=4 y=32 fill=#ffe3bc /><rect x=5 y=32 fill=#ffe4bd /><rect x=6 y=32 fill=#ffe4bf /><rect x=7 y=32 fill=#ffe5c0 /><rect x=8 y=32 fill=#ffe5c1 /><rect x=9 y=32 fill=#ffe6c3 /><rect x=10 y=32 fill=#ffe6c4 /><rect x=11 y=32 fill=#ffe7c5 /><rect x=12 y=32 fill=#ffe7c6 /><rect x=13 y=32 fill=#ffe8c8 /><rect x=14 y=32 fill=#ffe9c9 /><rect x=15 y=32 fill=#ffe9ca /><rect x=16 y=32 fill=#ffeacc /><rect x=17 y=32 fill=#ffeacd /><rect x=18 y=32 fill=#ffebce /><rect x=19 y=32 fill=#ffebcf /><rect x=20 y=32 fill=#ffecd1 /><rect x=21 y=32 fill=#ffecd2 /><rect x=22 y=32 fill=#ffedd3 /><rect x=23 y=32 fill=#ffedd4 /><rect x=24 y=32 fill=#ffeed6 /><rect x=25 y=32 fill=#ffeed7 /><rect x=26 y=32 fill=#ffefd8 /><rect x=27 y=32 fill=#ffefda /><rect x=28 y=32 fill=#fff0db /><rect x=29 y=32 fill=#fff0dc /><rect x=30 y=32 fill=#fff1dd /><rect x=31 y=32 fill=#fff2df /><rect x=32 y=32 fill=#fff2e0 /><rect x=33 y=32 fill=#fff3e2 /><rect x=34 y=32 fill=#fff3e3 /><rect x=35 y=32 fill=#fff4e4 /><rect x=36 y=32 fill=#fff4e5 /><rect x=37 y=32 fill=#fff4e6 /><rect x=38 y=32 fill=#fff5e7 /><rect x=39 y=32 fill=#fff5e8 /><rect x=40 y=32 fill=#fff6e9 />
<rect x=0 y=33 fill=#ffe1b7 /><rect x=1 y=33 fill=#ffe1b8 /><rect x=2 y=33 fill=#ffe2b9 /><rect x=3 y=33 fill=#ffe2ba /><rect x=4 y=33 fill=#ffe3bc /><rect x=5 y=33 fill=#ffe3bd /><rect x=6 y=33 fill=#ffe4be /><rect x=7 y=33 fill=#ffe4bf /><rect x=8 y=33 fill=#ffe5c0 /><rect x=9 y=33 fill=#ffe5c1 /><rect x=10 y=33 fill=#ffe6c2 /><rect x=11 y=33 fill=#ffe6c3 /><rect x=12 y=33 fill=#ffe7c4 /><rect x=13 y=33 fill=#ffe7c6 /><rect x=14 y=33 fill=#ffe8c7 /><rect x=15 y=33 fill=#ffe8c8 /><rect x=16 y=33 fill=#ffe9c9 /><rect x=17 y=33 fill=#ffe9ca /><rect x=18 y=33 fill=#ffe9cb /><rect x=19 y=33 fill=#ffeacc /><rect x=20 y=33 fill=#ffeacd /><rect x=21 y=33 fill=#ffebce /><rect x=22 y=33 fill=#ffebcf /><rect x=23 y=33 fill=#ffecd0 /><rect x=24 y=33 fill=#ffecd2 /><rect x=25 y=33 fill=#ffedd3 /><rect x=26 y=33 fill=#ffedd4 /><rect x=27 y=33 fill=#ffeed6 /><rect x=28 y=33 fill=#ffeed7 /><rect x=29 y=33 fill=#ffefd8 /><rect x=30 y=33 fill=#ffefd9 /><rect x=31 y=33 fill=#fff0da /><rect x=32 y=33 fill=#fff0db /><rect x=33 y=33 fill=#fff1dd /><rect x=34 y=33 fill=#fff1de /><rect x=35 y=33 fill=#fff1de /><rect x=36 y=33 fill=#fff2df /><rect x=37 y=33 fill=#fff2e0 /><rect x=38 y=33 fill=#fff2e1 /><rect x=39 y=33 fill=#fff3e2 /><rect x=40 y=33 fill=#fff3e3 />
<rect x=0 y=34 fill=#ffe1b7 /><rect x=1 y=34 fill=#ffe1b8 /><rect x=2 y=34 fill=#ffe2b9 /><rect x=3 y=34 fill=#ffe2ba /><rect x=4 y=34 fill=#ffe3bb /><rect x=5 y=34 fill=#ffe3bc /><rect x=6 y=34 fill=#ffe3bd /><rect x=7 y=34 fill=#ffe4be /><rect x=8 y=34 fill=#ffe4bf /><rect x=9 y=34 fill=#ffe5c0 /><rect x=10 y=34 fill=#ffe5c1 /><rect x=11 y=34 fill=#ffe5c2 /><rect x=12 y=34 fill=#ffe6c3 /><rect x=13 y=34 fill=#ffe6c4 /><rect x=14 y=34 fill=#ffe7c5 /><rect x=15 y=34 fill=#ffe7c6 /><rect x=16 y=34 fill=#ffe8c7 /><rect x=17 y=34 fill=#ffe8c7 /><rect x=18 y=34 fill=#ffe8c8 /><rect x=19 y=34 fill=#ffe9c9 /><rect x=20 y=34 fill=#ffe9ca /><rect x=21 y=34 fill=#ffe9cb /><rect x=22 y=34 fill=#ffeacc /><rect x=23 y=34 fill=#ffeacd /><rect x=24 y=34 fill=#ffebce /><rect x=25 y=34 fill=#ffebcf /><rect x=26 y=34 fill=#ffecd0 /><rect x=27 y=34 fill=#ffecd1 /><rect x=28 y=34 fill=#ffecd2 /><rect x=29 y=34 fill=#ffedd3 /><rect x=30 y=34 fill=#ffedd4 /><rect x=31 y=34 fill=#ffeed5 /><rect x=32 y=34 fill=#ffeed6 /><rect x=33 y=34 fill=#ffefd7 /><rect x=34 y=34 fill=#ffefd8 /><rect x=35 y=34 fill=#ffefd9 /><rect x=36 y=34 fill=#ffefda /><rect x=37 y=34 fill=#fff0db /><rect x=38 y=34 fill=#fff0db /><rect x=39 y=34 fill=#fff0dc /><rect x=40 y=34 fill=#fff1dd />
<rect x=0 y=35 fill=#ffe1b7 /><rect x=1 y=35 fill=#ffe1b8 /><rect x=2 y=35 fill=#ffe2b9 /><rect x=3 y=35 fill=#ffe2b9 /><rect x=4 y=35 fill=#ffe2ba /><rect x=5 y=35 fill=#ffe3bb /><rect x=6 y=35 fill=#ffe3bc /><rect x=7 y=35 fill=#ffe3bd /><rect x=8 y=35 fill=#ffe4bd /><rect x=9 y=35 fill=#ffe4be /><rect x=10 y=35 fill=#ffe4bf /><rect x=11 y=35 fill=#ffe5c0 /><rect x=12 y=35 fill=#ffe5c1 /><rect x=13 y=35 fill=#ffe5c2 /><rect x=14 y=35 fill=#ffe6c2 /><rect x=15 y=35 fill=#ffe6c3 /><rect x=16 y=35 fill=#ffe6c4 /><rect x=17 y=35 fill=#ffe7c5 /><rect x=18 y=35 fill=#ffe7c5 /><rect x=19 y=35 fill=#ffe7c6 /><rect x=20 y=35 fill=#ffe8c7 /><rect x=21 y=35 fill=#ffe8c8 /><rect x=22 y=35 fill=#ffe8c9 /><rect x=23 y=35 fill=#ffe9c9 /><rect x=24 y=35 fill=#ffe9ca /><rect x=25 y=35 fill=#ffe9cb /><rect x=26 y=35 fill=#ffeacc /><rect x=27 y=35 fill=#ffeacd /><rect x=28 y=35 fill=#ffebce /><rect x=29 y=35 fill=#ffebcf /><rect x=30 y=35 fill=#ffebcf /><rect x=31 y=35 fill=#ffecd0 /><rect x=32 y=35 fill=#ffecd1 /><rect x=33 y=35 fill=#ffecd2 /><rect x=34 y=35 fill=#ffedd3 /><rect x=35 y=35 fill=#ffedd4 /><rect x=36 y=35 fill=#ffedd4 /><rect x=37 y=35 fill=#ffedd5 /><rect x=38 y=35 fill=#ffeed5 /><rect x=39 y=35 fill=#ffeed6 /><rect x=40 y=35 fill=#ffeed7 />
<rect x=0 y=36 fill=#ffe1b7 /><rect x=1 y=36 fill=#ffe1b8 /><rect x=2 y=36 fill=#ffe2b8 /><rect x=3 y=36 fill=#ffe2b9 /><rect x=4 y=36 fill=#ffe2ba /><rect x=5 y=36 fill=#ffe2ba /><rect x=6 y=36 fill=#ffe3bb /><rect x=7 y=36 fill=#ffe3bc /><rect x=8 y=36 fill=#ffe3bc /><rect x=9 y=36 fill=#ffe3bd /><rect x=10 y=36 fill=#ffe4bd /><rect x=11 y=36 fill=#ffe4be /><rect x=12 y=36 fill=#ffe4bf /><rect x=13 y=36 fill=#ffe5bf /><rect x=14 y=36 fill=#ffe5c0 /><rect x=15 y=36 fill=#ffe5c1 /><rect x=16 y=36 fill=#ffe5c1 /><rect x=17 y=36 fill=#ffe6c2 /><rect x=18 y=36 fill=#ffe6c3 /><rect x=19 y=36 fill=#ffe6c3 /><rect x=20 y=36 fill=#ffe6c4 /><rect x=21 y=36 fill=#ffe7c5 /><rect x=22 y=36 fill=#ffe7c5 /><rect x=23 y=36 fill=#ffe7c6 /><rect x=24 y=36 fill=#ffe7c7 /><rect x=25 y=36 fill=#ffe8c7 /><rect x=26 y=36 fill=#ffe8c8 /><rect x=27 y=36 fill=#ffe8c9 /><rect x=28 y=36 fill=#ffe9c9 /><rect x=29 y=36 fill=#ffe9ca /><rect x=30 y=36 fill=#ffe9cb /><rect x=31 y=36 fill=#ffeacb /><rect x=32 y=36 fill=#ffeacc /><rect x=33 y=36 fill=#ffeacd /><rect x=34 y=36 fill=#ffeacd /><rect x=35 y=36 fill=#ffebce /><rect x=36 y=36 fill=#ffebcf /><rect x=37 y=36 fill=#ffebcf /><rect x=38 y=36 fill=#ffebd0 /><rect x=39 y=36 fill=#ffebd0 /><rect x=40 y=36 fill=#ffecd1 />
<rect x=0 y=37 fill=#ffe1b7 /><rect x=1 y=37 fill=#ffe1b7 /><rect x=2 y=37 fill=#ffe1b8 /><rect x=3 y=37 fill=#ffe2b8 /><rect x=4 y=37 fill=#ffe2b9 /><rect x=5 y=37 fill=#ffe2b9 /><rect x=6 y=37 fill=#ffe2ba /><rect x=7 y=37 fill=#ffe2ba /><rect x=8 y=37 fill=#ffe3bb /><rect x=9 y=37 fill=#ffe3bb /><rect x=10 y=37 fill=#ffe3bc /><rect x=11 y=37 fill=#ffe3bc /><rect x=12 y=37 fill=#ffe3bd /><rect x=13 y=37 fill=#ffe4bd /><rect x=14 y=37 fill=#ffe4be /><rect x=15 y=37 fill=#ffe4be /><rect x=16 y=37 fill=#ffe4bf /><rect x=17 y=37 fill=#ffe4bf /><rect x=18 y=37 fill=#ffe5c0 /><rect x=19 y=37 fill=#ffe5c0 /><rect x=20 y=37 fill=#ffe5c1 /><rect x=21 y=37 fill=#ffe5c1 /><rect x=22 y=37 fill=#ffe5c2 /><rect x=23 y=37 fill=#ffe6c2 /><rect x=24 y=37 fill=#ffe6c3 /><rect x=25 y=37 fill=#ffe6c3 /><rect x=26 y=37 fill=#ffe6c4 /><rect x=27 y=37 fill=#ffe7c4 /><rect x=28 y=37 fill=#ffe7c5 /><rect x=29 y=37 fill=#ffe7c5 /><rect x=30 y=37 fill=#ffe7c6 /><rect x=31 y=37 fill=#ffe7c6 /><rect x=32 y=37 fill=#ffe8c7 /><rect x=33 y=37 fill=#ffe8c8 /><rect x=34 y=37 fill=#ffe8c8 /><rect x=35 y=37 fill=#ffe8c8 /><rect x=36 y=37 fill=#ffe8c9 /><rect x=37 y=37 fill=#ffe9c9 /><rect x=38 y=37 fill=#ffe9ca /><rect x=39 y=37 fill=#ffe9ca /><rect x=40 y=37 fill=#ffe9ca />
<rect x=0 y=38 fill=#ffe1b7 /><rect x=1 y=38 fill=#ffe1b7 /><rect x=2 y=38 fill=#ffe1b8 /><rect x=3 y=38 fill=#ffe1b8 /><rect x=4 y=38 fill=#ffe2b8 /><rect x=5 y=38 fill=#ffe2b9 /><rect x=6 y=38 fill=#ffe2b9 /><rect x=7 y=38 fill=#ffe2b9 /><rect x=8 y=38 fill=#ffe2ba /><rect x=9 y=38 fill=#ffe2ba /><rect x=10 y=38 fill=#ffe2ba /><rect x=11 y=38 fill=#ffe2bb /><rect x=12 y=38 fill=#ffe3bb /><rect x=13 y=38 fill=#ffe3bb /><rect x=14 y=38 fill=#ffe3bc /><rect x=15 y=38 fill=#ffe3bc /><rect x=16 y=38 fill=#ffe3bc /><rect x=17 y=38 fill=#ffe3bd /><rect x=18 y=38 fill=#ffe3bd /><rect x=19 y=38 fill=#ffe4bd /><rect x=20 y=38 fill=#ffe4be /><rect x=21 y=38 fill=#ffe4be /><rect x=22 y=38 fill=#ffe4be /><rect x=23 y=38 fill=#ffe4be /><rect x=24 y=38 fill=#ffe4bf /><rect x=25 y=38 fill=#ffe4bf /><rect x=26 y=38 fill=#ffe5c0 /><rect x=27 y=38 fill=#ffe5c0 /><rect x=28 y=38 fill=#ffe5c0 /><rect x=29 y=38 fill=#ffe5c1 /><rect x=30 y=38 fill=#ffe5c1 /><rect x=31 y=38 fill=#ffe5c1 /><rect x=32 y=38 fill=#ffe5c2 /><rect x=33 y=38 fill=#ffe6c2 /><rect x=34 y=38 fill=#ffe6c2 /><rect x=35 y=38 fill=#ffe6c3 /><rect x=36 y=38 fill=#ffe6c3 /><rect x=37 y=38 fill=#ffe6c3 /><rect x=38 y=38 fill=#ffe6c3 /><rect x=39 y=38 fill=#ffe6c4 /><rect x=40 y=38 fill=#ffe6c4 />
<rect x=0 y=39 fill=#ffe1b7 /><rect x=1 y=39 fill=#ffe1b7 /><rect x=2 y=39 fill=#ffe1b7 /><rect x=3 y=39 fill=#ffe1b7 /><rect x=4 y=39 fill=#ffe1b8 /><rect x=5 y=39 fill=#ffe1b8 /><rect x=6 y=39 fill=#ffe1b8 /><rect x=7 y=39 fill=#ffe1b8 /><rect x=8 y=39 fill=#ffe2b8 /><rect x=9 y=39 fill=#ffe2b8 /><rect x=10 y=39 fill=#ffe2b9 /><rect x=11 y=39 fill=#ffe2b9 /><rect x=12 y=39 fill=#ffe2b9 /><rect x=13 y=39 fill=#ffe2b9 /><rect x=14 y=39 fill=#ffe2b9 /><rect x=15 y=39 fill=#ffe2b9 /><rect x=16 y=39 fill=#ffe2ba /><rect x=17 y=39 fill=#ffe2ba /><rect x=18 y=39 fill=#ffe2ba /><rect x=19 y=39 fill=#ffe2ba /><rect x=20 y=39 fill=#ffe2ba /><rect x=21 y=39 fill=#ffe2ba /><rect x=22 y=39 fill=#ffe2bb /><rect x=23 y=39 fill=#ffe3bb /><rect x=24 y=39 fill=#ffe3bb /><rect x=25 y=39 fill=#ffe3bb /><rect x=26 y=39 fill=#ffe3bb /><rect x=27 y=39 fill=#ffe3bc /><rect x=28 y=39 fill=#ffe3bc /><rect x=29 y=39 fill=#ffe3bc /><rect x=30 y=39 fill=#ffe3bc /><rect x=31 y=39 fill=#ffe3bc /><rect x=32 y=39 fill=#ffe3bc /><rect x=33 y=39 fill=#ffe3bd /><rect x=34 y=39 fill=#ffe3bd /><rect x=35 y=39 fill=#ffe3bd /><rect x=36 y=39 fill=#ffe4bd /><rect x=37 y=39 fill=#ffe4bd /><rect x=38 y=39 fill=#ffe4bd /><rect x=39 y=39 fill=#ffe4bd /><rect x=40 y=39 fill=#ffe4be />
<rect x=0 y=40 fill=#ffe1b7 /><rect x=1 y=40 fill=#ffe1b7 /><rect x=2 y=40 fill=#ffe1b7 /><rect x=3 y=40 fill=#ffe1b7 /><rect x=4 y=40 fill=#ffe1b7 /><rect x=5 y=40 fill=#ffe1b7 /><rect x=6 y=40 fill=#ffe1b7 /><rect x=7 y=40 fill=#ffe1b7 /><rect x=8 y=40 fill=#ffe1b7 /><rect x=9 y=40 fill=#ffe1b7 /><rect x=10 y=40 fill=#ffe1b7 /><rect x=11 y=40 fill=#ffe1b7 /><rect x=12 y=40 fill=#ffe1b7 /><rect x=13 y=40 fill=#ffe1b7 /><rect x=14 y=40 fill=#ffe1b7 /><rect x=15 y=40 fill=#ffe1b7 /><rect x=16 y=40 fill=#ffe1b7 /><rect x=17 y=40 fill=#ffe1b7 /><rect x=18 y=40 fill=#ffe1b7 /><rect x=19 y=40 fill=#ffe1b7 /><rect x=20 y=40 fill=#ffe1b7 /><rect x=21 y=40 fill=#ffe1b7 /><rect x=22 y=40 fill=#ffe1b7 /><rect x=23 y=40 fill=#ffe1b7 /><rect x=24 y=40 fill=#ffe1b7 /><rect x=25 y=40 fill=#ffe1b7 /><rect x=26 y=40 fill=#ffe1b7 /><rect x=27 y=40 fill=#ffe1b7 /><rect x=28 y=40 fill=#ffe1b7 /><rect x=29 y=40 fill=#ffe1b7 /><rect x=30 y=40 fill=#ffe1b7 /><rect x=31 y=40 fill=#ffe1b7 /><rect x=32 y=40 fill=#ffe1b7 /><rect x=33 y=40 fill=#ffe1b7 /><rect x=34 y=40 fill=#ffe1b7 /><rect x=35 y=40 fill=#ffe1b7 /><rect x=36 y=40 fill=#ffe1b7 /><rect x=37 y=40 fill=#ffe1b7 /><rect x=38 y=40 fill=#ffe1b7 /><rect x=39 y=40 fill=#ffe1b7 /><rect x=40 y=40 fill=#ffe1b7 />
</svg>
<path class="cl" d="M122.4 319.3 C122.7 320.2 123.3 322.9 123.9 324.7 C124.5 326.5 125.1 328.1 125.9 330.0 C126.7 331.9 127.8 333.9 128.6 335.9 C129.4 337.9 130.1 339.7 131.0 341.9 C131.9 344.1 132.9 346.8 134.0 349.0 C135.1 351.2 136.3 352.9 137.5 354.9 C138.7 356.9 140.0 358.9 141.1 360.9 C142.2 362.9 143.1 364.9 144.1 366.8 C145.1 368.7 145.9 370.4 147.0 372.1 C148.1 373.9 149.3 375.3 150.9 377.3 C152.5 379.3 154.6 381.6 156.7 384.0 C158.8 386.4 161.5 389.4 163.6 391.9 C165.7 394.3 167.2 396.7 169.0 398.7 C170.8 400.7 171.7 401.5 174.4 403.7 C177.1 405.9 181.9 408.8 185.3 411.6 C188.7 414.4 191.3 417.5 194.7 420.4 C198.1 423.3 202.2 426.8 205.6 429.2 C209.0 431.6 211.0 432.6 215.1 434.7 C219.2 436.8 225.6 439.5 229.9 441.6 C234.2 443.7 237.8 445.7 241.1 447.3 C244.4 448.9 246.5 449.9 249.8 451.1 C253.1 452.3 257.0 453.3 260.9 454.4 C264.8 455.5 269.0 456.5 273.4 457.5 C277.8 458.5 285.0 460.1 287.3 460.6 M292.1 461.7 L295.9 462.5"/>
<text class="c0" text-anchor="middle" transform="translate(289.7 461.2) rotate(12.5)" y="2.85">0</text>
<text class="ti" x="30.6" y="299.1"><tspan font-weight="bold">c)</tspan> India</text>
<text class="tk" text-anchor="end" x="26.3" y="322.8">1.5</text>
<text class="tk" text-anchor="end" x="26.3" y="363.6">1.4</text>
<text class="tk" text-anchor="end" x="26.3" y="404.6">1.3</text>
<text class="tk" text-anchor="end" x="26.3" y="445.4">1.2</text>
<text class="tk" text-anchor="end" x="26.3" y="486.4">1.1</text>
<text class="tk" text-anchor="end" x="26.3" y="527.2">1.0</text>
<text class="tk" text-anchor="middle" x="46.2" y="547">0</text>
<text class="tk" text-anchor="middle" x="108.7" y="547">1</text>
<text class="tk" text-anchor="middle" x="171.1" y="547">2</text>
<text class="tk" text-anchor="middle" x="233.5" y="547">3</text>
<text class="tk" text-anchor="middle" x="296" y="547">4</text>
<svg class="t" x="349.35" y="316.8" width="256.0" height="210.0" viewBox="0 0 41 41" preserveAspectRatio="none" shape-rendering="crispEdges">
<rect x=0 y=0 fill=#ffdaa5 /><rect x=1 y=0 fill=#ffdcab /><rect x=2 y=0 fill=#ffdfb1 /><rect x=3 y=0 fill=#ffe1b8 /><rect x=4 y=0 fill=#ffe4bf /><rect x=5 y=0 fill=#ffe7c5 /><rect x=6 y=0 fill=#ffeacc /><rect x=7 y=0 fill=#ffedd3 /><rect x=8 y=0 fill=#fff0da /><rect x=9 y=0 fill=#fff2e1 /><rect x=10 y=0 fill=#fff5e7 /><rect x=11 y=0 fill=#fff8ee /><rect x=12 y=0 fill=#fffbf5 /><rect x=13 y=0 fill=#fffdfb /><rect x=14 y=0 fill=#fcfcff /><rect x=15 y=0 fill=#f8f8fe /><rect x=16 y=0 fill=#f3f3fd /><rect x=17 y=0 fill=#efeefc /><rect x=18 y=0 fill=#eae9fc /><rect x=19 y=0 fill=#e6e5fb /><rect x=20 y=0 fill=#e2e1fa /><rect x=21 y=0 fill=#dddcfa /><rect x=22 y=0 fill=#d9d9f9 /><rect x=23 y=0 fill=#d6d6f8 /><rect x=24 y=0 fill=#d1d1f8 /><rect x=25 y=0 fill=#cdcdf7 /><rect x=26 y=0 fill=#c8c8f6 /><rect x=27 y=0 fill=#c4c4f5 /><rect x=28 y=0 fill=#c0c1f5 /><rect x=29 y=0 fill=#bcbef4 /><rect x=30 y=0 fill=#b9baf3 /><rect x=31 y=0 fill=#b4b6f3 /><rect x=32 y=0 fill=#b0b3f2 /><rect x=33 y=0 fill=#acaff1 /><rect x=34 y=0 fill=#a9adf1 /><rect x=35 y=0 fill=#a6aaf0 /><rect x=36 y=0 fill=#a3a8f0 /><rect x=37 y=0 fill=#a1a6ef /><rect x=38 y=0 fill=#9ea3ef /><rect x=39 y=0 fill=#9ba1ee /><rect x=40 y=0 fill=#989fee />
<rect x=0 y=1 fill=#ffdaa5 /><rect x=1 y=1 fill=#ffdcab /><rect x=2 y=1 fill=#ffdeb1 /><rect x=3 y=1 fill=#ffe1b7 /><rect x=4 y=1 fill=#ffe4be /><rect x=5 y=1 fill=#ffe7c5 /><rect x=6 y=1 fill=#ffe9cb /><rect x=7 y=1 fill=#ffecd2 /><rect x=8 y=1 fill=#ffefd9 /><rect x=9 y=1 fill=#fff2df /><rect x=10 y=1 fill=#fff5e6 /><rect x=11 y=1 fill=#fff7ec /><rect x=12 y=1 fill=#fffaf3 /><rect x=13 y=1 fill=#fffdf9 /><rect x=14 y=1 fill=#fefeff /><rect x=15 y=1 fill=#f9f9fe /><rect x=16 y=1 fill=#f5f5fd /><rect x=17 y=1 fill=#f0f0fd /><rect x=18 y=1 fill=#ecebfc /><rect x=19 y=1 fill=#e8e7fb /><rect x=20 y=1 fill=#e3e3fb /><rect x=21 y=1 fill=#dfdefa /><rect x=22 y=1 fill=#dbdbf9 /><rect x=23 y=1 fill=#d8d8f9 /><rect x=24 y=1 fill=#d4d3f8 /><rect x=25 y=1 fill=#cfcff7 /><rect x=26 y=1 fill=#cacaf6 /><rect x=27 y=1 fill=#c6c7f6 /><rect x=28 y=1 fill=#c2c3f5 /><rect x=29 y=1 fill=#bfc0f4 /><rect x=30 y=1 fill=#bbbdf4 /><rect x=31 y=1 fill=#b7b9f3 /><rect x=32 y=1 fill=#b3b5f2 /><rect x=33 y=1 fill=#afb2f2 /><rect x=34 y=1 fill=#acaff1 /><rect x=35 y=1 fill=#a9acf1 /><rect x=36 y=1 fill=#a6aaf0 /><rect x=37 y=1 fill=#a4a8f0 /><rect x=38 y=1 fill=#a1a6ef /><rect x=39 y=1 fill=#9ea3ef /><rect x=40 y=1 fill=#9ba1ee />
<rect x=0 y=2 fill=#ffdaa5 /><rect x=1 y=2 fill=#ffdcab /><rect x=2 y=2 fill=#ffdeb1 /><rect x=3 y=2 fill=#ffe1b7 /><rect x=4 y=2 fill=#ffe4bd /><rect x=5 y=2 fill=#ffe6c4 /><rect x=6 y=2 fill=#ffe9ca /><rect x=7 y=2 fill=#ffecd1 /><rect x=8 y=2 fill=#ffeed7 /><rect x=9 y=2 fill=#fff1de /><rect x=10 y=2 fill=#fff4e4 /><rect x=11 y=2 fill=#fff7eb /><rect x=12 y=2 fill=#fff9f1 /><rect x=13 y=2 fill=#fffcf8 /><rect x=14 y=2 fill=#ffffff /><rect x=15 y=2 fill=#fbfbfe /><rect x=16 y=2 fill=#f7f6fe /><rect x=17 y=2 fill=#f2f2fd /><rect x=18 y=2 fill=#eeedfc /><rect x=19 y=2 fill=#eae9fc /><rect x=20 y=2 fill=#e5e5fb /><rect x=21 y=2 fill=#e1e0fa /><rect x=22 y=2 fill=#ddddfa /><rect x=23 y=2 fill=#dadaf9 /><rect x=24 y=2 fill=#d6d6f8 /><rect x=25 y=2 fill=#d1d1f8 /><rect x=26 y=2 fill=#cccdf7 /><rect x=27 y=2 fill=#c9c9f6 /><rect x=28 y=2 fill=#c5c6f5 /><rect x=29 y=2 fill=#c1c2f5 /><rect x=30 y=2 fill=#bebff4 /><rect x=31 y=2 fill=#babbf4 /><rect x=32 y=2 fill=#b6b8f3 /><rect x=33 y=2 fill=#b2b4f2 /><rect x=34 y=2 fill=#afb1f2 /><rect x=35 y=2 fill=#acaff1 /><rect x=36 y=2 fill=#a9adf1 /><rect x=37 y=2 fill=#a6aaf0 /><rect x=38 y=2 fill=#a4a8f0 /><rect x=39 y=2 fill=#a1a6ef /><rect x=40 y=2 fill=#9ea4ef />
<rect x=0 y=3 fill=#ffdaa5 /><rect x=1 y=3 fill=#ffdcab /><rect x=2 y=3 fill=#ffdeb0 /><rect x=3 y=3 fill=#ffe1b6 /><rect x=4 y=3 fill=#ffe3bd /><rect x=5 y=3 fill=#ffe6c3 /><rect x=6 y=3 fill=#ffe9c9 /><rect x=7 y=3 fill=#ffebd0 /><rect x=8 y=3 fill=#ffeed6 /><rect x=9 y=3 fill=#fff1dd /><rect x=10 y=3 fill=#fff3e3 /><rect x=11 y=3 fill=#fff6e9 /><rect x=12 y=3 fill=#fff8ef /><rect x=13 y=3 fill=#fffbf6 /><rect x=14 y=3 fill=#fffefc /><rect x=15 y=3 fill=#fcfcff /><rect x=16 y=3 fill=#f8f8fe /><rect x=17 y=3 fill=#f4f3fd /><rect x=18 y=3 fill=#efeffd /><rect x=19 y=3 fill=#ecebfc /><rect x=20 y=3 fill=#e7e7fb /><rect x=21 y=3 fill=#e3e2fb /><rect x=22 y=3 fill=#e0dffa /><rect x=23 y=3 fill=#dcdcf9 /><rect x=24 y=3 fill=#d8d8f9 /><rect x=25 y=3 fill=#d3d3f8 /><rect x=26 y=3 fill=#cfcff7 /><rect x=27 y=3 fill=#cbcbf7 /><rect x=28 y=3 fill=#c7c8f6 /><rect x=29 y=3 fill=#c4c5f5 /><rect x=30 y=3 fill=#c0c1f5 /><rect x=31 y=3 fill=#bcbef4 /><rect x=32 y=3 fill=#b8baf3 /><rect x=33 y=3 fill=#b4b7f3 /><rect x=34 y=3 fill=#b1b4f2 /><rect x=35 y=3 fill=#afb1f2 /><rect x=36 y=3 fill=#acaff1 /><rect x=37 y=3 fill=#a9adf1 /><rect x=38 y=3 fill=#a7aaf0 /><rect x=39 y=3 fill=#a4a8f0 /><rect x=40 y=3 fill=#a1a6ef />
<rect x=0 y=4 fill=#ffdaa5 /><rect x=1 y=4 fill=#ffdcaa /><rect x=2 y=4 fill=#ffdeb0 /><rect x=3 y=4 fill=#ffe1b6 /><rect x=4 y=4 fill=#ffe3bc /><rect x=5 y=4 fill=#ffe6c2 /><rect x=6 y=4 fill=#ffe8c8 /><rect x=7 y=4 fill=#ffebcf /><rect x=8 y=4 fill=#ffedd5 /><rect x=9 y=4 fill=#fff0db /><rect x=10 y=4 fill=#fff3e1 /><rect x=11 y=4 fill=#fff5e7 /><rect x=12 y=4 fill=#fff8ee /><rect x=13 y=4 fill=#fffaf4 /><rect x=14 y=4 fill=#fffdfa /><rect x=15 y=4 fill=#fefeff /><rect x=16 y=4 fill=#fafafe /><rect x=17 y=4 fill=#f5f5fe /><rect x=18 y=4 fill=#f1f1fd /><rect x=19 y=4 fill=#ededfc /><rect x=20 y=4 fill=#e9e9fc /><rect x=21 y=4 fill=#e5e4fb /><rect x=22 y=4 fill=#e2e1fa /><rect x=23 y=4 fill=#dedefa /><rect x=24 y=4 fill=#dadaf9 /><rect x=25 y=4 fill=#d6d6f8 /><rect x=26 y=4 fill=#d1d1f8 /><rect x=27 y=4 fill=#cdcef7 /><rect x=28 y=4 fill=#cacaf6 /><rect x=29 y=4 fill=#c7c7f6 /><rect x=30 y=4 fill=#c3c4f5 /><rect x=31 y=4 fill=#bfc0f4 /><rect x=32 y=4 fill=#bbbcf4 /><rect x=33 y=4 fill=#b7b9f3 /><rect x=34 y=4 fill=#b4b6f3 /><rect x=35 y=4 fill=#b1b4f2 /><rect x=36 y=4 fill=#afb2f2 /><rect x=37 y=4 fill=#acaff1 /><rect x=38 y=4 fill=#a9adf1 /><rect x=39 y=4 fill=#a7abf0 /><rect x=40 y=4 fill=#a4a9f0 />
<rect x=0 y=5 fill=#ffdaa5 /><rect x=1 y=5 fill=#ffdcaa /><rect x=2 y=5 fill=#ffdeb0 /><rect x=3 y=5 fill=#ffe0b6 /><rect x=4 y=5 fill=#ffe3bb /><rect x=5 y=5 fill=#ffe5c1 /><rect x=6 y=5 fill=#ffe8c8 /><rect x=7 y=5 fill=#ffeace /><rect x=8 y=5 fill=#ffedd4 /><rect x=9 y=5 fill=#ffefda /><rect x=10 y=5 fill=#fff2e0 /><rect x=11 y=5 fill=#fff4e6 /><rect x=12 y=5 fill=#fff7ec /><rect x=13 y=5 fill=#fff9f2 /><rect x=14 y=5 fill=#fffcf8 /><rect x=15 y=5 fill=#fffffe /><rect x=16 y=5 fill=#fbfbfe /><rect x=17 y=5 fill=#f7f7fe /><rect x=18 y=5 fill=#f3f3fd /><rect x=19 y=5 fill=#efeffd /><rect x=20 y=5 fill=#ebebfc /><rect x=21 y=5 fill=#e7e7fb /><rect x=22 y=5 fill=#e4e3fb /><rect x=23 y=5 fill=#e1e0fa /><rect x=24 y=5 fill=#dcdcf9 /><rect x=25 y=5 fill=#d8d8f9 /><rect x=26 y=5 fill=#d4d3f8 /><rect x=27 y=5 fill=#d0d0f7 /><rect x=28 y=5 fill=#cccdf7 /><rect x=29 y=5 fill=#c9c9f6 /><rect x=30 y=5 fill=#c6c6f6 /><rect x=31 y=5 fill=#c2c2f5 /><rect x=32 y=5 fill=#bebff4 /><rect x=33 y=5 fill=#babcf4 /><rect x=34 y=5 fill=#b7b9f3 /><rect x=35 y=5 fill=#b4b6f3 /><rect x=36 y=5 fill=#b2b4f2 /><rect x=37 y=5 fill=#afb2f2 /><rect x=38 y=5 fill=#adb0f1 /><rect x=39 y=5 fill=#aaadf1 /><rect x=40 y=5 fill=#a7abf0 />
<rect x=0 y=6 fill=#ffdaa5 /><rect x=1 y=6 fill=#ffdcaa /><rect x=2 y=6 fill=#ffdeaf /><rect x=3 y=6 fill=#ffe0b5 /><rect x=4 y=6 fill=#ffe3bb /><rect x=5 y=6 fill=#ffe5c1 /><rect x=6 y=6 fill=#ffe8c7 /><rect x=7 y=6 fill=#ffeacd /><rect x=8 y=6 fill=#ffecd2 /><rect x=9 y=6 fill=#ffefd8 /><rect x=10 y=6 fill=#fff1de /><rect x=11 y=6 fill=#fff4e4 /><rect x=12 y=6 fill=#fff6ea /><rect x=13 y=6 fill=#fff9f0 /><rect x=14 y=6 fill=#fffbf6 /><rect x=15 y=6 fill=#fffefc /><rect x=16 y=6 fill=#fdfdff /><rect x=17 y=6 fill=#f9f9fe /><rect x=18 y=6 fill=#f5f4fd /><rect x=19 y=6 fill=#f1f1fd /><rect x=20 y=6 fill=#ededfc /><rect x=21 y=6 fill=#e9e9fc /><rect x=22 y=6 fill=#e6e5fb /><rect x=23 y=6 fill=#e3e2fa /><rect x=24 y=6 fill=#dfdefa /><rect x=25 y=6 fill=#dadaf9 /><rect x=26 y=6 fill=#d6d6f8 /><rect x=27 y=6 fill=#d2d2f8 /><rect x=28 y=6 fill=#cfcff7 /><rect x=29 y=6 fill=#ccccf7 /><rect x=30 y=6 fill=#c8c9f6 /><rect x=31 y=6 fill=#c4c5f5 /><rect x=32 y=6 fill=#c1c1f5 /><rect x=33 y=6 fill=#bdbef4 /><rect x=34 y=6 fill=#babbf4 /><rect x=35 y=6 fill=#b7b9f3 /><rect x=36 y=6 fill=#b5b7f3 /><rect x=37 y=6 fill=#b2b5f2 /><rect x=38 y=6 fill=#b0b2f2 /><rect x=39 y=6 fill=#adb0f1 /><rect x=40 y=6 fill=#abaef1 />
<rect x=0 y=7 fill=#ffdaa5 /><rect x=1 y=7 fill=#ffdcaa /><rect x=2 y=7 fill=#ffdeaf /><rect x=3 y=7 fill=#ffe0b5 /><rect x=4 y=7 fill=#ffe2ba /><rect x=5 y=7 fill=#ffe5c0 /><rect x=6 y=7 fill=#ffe7c6 /><rect x=7 y=7 fill=#ffeacb /><rect x=8 y=7 fill=#ffecd1 /><rect x=9 y=7 fill=#ffeed7 /><rect x=10 y=7 fill=#fff1dd /><rect x=11 y=7 fill=#fff3e2 /><rect x=12 y=7 fill=#fff5e8 /><rect x=13 y=7 fill=#fff8ee /><rect x=14 y=7 fill=#fffaf4 /><rect x=15 y=7 fill=#fffdfa /><rect x=16 y=7 fill=#ffffff /><rect x=17 y=7 fill=#fbfafe /><rect x=18 y=7 fill=#f7f6fe /><rect x=19 y=7 fill=#f3f3fd /><rect x=20 y=7 fill=#efeffd /><rect x=21 y=7 fill=#ebebfc /><rect x=22 y=7 fill=#e8e8fb /><rect x=23 y=7 fill=#e5e4fb /><rect x=24 y=7 fill=#e1e1fa /><rect x=25 y=7 fill=#dddcfa /><rect x=26 y=7 fill=#d8d8f9 /><rect x=27 y=7 fill=#d5d5f8 /><rect x=28 y=7 fill=#d2d2f8 /><rect x=29 y=7 fill=#cecef7 /><rect x=30 y=7 fill=#cbcbf7 /><rect x=31 y=7 fill=#c7c8f6 /><rect x=32 y=7 fill=#c3c4f5 /><rect x=33 y=7 fill=#c0c1f5 /><rect x=34 y=7 fill=#bdbef4 /><rect x=35 y=7 fill=#babcf4 /><rect x=36 y=7 fill=#b8baf3 /><rect x=37 y=7 fill=#b5b7f3 /><rect x=38 y=7 fill=#b3b5f2 /><rect x=39 y=7 fill=#b0b3f2 /><rect x=40 y=7 fill=#aeb1f1 />
<rect x=0 y=8 fill=#ffdaa5 /><rect x=1 y=8 fill=#ffdcaa /><rect x=2 y=8 fill=#ffdeaf /><rect x=3 y=8 fill=#ffe0b4 /><rect x=4 y=8 fill=#ffe2ba /><rect x=5 y=8 fill=#ffe4bf /><rect x=6 y=8 fill=#ffe7c5 /><rect x=7 y=8 fill=#ffe9ca /><rect x=8 y=8 fill=#ffebd0 /><rect x=9 y=8 fill=#ffeed6 /><rect x=10 y=8 fill=#fff0db /><rect x=11 y=8 fill=#fff2e1 /><rect x=12 y=8 fill=#fff5e6 /><rect x=13 y=8 fill=#fff7ec /><rect x=14 y=8 fill=#fffaf2 /><rect x=15 y=8 fill=#fffcf7 /><rect x=16 y=8 fill=#fffefd /><rect x=17 y=8 fill=#fcfcff /><rect x=18 y=8 fill=#f9f8fe /><rect x=19 y=8 fill=#f5f5fd /><rect x=20 y=8 fill=#f1f1fd /><rect x=21 y=8 fill=#ededfc /><rect x=22 y=8 fill=#eaeafc /><rect x=23 y=8 fill=#e7e7fb /><rect x=24 y=8 fill=#e3e3fb /><rect x=25 y=8 fill=#dfdffa /><rect x=26 y=8 fill=#dbdbf9 /><rect x=27 y=8 fill=#d8d7f9 /><rect x=28 y=8 fill=#d4d4f8 /><rect x=29 y=8 fill=#d1d1f8 /><rect x=30 y=8 fill=#cecef7 /><rect x=31 y=8 fill=#cacaf6 /><rect x=32 y=8 fill=#c6c7f6 /><rect x=33 y=8 fill=#c3c4f5 /><rect x=34 y=8 fill=#c0c1f5 /><rect x=35 y=8 fill=#bdbff4 /><rect x=36 y=8 fill=#bbbcf4 /><rect x=37 y=8 fill=#b8baf3 /><rect x=38 y=8 fill=#b6b8f3 /><rect x=39 y=8 fill=#b3b6f2 /><rect x=40 y=8 fill=#b1b3f2 />
<rect x=0 y=9 fill=#ffdaa5 /><rect x=1 y=9 fill=#ffdbaa /><rect x=2 y=9 fill=#ffdeaf /><rect x=3 y=9 fill=#ffe0b4 /><rect x=4 y=9 fill=#ffe2b9 /><rect x=5 y=9 fill=#ffe4be /><rect x=6 y=9 fill=#ffe6c4 /><rect x=7 y=9 fill=#ffe9c9 /><rect x=8 y=9 fill=#ffebcf /><rect x=9 y=9 fill=#ffedd4 /><rect x=10 y=9 fill=#ffefda /><rect x=11 y=9 fill=#fff2df /><rect x=12 y=9 fill=#fff4e4 /><rect x=13 y=9 fill=#fff6ea /><rect x=14 y=9 fill=#fff9f0 /><rect x=15 y=9 fill=#fffbf5 /><rect x=16 y=9 fill=#fffdfa /><rect x=17 y=9 fill=#fefeff /><rect x=18 y=9 fill=#fafafe /><rect x=19 y=9 fill=#f7f7fe /><rect x=20 y=9 fill=#f3f3fd /><rect x=21 y=9 fill=#efeffd /><rect x=22 y=9 fill=#edecfc /><rect x=23 y=9 fill=#e9e9fc /><rect x=24 y=9 fill=#e6e5fb /><rect x=25 y=9 fill=#e2e1fa /><rect x=26 y=9 fill=#ddddfa /><rect x=27 y=9 fill=#dadaf9 /><rect x=28 y=9 fill=#d7d7f9 /><rect x=29 y=9 fill=#d4d4f8 /><rect x=30 y=9 fill=#d0d0f7 /><rect x=31 y=9 fill=#cdcdf7 /><rect x=32 y=9 fill=#c9caf6 /><rect x=33 y=9 fill=#c6c6f6 /><rect x=34 y=9 fill=#c3c4f5 /><rect x=35 y=9 fill=#c0c1f5 /><rect x=36 y=9 fill=#bebff4 /><rect x=37 y=9 fill=#bcbdf4 /><rect x=38 y=9 fill=#b9bbf3 /><rect x=39 y=9 fill=#b7b8f3 /><rect x=40 y=9 fill=#b4b6f3 />
<rect x=0 y=10 fill=#ffdaa5 /><rect x=1 y=10 fill=#ffdbaa /><rect x=2 y=10 fill=#ffddae /><rect x=3 y=10 fill=#ffdfb3 /><rect x=4 y=10 fill=#ffe2b8 /><rect x=5 y=10 fill=#ffe4be /><rect x=6 y=10 fill=#ffe6c3 /><rect x=7 y=10 fill=#ffe8c8 /><rect x=8 y=10 fill=#ffeacd /><rect x=9 y=10 fill=#ffedd3 /><rect x=10 y=10 fill=#ffefd8 /><rect x=11 y=10 fill=#fff1dd /><rect x=12 y=10 fill=#fff3e2 /><rect x=13 y=10 fill=#fff5e8 /><rect x=14 y=10 fill=#fff8ed /><rect x=15 y=10 fill=#fffaf3 /><rect x=16 y=10 fill=#fffcf8 /><rect x=17 y=10 fill=#fffefe /><rect x=18 y=10 fill=#fcfcff /><rect x=19 y=10 fill=#f9f9fe /><rect x=20 y=10 fill=#f5f5fe /><rect x=21 y=10 fill=#f2f1fd /><rect x=22 y=10 fill=#efeefc /><rect x=23 y=10 fill=#ecebfc /><rect x=24 y=10 fill=#e8e8fb /><rect x=25 y=10 fill=#e4e4fb /><rect x=26 y=10 fill=#e0e0fa /><rect x=27 y=10 fill=#dddcfa /><rect x=28 y=10 fill=#dad9f9 /><rect x=29 y=10 fill=#d7d6f8 /><rect x=30 y=10 fill=#d3d3f8 /><rect x=31 y=10 fill=#d0d0f7 /><rect x=32 y=10 fill=#ccccf7 /><rect x=33 y=10 fill=#c9c9f6 /><rect x=34 y=10 fill=#c6c7f6 /><rect x=35 y=10 fill=#c4c4f5 /><rect x=36 y=10 fill=#c1c2f5 /><rect x=37 y=10 fill=#bfc0f4 /><rect x=38 y=10 fill=#bcbef4 /><rect x=39 y=10 fill=#babbf4 /><rect x=40 y=10 fill=#b8b9f3 />
<rect x=0 y=11 fill=#ffdaa5 /><rect x=1 y=11 fill=#ffdba9 /><rect x=2 y=11 fill=#ffddae /><rect x=3 y=11 fill=#ffdfb3 /><rect x=4 y=11 fill=#ffe1b8 /><rect x=5 y=11 fill=#ffe3bd /><rect x=6 y=11 fill=#ffe6c2 /><rect x=7 y=11 fill=#ffe8c7 /><rect x=8 y=11 fill=#ffeacc /><rect x=9 y=11 fill=#ffecd1 /><rect x=10 y=11 fill=#ffeed6 /><rect x=11 y=11 fill=#fff0db /><rect x=12 y=11 fill=#fff2e1 /><rect x=13 y=11 fill=#fff4e6 /><rect x=14 y=11 fill=#fff7eb /><rect x=15 y=11 fill=#fff9f0 /><rect x=16 y=11 fill=#fffbf6 /><rect x=17 y=11 fill=#fffdfb /><rect x=18 y=11 fill=#fefeff /><rect x=19 y=11 fill=#fbfbfe /><rect x=20 y=11 fill=#f8f7fe /><rect x=21 y=11 fill=#f4f3fd /><rect x=22 y=11 fill=#f1f1fd /><rect x=23 y=11 fill=#eeeefc /><rect x=24 y=11 fill=#ebeafc /><rect x=25 y=11 fill=#e7e6fb /><rect x=26 y=11 fill=#e3e2fa /><rect x=27 y=11 fill=#dfdffa /><rect x=28 y=11 fill=#dcdcf9 /><rect x=29 y=11 fill=#d9d9f9 /><rect x=30 y=11 fill=#d6d6f8 /><rect x=31 y=11 fill=#d3d3f8 /><rect x=32 y=11 fill=#cfcff7 /><rect x=33 y=11 fill=#ccccf7 /><rect x=34 y=11 fill=#c9c9f6 /><rect x=35 y=11 fill=#c7c7f6 /><rect x=36 y=11 fill=#c4c5f5 /><rect x=37 y=11 fill=#c2c3f5 /><rect x=38 y=11 fill=#c0c1f5 /><rect x=39 y=11 fill=#bdbef4 /><rect x=40 y=11 fill=#bbbcf4 />
<rect x=0 y=12 fill=#ffdaa5 /><rect x=1 y=12 fill=#ffdba9 /><rect x=2 y=12 fill=#ffddae /><rect x=3 y=12 fill=#ffdfb2 /><rect x=4 y=12 fill=#ffe1b7 /><rect x=5 y=12 fill=#ffe3bc /><rect x=6 y=12 fill=#ffe5c1 /><rect x=7 y=12 fill=#ffe7c6 /><rect x=8 y=12 fill=#ffe9cb /><rect x=9 y=12 fill=#ffebd0 /><rect x=10 y=12 fill=#ffedd5 /><rect x=11 y=12 fill=#ffefda /><rect x=12 y=12 fill=#fff2df /><rect x=13 y=12 fill=#fff4e4 /><rect x=14 y=12 fill=#fff6e9 /><rect x=15 y=12 fill=#fff8ee /><rect x=16 y=12 fill=#fffaf3 /><rect x=17 y=12 fill=#fffcf8 /><rect x=18 y=12 fill=#fffefd /><rect x=19 y=12 fill=#fdfdff /><rect x=20 y=12 fill=#faf9fe /><rect x=21 y=12 fill=#f6f6fe /><rect x=22 y=12 fill=#f3f3fd /><rect x=23 y=12 fill=#f0f0fd /><rect x=24 y=12 fill=#ededfc /><rect x=25 y=12 fill=#e9e9fc /><rect x=26 y=12 fill=#e5e5fb /><rect x=27 y=12 fill=#e2e2fa /><rect x=28 y=12 fill=#dfdffa /><rect x=29 y=12 fill=#dcdcf9 /><rect x=30 y=12 fill=#d9d9f9 /><rect x=31 y=12 fill=#d6d5f8 /><rect x=32 y=12 fill=#d2d2f8 /><rect x=33 y=12 fill=#cfcff7 /><rect x=34 y=12 fill=#ccccf7 /><rect x=35 y=12 fill=#cacaf6 /><rect x=36 y=12 fill=#c8c8f6 /><rect x=37 y=12 fill=#c5c6f6 /><rect x=38 y=12 fill=#c3c4f5 /><rect x=39 y=12 fill=#c1c2f5 /><rect x=40 y=12 fill=#bec0f4 />
<rect x=0 y=13 fill=#ffdaa5 /><rect x=1 y=13 fill=#ffdba9 /><rect x=2 y=13 fill=#ffddad /><rect x=3 y=13 fill=#ffdfb2 /><rect x=4 y=13 fill=#ffe1b7 /><rect x=5 y=13 fill=#ffe3bb /><rect x=6 y=13 fill=#ffe5c0 /><rect x=7 y=13 fill=#ffe7c5 /><rect x=8 y=13 fill=#ffe9ca /><rect x=9 y=13 fill=#ffebce /><rect x=10 y=13 fill=#ffedd3 /><rect x=11 y=13 fill=#ffefd8 /><rect x=12 y=13 fill=#fff1dd /><rect x=13 y=13 fill=#fff3e2 /><rect x=14 y=13 fill=#fff5e7 /><rect x=15 y=13 fill=#fff7ec /><rect x=16 y=13 fill=#fff9f1 /><rect x=17 y=13 fill=#fffbf6 /><rect x=18 y=13 fill=#fffdfb /><rect x=19 y=13 fill=#ffffff /><rect x=20 y=13 fill=#fcfcff /><rect x=21 y=13 fill=#f8f8fe /><rect x=22 y=13 fill=#f6f5fe /><rect x=23 y=13 fill=#f3f2fd /><rect x=24 y=13 fill=#efeffd /><rect x=25 y=13 fill=#ecebfc /><rect x=26 y=13 fill=#e8e7fb /><rect x=27 y=13 fill=#e5e4fb /><rect x=28 y=13 fill=#e2e1fa /><rect x=29 y=13 fill=#dfdffa /><rect x=30 y=13 fill=#dcdcf9 /><rect x=31 y=13 fill=#d9d8f9 /><rect x=32 y=13 fill=#d5d5f8 /><rect x=33 y=13 fill=#d2d2f8 /><rect x=34 y=13 fill=#d0d0f7 /><rect x=35 y=13 fill=#cdcdf7 /><rect x=36 y=13 fill=#cbcbf7 /><rect x=37 y=13 fill=#c9c9f6 /><rect x=38 y=13 fill=#c6c7f6 /><rect x=39 y=13 fill=#c4c5f5 /><rect x=40 y=13 fill=#c2c3f5 />
<rect x=0 y=14 fill=#ffdaa5 /><rect x=1 y=14 fill=#ffdba9 /><rect x=2 y=14 fill=#ffddad /><rect x=3 y=14 fill=#ffdfb1 /><rect x=4 y=14 fill=#ffe1b6 /><rect x=5 y=14 fill=#ffe2ba /><rect x=6 y=14 fill=#ffe4bf /><rect x=7 y=14 fill=#ffe6c4 /><rect x=8 y=14 fill=#ffe8c8 /><rect x=9 y=14 fill=#ffeacd /><rect x=10 y=14 fill=#ffecd2 /><rect x=11 y=14 fill=#ffeed6 /><rect x=12 y=14 fill=#fff0db /><rect x=13 y=14 fill=#fff2df /><rect x=14 y=14 fill=#fff4e5 /><rect x=15 y=14 fill=#fff6e9 /><rect x=16 y=14 fill=#fff8ee /><rect x=17 y=14 fill=#fffaf3 /><rect x=18 y=14 fill=#fffcf8 /><rect x=19 y=14 fill=#fffefc /><rect x=20 y=14 fill=#fefeff /><rect x=21 y=14 fill=#fbfafe /><rect x=22 y=14 fill=#f8f8fe /><rect x=23 y=14 fill=#f5f5fd /><rect x=24 y=14 fill=#f2f2fd /><rect x=25 y=14 fill=#eeeefc /><rect x=26 y=14 fill=#ebeafc /><rect x=27 y=14 fill=#e8e7fb /><rect x=28 y=14 fill=#e5e4fb /><rect x=29 y=14 fill=#e2e1fa /><rect x=30 y=14 fill=#dfdffa /><rect x=31 y=14 fill=#dcdbf9 /><rect x=32 y=14 fill=#d8d8f9 /><rect x=33 y=14 fill=#d5d5f8 /><rect x=34 y=14 fill=#d3d3f8 /><rect x=35 y=14 fill=#d0d0f7 /><rect x=36 y=14 fill=#cecef7 /><rect x=37 y=14 fill=#ccccf7 /><rect x=38 y=14 fill=#cacaf6 /><rect x=39 y=14 fill=#c8c8f6 /><rect x=40 y=14 fill=#c6c6f6 />
<rect x=0 y=15 fill=#ffdaa5 /><rect x=1 y=15 fill=#ffdba9 /><rect x=2 y=15 fill=#ffddad /><rect x=3 y=15 fill=#ffdfb1 /><rect x=4 y=15 fill=#ffe0b5 /><rect x=5 y=15 fill=#ffe2ba /><rect x=6 y=15 fill=#ffe4be /><rect x=7 y=15 fill=#ffe6c3 /><rect x=8 y=15 fill=#ffe8c7 /><rect x=9 y=15 fill=#ffeacb /><rect x=10 y=15 fill=#ffebd0 /><rect x=11 y=15 fill=#ffedd4 /><rect x=12 y=15 fill=#ffefd9 /><rect x=13 y=15 fill=#fff1dd /><rect x=14 y=15 fill=#fff3e2 /><rect x=15 y=15 fill=#fff5e7 /><rect x=16 y=15 fill=#fff7eb /><rect x=17 y=15 fill=#fff9f0 /><rect x=18 y=15 fill=#fffbf5 /><rect x=19 y=15 fill=#fffcf9 /><rect x=20 y=15 fill=#fffefd /><rect x=21 y=15 fill=#fdfdff /><rect x=22 y=15 fill=#fafafe /><rect x=23 y=15 fill=#f8f7fe /><rect x=24 y=15 fill=#f4f4fd /><rect x=25 y=15 fill=#f1f1fd /><rect x=26 y=15 fill=#ededfc /><rect x=27 y=15 fill=#eaeafc /><rect x=28 y=15 fill=#e8e7fb /><rect x=29 y=15 fill=#e5e4fb /><rect x=30 y=15 fill=#e2e2fa /><rect x=31 y=15 fill=#dfdefa /><rect x=32 y=15 fill=#dcdbf9 /><rect x=33 y=15 fill=#d9d8f9 /><rect x=34 y=15 fill=#d6d6f8 /><rect x=35 y=15 fill=#d4d4f8 /><rect x=36 y=15 fill=#d2d2f8 /><rect x=37 y=15 fill=#d0d0f7 /><rect x=38 y=15 fill=#cdcdf7 /><rect x=39 y=15 fill=#cbcbf7 /><rect x=40 y=15 fill=#c9c9f6 />
<rect x=0 y=16 fill=#ffdaa5 /><rect x=1 y=16 fill=#ffdba9 /><rect x=2 y=16 fill=#ffddad /><rect x=3 y=16 fill=#ffdeb1 /><rect x=4 y=16 fill=#ffe0b5 /><rect x=5 y=16 fill=#ffe2b9 /><rect x=6 y=16 fill=#ffe4bd /><rect x=7 y=16 fill=#ffe5c1 /><rect x=8 y=16 fill=#ffe7c6 /><rect x=9 y=16 fill=#ffe9ca /><rect x=10 y=16 fill=#ffebce /><rect x=11 y=16 fill=#ffedd3 /><rect x=12 y=16 fill=#ffeed7 /><rect x=13 y=16 fill=#fff0db /><rect x=14 y=16 fill=#fff2e0 /><rect x=15 y=16 fill=#fff4e5 /><rect x=16 y=16 fill=#fff6e9 /><rect x=17 y=16 fill=#fff8ee /><rect x=18 y=16 fill=#fffaf2 /><rect x=19 y=16 fill=#fffbf6 /><rect x=20 y=16 fill=#fffdfa /><rect x=21 y=16 fill=#ffffff /><rect x=22 y=16 fill=#fdfdff /><rect x=23 y=16 fill=#fafafe /><rect x=24 y=16 fill=#f7f7fe /><rect x=25 y=16 fill=#f4f3fd /><rect x=26 y=16 fill=#f0f0fd /><rect x=27 y=16 fill=#ededfc /><rect x=28 y=16 fill=#ebeafc /><rect x=29 y=16 fill=#e8e7fb /><rect x=30 y=16 fill=#e5e5fb /><rect x=31 y=16 fill=#e2e1fa /><rect x=32 y=16 fill=#dfdefa /><rect x=33 y=16 fill=#dcdbf9 /><rect x=34 y=16 fill=#d9d9f9 /><rect x=35 y=16 fill=#d7d7f9 /><rect x=36 y=16 fill=#d5d5f8 /><rect x=37 y=16 fill=#d3d3f8 /><rect x=38 y=16 fill=#d1d1f8 /><rect x=39 y=16 fill=#cfcff7 /><rect x=40 y=16 fill=#cdcdf7 />
<rect x=0 y=17 fill=#ffdaa5 /><rect x=1 y=17 fill=#ffdba9 /><rect x=2 y=17 fill=#ffddac /><rect x=3 y=17 fill=#ffdeb0 /><rect x=4 y=17 fill=#ffe0b4 /><rect x=5 y=17 fill=#ffe1b8 /><rect x=6 y=17 fill=#ffe3bc /><rect x=7 y=17 fill=#ffe5c0 /><rect x=8 y=17 fill=#ffe7c4 /><rect x=9 y=17 fill=#ffe8c9 /><rect x=10 y=17 fill=#ffeacd /><rect x=11 y=17 fill=#ffecd1 /><rect x=12 y=17 fill=#ffeed5 /><rect x=13 y=17 fill=#ffefd9 /><rect x=14 y=17 fill=#fff1de /><rect x=15 y=17 fill=#fff3e2 /><rect x=16 y=17 fill=#fff5e6 /><rect x=17 y=17 fill=#fff7eb /><rect x=18 y=17 fill=#fff8ef /><rect x=19 y=17 fill=#fffaf3 /><rect x=20 y=17 fill=#fffcf7 /><rect x=21 y=17 fill=#fffefc /><rect x=22 y=17 fill=#ffffff /><rect x=23 y=17 fill=#fdfcff /><rect x=24 y=17 fill=#faf9fe /><rect x=25 y=17 fill=#f6f6fe /><rect x=26 y=17 fill=#f3f2fd /><rect x=27 y=17 fill=#f0f0fd /><rect x=28 y=17 fill=#ededfc /><rect x=29 y=17 fill=#ebeafc /><rect x=30 y=17 fill=#e8e8fb /><rect x=31 y=17 fill=#e5e5fb /><rect x=32 y=17 fill=#e2e2fa /><rect x=33 y=17 fill=#dfdffa /><rect x=34 y=17 fill=#dddcfa /><rect x=35 y=17 fill=#dbdaf9 /><rect x=36 y=17 fill=#d9d8f9 /><rect x=37 y=17 fill=#d7d6f9 /><rect x=38 y=17 fill=#d5d4f8 /><rect x=39 y=17 fill=#d3d2f8 /><rect x=40 y=17 fill=#d1d1f7 />
<rect x=0 y=18 fill=#ffdaa5 /><rect x=1 y=18 fill=#ffdba8 /><rect x=2 y=18 fill=#ffdcac /><rect x=3 y=18 fill=#ffdeb0 /><rect x=4 y=18 fill=#ffe0b3 /><rect x=5 y=18 fill=#ffe1b7 /><rect x=6 y=18 fill=#ffe3bb /><rect x=7 y=18 fill=#ffe4bf /><rect x=8 y=18 fill=#ffe6c3 /><rect x=9 y=18 fill=#ffe8c7 /><rect x=10 y=18 fill=#ffe9cb /><rect x=11 y=18 fill=#ffebcf /><rect x=12 y=18 fill=#ffedd3 /><rect x=13 y=18 fill=#ffeed7 /><rect x=14 y=18 fill=#fff0dc /><rect x=15 y=18 fill=#fff2e0 /><rect x=16 y=18 fill=#fff4e4 /><rect x=17 y=18 fill=#fff5e8 /><rect x=18 y=18 fill=#fff7ec /><rect x=19 y=18 fill=#fff9f0 /><rect x=20 y=18 fill=#fffaf4 /><rect x=21 y=18 fill=#fffcf8 /><rect x=22 y=18 fill=#fffefc /><rect x=23 y=18 fill=#ffffff /><rect x=24 y=18 fill=#fcfcff /><rect x=25 y=18 fill=#f9f9fe /><rect x=26 y=18 fill=#f6f5fe /><rect x=27 y=18 fill=#f3f3fd /><rect x=28 y=18 fill=#f0f0fd /><rect x=29 y=18 fill=#eeeefc /><rect x=30 y=18 fill=#ebebfc /><rect x=31 y=18 fill=#e8e8fb /><rect x=32 y=18 fill=#e5e5fb /><rect x=33 y=18 fill=#e3e2fa /><rect x=34 y=18 fill=#e0e0fa /><rect x=35 y=18 fill=#dedefa /><rect x=36 y=18 fill=#dcdcf9 /><rect x=37 y=18 fill=#dadaf9 /><rect x=38 y=18 fill=#d8d8f9 /><rect x=39 y=18 fill=#d6d6f8 /><rect x=40 y=18 fill=#d4d4f8 />
<rect x=0 y=19 fill=#ffdaa5 /><rect x=1 y=19 fill=#ffdba8 /><rect x=2 y=19 fill=#ffdcac /><rect x=3 y=19 fill=#ffdeaf /><rect x=4 y=19 fill=#ffdfb3 /><rect x=5 y=19 fill=#ffe1b7 /><rect x=6 y=19 fill=#ffe2ba /><rect x=7 y=19 fill=#ffe4be /><rect x=8 y=19 fill=#ffe6c2 /><rect x=9 y=19 fill=#ffe7c6 /><rect x=10 y=19 fill=#ffe9c9 /><rect x=11 y=19 fill=#ffeacd /><rect x=12 y=19 fill=#ffecd1 /><rect x=13 y=19 fill=#ffedd5 /><rect x=14 y=19 fill=#ffefd9 /><rect x=15 y=19 fill=#fff1dd /><rect x=16 y=19 fill=#fff3e1 /><rect x=17 y=19 fill=#fff4e5 /><rect x=18 y=19 fill=#fff6e9 /><rect x=19 y=19 fill=#fff7ed /><rect x=20 y=19 fill=#fff9f1 /><rect x=21 y=19 fill=#fffbf5 /><rect x=22 y=19 fill=#fffcf8 /><rect x=23 y=19 fill=#fffdfb /><rect x=24 y=19 fill=#ffffff /><rect x=25 y=19 fill=#fcfcfe /><rect x=26 y=19 fill=#f9f8fe /><rect x=27 y=19 fill=#f6f6fe /><rect x=28 y=19 fill=#f3f3fd /><rect x=29 y=19 fill=#f1f1fd /><rect x=30 y=19 fill=#eeeefc /><rect x=31 y=19 fill=#ecebfc /><rect x=32 y=19 fill=#e9e8fb /><rect x=33 y=19 fill=#e6e6fb /><rect x=34 y=19 fill=#e4e3fb /><rect x=35 y=19 fill=#e2e1fa /><rect x=36 y=19 fill=#e0e0fa /><rect x=37 y=19 fill=#dedefa /><rect x=38 y=19 fill=#dcdcf9 /><rect x=39 y=19 fill=#dadaf9 /><rect x=40 y=19 fill=#d8d8f9 />
<rect x=0 y=20 fill=#ffdaa5 /><rect x=1 y=20 fill=#ffdba8 /><rect x=2 y=20 fill=#ffdcab /><rect x=3 y=20 fill=#ffdeaf /><rect x=4 y=20 fill=#ffdfb2 /><rect x=5 y=20 fill=#ffe0b6 /><rect x=6 y=20 fill=#ffe2b9 /><rect x=7 y=20 fill=#ffe3bd /><rect x=8 y=20 fill=#ffe5c1 /><rect x=9 y=20 fill=#ffe6c4 /><rect x=10 y=20 fill=#ffe8c8 /><rect x=11 y=20 fill=#ffeacc /><rect x=12 y=20 fill=#ffebcf /><rect x=13 y=20 fill=#ffedd3 /><rect x=14 y=20 fill=#ffeed7 /><rect x=15 y=20 fill=#fff0db /><rect x=16 y=20 fill=#fff1de /><rect x=17 y=20 fill=#fff3e2 /><rect x=18 y=20 fill=#fff5e6 /><rect x=19 y=20 fill=#fff6ea /><rect x=20 y=20 fill=#fff8ed /><rect x=21 y=20 fill=#fff9f1 /><rect x=22 y=20 fill=#fffbf5 /><rect x=23 y=20 fill=#fffcf8 /><rect x=24 y=20 fill=#fffefc /><rect x=25 y=20 fill=#fefeff /><rect x=26 y=20 fill=#fbfbfe /><rect x=27 y=20 fill=#f9f9fe /><rect x=28 y=20 fill=#f7f6fe /><rect x=29 y=20 fill=#f4f4fd /><rect x=30 y=20 fill=#f2f1fd /><rect x=31 y=20 fill=#efeffc /><rect x=32 y=20 fill=#ececfc /><rect x=33 y=20 fill=#eae9fc /><rect x=34 y=20 fill=#e7e7fb /><rect x=35 y=20 fill=#e6e5fb /><rect x=36 y=20 fill=#e4e3fb /><rect x=37 y=20 fill=#e2e1fa /><rect x=38 y=20 fill=#e0dffa /><rect x=39 y=20 fill=#dedefa /><rect x=40 y=20 fill=#dcdcf9 />
<rect x=0 y=21 fill=#ffdaa5 /><rect x=1 y=21 fill=#ffdba8 /><rect x=2 y=21 fill=#ffdcab /><rect x=3 y=21 fill=#ffddae /><rect x=4 y=21 fill=#ffdfb2 /><rect x=5 y=21 fill=#ffe0b5 /><rect x=6 y=21 fill=#ffe2b8 /><rect x=7 y=21 fill=#ffe3bc /><rect x=8 y=21 fill=#ffe4bf /><rect x=9 y=21 fill=#ffe6c3 /><rect x=10 y=21 fill=#ffe7c6 /><rect x=11 y=21 fill=#ffe9ca /><rect x=12 y=21 fill=#ffeacd /><rect x=13 y=21 fill=#ffecd1 /><rect x=14 y=21 fill=#ffedd5 /><rect x=15 y=21 fill=#ffefd8 /><rect x=16 y=21 fill=#fff0dc /><rect x=17 y=21 fill=#fff2e0 /><rect x=18 y=21 fill=#fff3e3 /><rect x=19 y=21 fill=#fff5e6 /><rect x=20 y=21 fill=#fff6ea /><rect x=21 y=21 fill=#fff8ee /><rect x=22 y=21 fill=#fff9f1 /><rect x=23 y=21 fill=#fffaf4 /><rect x=24 y=21 fill=#fffcf8 /><rect x=25 y=21 fill=#fffefc /><rect x=26 y=21 fill=#fefeff /><rect x=27 y=21 fill=#fcfcff /><rect x=28 y=21 fill=#faf9fe /><rect x=29 y=21 fill=#f7f7fe /><rect x=30 y=21 fill=#f5f5fd /><rect x=31 y=21 fill=#f2f2fd /><rect x=32 y=21 fill=#f0effd /><rect x=33 y=21 fill=#ededfc /><rect x=34 y=21 fill=#ebebfc /><rect x=35 y=21 fill=#e9e9fc /><rect x=36 y=21 fill=#e7e7fb /><rect x=37 y=21 fill=#e6e5fb /><rect x=38 y=21 fill=#e4e3fb /><rect x=39 y=21 fill=#e2e2fa /><rect x=40 y=21 fill=#e0e0fa />
<rect x=0 y=22 fill=#ffdaa5 /><rect x=1 y=22 fill=#ffdba8 /><rect x=2 y=22 fill=#ffdcab /><rect x=3 y=22 fill=#ffddae /><rect x=4 y=22 fill=#ffdeb1 /><rect x=5 y=22 fill=#ffe0b4 /><rect x=6 y=22 fill=#ffe1b7 /><rect x=7 y=22 fill=#ffe3bb /><rect x=8 y=22 fill=#ffe4be /><rect x=9 y=22 fill=#ffe5c1 /><rect x=10 y=22 fill=#ffe7c5 /><rect x=11 y=22 fill=#ffe8c8 /><rect x=12 y=22 fill=#ffe9cb /><rect x=13 y=22 fill=#ffebcf /><rect x=14 y=22 fill=#ffecd2 /><rect x=15 y=22 fill=#ffeed6 /><rect x=16 y=22 fill=#ffefd9 /><rect x=17 y=22 fill=#fff1dd /><rect x=18 y=22 fill=#fff2e0 /><rect x=19 y=22 fill=#fff3e3 /><rect x=20 y=22 fill=#fff5e7 /><rect x=21 y=22 fill=#fff6ea /><rect x=22 y=22 fill=#fff8ed /><rect x=23 y=22 fill=#fff9f0 /><rect x=24 y=22 fill=#fffaf4 /><rect x=25 y=22 fill=#fffcf8 /><rect x=26 y=22 fill=#fffefc /><rect x=27 y=22 fill=#ffffff /><rect x=28 y=22 fill=#fdfdff /><rect x=29 y=22 fill=#fbfafe /><rect x=30 y=22 fill=#f8f8fe /><rect x=31 y=22 fill=#f6f5fe /><rect x=32 y=22 fill=#f3f3fd /><rect x=33 y=22 fill=#f1f0fd /><rect x=34 y=22 fill=#efeefc /><rect x=35 y=22 fill=#ededfc /><rect x=36 y=22 fill=#ebebfc /><rect x=37 y=22 fill=#eae9fc /><rect x=38 y=22 fill=#e8e7fb /><rect x=39 y=22 fill=#e6e6fb /><rect x=40 y=22 fill=#e4e4fb />
<rect x=0 y=23 fill=#ffdaa5 /><rect x=1 y=23 fill=#ffdba8 /><rect x=2 y=23 fill=#ffdcab /><rect x=3 y=23 fill=#ffddad /><rect x=4 y=23 fill=#ffdeb0 /><rect x=5 y=23 fill=#ffdfb3 /><rect x=6 y=23 fill=#ffe1b6 /><rect x=7 y=23 fill=#ffe2b9 /><rect x=8 y=23 fill=#ffe3bd /><rect x=9 y=23 fill=#ffe5c0 /><rect x=10 y=23 fill=#ffe6c3 /><rect x=11 y=23 fill=#ffe7c6 /><rect x=12 y=23 fill=#ffe9c9 /><rect x=13 y=23 fill=#ffeacc /><rect x=14 y=23 fill=#ffebd0 /><rect x=15 y=23 fill=#ffedd3 /><rect x=16 y=23 fill=#ffeed6 /><rect x=17 y=23 fill=#fff0da /><rect x=18 y=23 fill=#fff1dd /><rect x=19 y=23 fill=#fff2e0 /><rect x=20 y=23 fill=#fff4e3 /><rect x=21 y=23 fill=#fff5e7 /><rect x=22 y=23 fill=#fff6ea /><rect x=23 y=23 fill=#fff7ec /><rect x=24 y=23 fill=#fff9f0 /><rect x=25 y=23 fill=#fffaf4 /><rect x=26 y=23 fill=#fffcf7 /><rect x=27 y=23 fill=#fffdfb /><rect x=28 y=23 fill=#fffefe /><rect x=29 y=23 fill=#fefeff /><rect x=30 y=23 fill=#fcfcfe /><rect x=31 y=23 fill=#f9f9fe /><rect x=32 y=23 fill=#f7f7fe /><rect x=33 y=23 fill=#f4f4fd /><rect x=34 y=23 fill=#f3f2fd /><rect x=35 y=23 fill=#f1f0fd /><rect x=36 y=23 fill=#efeffd /><rect x=37 y=23 fill=#eeedfc /><rect x=38 y=23 fill=#ecebfc /><rect x=39 y=23 fill=#eaeafc /><rect x=40 y=23 fill=#e8e8fb />
<rect x=0 y=24 fill=#ffdaa5 /><rect x=1 y=24 fill=#ffdba8 /><rect x=2 y=24 fill=#ffdcaa /><rect x=3 y=24 fill=#ffddad /><rect x=4 y=24 fill=#ffdeb0 /><rect x=5 y=24 fill=#ffdfb3 /><rect x=6 y=24 fill=#ffe0b5 /><rect x=7 y=24 fill=#ffe2b8 /><rect x=8 y=24 fill=#ffe3bb /><rect x=9 y=24 fill=#ffe4be /><rect x=10 y=24 fill=#ffe5c1 /><rect x=11 y=24 fill=#ffe6c4 /><rect x=12 y=24 fill=#ffe8c7 /><rect x=13 y=24 fill=#ffe9ca /><rect x=14 y=24 fill=#ffeace /><rect x=15 y=24 fill=#ffecd1 /><rect x=16 y=24 fill=#ffedd4 /><rect x=17 y=24 fill=#ffeed7 /><rect x=18 y=24 fill=#fff0da /><rect x=19 y=24 fill=#fff1dd /><rect x=20 y=24 fill=#fff2e0 /><rect x=21 y=24 fill=#fff4e3 /><rect x=22 y=24 fill=#fff5e6 /><rect x=23 y=24 fill=#fff6e9 /><rect x=24 y=24 fill=#fff7ec /><rect x=25 y=24 fill=#fff9ef /><rect x=26 y=24 fill=#fffaf3 /><rect x=27 y=24 fill=#fffbf6 /><rect x=28 y=24 fill=#fffcf9 /><rect x=29 y=24 fill=#fffefc /><rect x=30 y=24 fill=#ffffff /><rect x=31 y=24 fill=#fdfdff /><rect x=32 y=24 fill=#fafafe /><rect x=33 y=24 fill=#f8f8fe /><rect x=34 y=24 fill=#f6f6fe /><rect x=35 y=24 fill=#f5f4fd /><rect x=36 y=24 fill=#f3f3fd /><rect x=37 y=24 fill=#f2f1fd /><rect x=38 y=24 fill=#f0f0fd /><rect x=39 y=24 fill=#eeeefc /><rect x=40 y=24 fill=#edecfc />
<rect x=0 y=25 fill=#ffdaa5 /><rect x=1 y=25 fill=#ffdba8 /><rect x=2 y=25 fill=#ffdcaa /><rect x=3 y=25 fill=#ffddac /><rect x=4 y=25 fill=#ffdeaf /><rect x=5 y=25 fill=#ffdfb2 /><rect x=6 y=25 fill=#ffe0b4 /><rect x=7 y=25 fill=#ffe1b7 /><rect x=8 y=25 fill=#ffe2ba /><rect x=9 y=25 fill=#ffe3bd /><rect x=10 y=25 fill=#ffe5c0 /><rect x=11 y=25 fill=#ffe6c2 /><rect x=12 y=25 fill=#ffe7c5 /><rect x=13 y=25 fill=#ffe8c8 /><rect x=14 y=25 fill=#ffe9cb /><rect x=15 y=25 fill=#ffebce /><rect x=16 y=25 fill=#ffecd1 /><rect x=17 y=25 fill=#ffedd4 /><rect x=18 y=25 fill=#ffeed7 /><rect x=19 y=25 fill=#ffefda /><rect x=20 y=25 fill=#fff1dd /><rect x=21 y=25 fill=#fff2e0 /><rect x=22 y=25 fill=#fff3e2 /><rect x=23 y=25 fill=#fff4e5 /><rect x=24 y=25 fill=#fff5e8 /><rect x=25 y=25 fill=#fff7eb /><rect x=26 y=25 fill=#fff8ef /><rect x=27 y=25 fill=#fff9f2 /><rect x=28 y=25 fill=#fffbf4 /><rect x=29 y=25 fill=#fffcf7 /><rect x=30 y=25 fill=#fffdfa /><rect x=31 y=25 fill=#fffefd /><rect x=32 y=25 fill=#fefeff /><rect x=33 y=25 fill=#fcfcff /><rect x=34 y=25 fill=#fafafe /><rect x=35 y=25 fill=#f9f9fe /><rect x=36 y=25 fill=#f7f7fe /><rect x=37 y=25 fill=#f6f5fe /><rect x=38 y=25 fill=#f4f4fd /><rect x=39 y=25 fill=#f3f2fd /><rect x=40 y=25 fill=#f1f1fd />
<rect x=0 y=26 fill=#ffdaa5 /><rect x=1 y=26 fill=#ffdba7 /><rect x=2 y=26 fill=#ffdbaa /><rect x=3 y=26 fill=#ffdcac /><rect x=4 y=26 fill=#ffddae /><rect x=5 y=26 fill=#ffdeb1 /><rect x=6 y=26 fill=#ffe0b3 /><rect x=7 y=26 fill=#ffe1b6 /><rect x=8 y=26 fill=#ffe2b9 /><rect x=9 y=26 fill=#ffe3bb /><rect x=10 y=26 fill=#ffe4be /><rect x=11 y=26 fill=#ffe5c0 /><rect x=12 y=26 fill=#ffe6c3 /><rect x=13 y=26 fill=#ffe7c6 /><rect x=14 y=26 fill=#ffe8c9 /><rect x=15 y=26 fill=#ffeacb /><rect x=16 y=26 fill=#ffebce /><rect x=17 y=26 fill=#ffecd1 /><rect x=18 y=26 fill=#ffedd4 /><rect x=19 y=26 fill=#ffeed6 /><rect x=20 y=26 fill=#ffefd9 /><rect x=21 y=26 fill=#fff1dc /><rect x=22 y=26 fill=#fff1de /><rect x=23 y=26 fill=#fff2e1 /><rect x=24 y=26 fill=#fff4e4 /><rect x=25 y=26 fill=#fff5e7 /><rect x=26 y=26 fill=#fff6ea /><rect x=27 y=26 fill=#fff7ed /><rect x=28 y=26 fill=#fff9f0 /><rect x=29 y=26 fill=#fffaf2 /><rect x=30 y=26 fill=#fffbf5 /><rect x=31 y=26 fill=#fffcf8 /><rect x=32 y=26 fill=#fffdfb /><rect x=33 y=26 fill=#fffefe /><rect x=34 y=26 fill=#fefeff /><rect x=35 y=26 fill=#fdfdff /><rect x=36 y=26 fill=#fbfbfe /><rect x=37 y=26 fill=#fafafe /><rect x=38 y=26 fill=#f8f8fe /><rect x=39 y=26 fill=#f7f7fe /><rect x=40 y=26 fill=#f5f5fe />
<rect x=0 y=27 fill=#ffdaa5 /><rect x=1 y=27 fill=#ffdaa7 /><rect x=2 y=27 fill=#ffdba9 /><rect x=3 y=27 fill=#ffdcac /><rect x=4 y=27 fill=#ffddae /><rect x=5 y=27 fill=#ffdeb0 /><rect x=6 y=27 fill=#ffdfb2 /><rect x=7 y=27 fill=#ffe0b5 /><rect x=8 y=27 fill=#ffe1b7 /><rect x=9 y=27 fill=#ffe2ba /><rect x=10 y=27 fill=#ffe3bc /><rect x=11 y=27 fill=#ffe4bf /><rect x=12 y=27 fill=#ffe5c1 /><rect x=13 y=27 fill=#ffe6c4 /><rect x=14 y=27 fill=#ffe7c6 /><rect x=15 y=27 fill=#ffe8c9 /><rect x=16 y=27 fill=#ffeacb /><rect x=17 y=27 fill=#ffebce /><rect x=18 y=27 fill=#ffecd1 /><rect x=19 y=27 fill=#ffedd3 /><rect x=20 y=27 fill=#ffeed6 /><rect x=21 y=27 fill=#ffefd9 /><rect x=22 y=27 fill=#fff0db /><rect x=23 y=27 fill=#fff1dd /><rect x=24 y=27 fill=#fff2e0 /><rect x=25 y=27 fill=#fff3e3 /><rect x=26 y=27 fill=#fff4e6 /><rect x=27 y=27 fill=#fff6e8 /><rect x=28 y=27 fill=#fff7eb /><rect x=29 y=27 fill=#fff8ed /><rect x=30 y=27 fill=#fff9f0 /><rect x=31 y=27 fill=#fffaf2 /><rect x=32 y=27 fill=#fffbf5 /><rect x=33 y=27 fill=#fffcf8 /><rect x=34 y=27 fill=#fffdfa /><rect x=35 y=27 fill=#fffefc /><rect x=36 y=27 fill=#fffffe /><rect x=37 y=27 fill=#fefeff /><rect x=38 y=27 fill=#fdfdff /><rect x=39 y=27 fill=#fbfbfe /><rect x=40 y=27 fill=#fafafe />
<rect x=0 y=28 fill=#ffdaa5 /><rect x=1 y=28 fill=#ffdaa7 /><rect x=2 y=28 fill=#ffdba9 /><rect x=3 y=28 fill=#ffdcab /><rect x=4 y=28 fill=#ffddad /><rect x=5 y=28 fill=#ffdeaf /><rect x=6 y=28 fill=#ffdfb1 /><rect x=7 y=28 fill=#ffe0b4 /><rect x=8 y=28 fill=#ffe1b6 /><rect x=9 y=28 fill=#ffe1b8 /><rect x=10 y=28 fill=#ffe2ba /><rect x=11 y=28 fill=#ffe3bd /><rect x=12 y=28 fill=#ffe4bf /><rect x=13 y=28 fill=#ffe5c1 /><rect x=14 y=28 fill=#ffe6c4 /><rect x=15 y=28 fill=#ffe7c6 /><rect x=16 y=28 fill=#ffe8c9 /><rect x=17 y=28 fill=#ffe9cb /><rect x=18 y=28 fill=#ffeace /><rect x=19 y=28 fill=#ffebd0 /><rect x=20 y=28 fill=#ffecd2 /><rect x=21 y=28 fill=#ffedd5 /><rect x=22 y=28 fill=#ffeed7 /><rect x=23 y=28 fill=#ffefd9 /><rect x=24 y=28 fill=#fff0db /><rect x=25 y=28 fill=#fff1de /><rect x=26 y=28 fill=#fff3e1 /><rect x=27 y=28 fill=#fff4e4 /><rect x=28 y=28 fill=#fff5e6 /><rect x=29 y=28 fill=#fff5e8 /><rect x=30 y=28 fill=#fff6ea /><rect x=31 y=28 fill=#fff8ed /><rect x=32 y=28 fill=#fff9f0 /><rect x=33 y=28 fill=#fffaf2 /><rect x=34 y=28 fill=#fffbf4 /><rect x=35 y=28 fill=#fffbf6 /><rect x=36 y=28 fill=#fffcf8 /><rect x=37 y=28 fill=#fffdfa /><rect x=38 y=28 fill=#fffefc /><rect x=39 y=28 fill=#fffefe /><rect x=40 y=28 fill=#ffffff />
<rect x=0 y=29 fill=#ffdaa5 /><rect x=1 y=29 fill=#ffdaa7 /><rect x=2 y=29 fill=#ffdba9 /><rect x=3 y=29 fill=#ffdcab /><rect x=4 y=29 fill=#ffddad /><rect x=5 y=29 fill=#ffddae /><rect x=6 y=29 fill=#ffdeb0 /><rect x=7 y=29 fill=#ffdfb3 /><rect x=8 y=29 fill=#ffe0b5 /><rect x=9 y=29 fill=#ffe1b7 /><rect x=10 y=29 fill=#ffe2b9 /><rect x=11 y=29 fill=#ffe3bb /><rect x=12 y=29 fill=#ffe3bd /><rect x=13 y=29 fill=#ffe4bf /><rect x=14 y=29 fill=#ffe5c1 /><rect x=15 y=29 fill=#ffe6c4 /><rect x=16 y=29 fill=#ffe7c6 /><rect x=17 y=29 fill=#ffe8c8 /><rect x=18 y=29 fill=#ffe9ca /><rect x=19 y=29 fill=#ffeacc /><rect x=20 y=29 fill=#ffebcf /><rect x=21 y=29 fill=#ffecd1 /><rect x=22 y=29 fill=#ffedd3 /><rect x=23 y=29 fill=#ffedd5 /><rect x=24 y=29 fill=#ffeed7 /><rect x=25 y=29 fill=#fff0da /><rect x=26 y=29 fill=#fff1dd /><rect x=27 y=29 fill=#fff2df /><rect x=28 y=29 fill=#fff2e1 /><rect x=29 y=29 fill=#fff3e3 /><rect x=30 y=29 fill=#fff4e5 /><rect x=31 y=29 fill=#fff5e8 /><rect x=32 y=29 fill=#fff6ea /><rect x=33 y=29 fill=#fff7ec /><rect x=34 y=29 fill=#fff8ee /><rect x=35 y=29 fill=#fff9f0 /><rect x=36 y=29 fill=#fffaf2 /><rect x=37 y=29 fill=#fffaf4 /><rect x=38 y=29 fill=#fffbf5 /><rect x=39 y=29 fill=#fffcf7 /><rect x=40 y=29 fill=#fffcf9 />
<rect x=0 y=30 fill=#ffdaa5 /><rect x=1 y=30 fill=#ffdaa7 /><rect x=2 y=30 fill=#ffdba8 /><rect x=3 y=30 fill=#ffdcaa /><rect x=4 y=30 fill=#ffdcac /><rect x=5 y=30 fill=#ffddae /><rect x=6 y=30 fill=#ffdeaf /><rect x=7 y=30 fill=#ffdfb1 /><rect x=8 y=30 fill=#ffdfb3 /><rect x=9 y=30 fill=#ffe0b5 /><rect x=10 y=30 fill=#ffe1b7 /><rect x=11 y=30 fill=#ffe2b9 /><rect x=12 y=30 fill=#ffe3bb /><rect x=13 y=30 fill=#ffe3bd /><rect x=14 y=30 fill=#ffe4bf /><rect x=15 y=30 fill=#ffe5c1 /><rect x=16 y=30 fill=#ffe6c3 /><rect x=17 y=30 fill=#ffe7c5 /><rect x=18 y=30 fill=#ffe8c7 /><rect x=19 y=30 fill=#ffe9c9 /><rect x=20 y=30 fill=#ffe9cb /><rect x=21 y=30 fill=#ffeacd /><rect x=22 y=30 fill=#ffebcf /><rect x=23 y=30 fill=#ffecd1 /><rect x=24 y=30 fill=#ffedd3 /><rect x=25 y=30 fill=#ffeed5 /><rect x=26 y=30 fill=#ffefd8 /><rect x=27 y=30 fill=#fff0da /><rect x=28 y=30 fill=#fff0dc /><rect x=29 y=30 fill=#fff1de /><rect x=30 y=30 fill=#fff2e0 /><rect x=31 y=30 fill=#fff3e2 /><rect x=32 y=30 fill=#fff4e4 /><rect x=33 y=30 fill=#fff5e7 /><rect x=34 y=30 fill=#fff6e8 /><rect x=35 y=30 fill=#fff6ea /><rect x=36 y=30 fill=#fff7ec /><rect x=37 y=30 fill=#fff8ed /><rect x=38 y=30 fill=#fff8ef /><rect x=39 y=30 fill=#fff9f0 /><rect x=40 y=30 fill=#fffaf2 />
<rect x=0 y=31 fill=#ffdaa5 /><rect x=1 y=31 fill=#ffdaa7 /><rect x=2 y=31 fill=#ffdba8 /><rect x=3 y=31 fill=#ffdbaa /><rect x=4 y=31 fill=#ffdcab /><rect x=5 y=31 fill=#ffddad /><rect x=6 y=31 fill=#ffddaf /><rect x=7 y=31 fill=#ffdeb0 /><rect x=8 y=31 fill=#ffdfb2 /><rect x=9 y=31 fill=#ffe0b4 /><rect x=10 y=31 fill=#ffe0b5 /><rect x=11 y=31 fill=#ffe1b7 /><rect x=12 y=31 fill=#ffe2b9 /><rect x=13 y=31 fill=#ffe2bb /><rect x=14 y=31 fill=#ffe3bd /><rect x=15 y=31 fill=#ffe4be /><rect x=16 y=31 fill=#ffe5c0 /><rect x=17 y=31 fill=#ffe6c2 /><rect x=18 y=31 fill=#ffe6c4 /><rect x=19 y=31 fill=#ffe7c6 /><rect x=20 y=31 fill=#ffe8c8 /><rect x=21 y=31 fill=#ffe9ca /><rect x=22 y=31 fill=#ffe9cb /><rect x=23 y=31 fill=#ffeacd /><rect x=24 y=31 fill=#ffebcf /><rect x=25 y=31 fill=#ffecd1 /><rect x=26 y=31 fill=#ffedd3 /><rect x=27 y=31 fill=#ffedd5 /><rect x=28 y=31 fill=#ffeed7 /><rect x=29 y=31 fill=#ffefd8 /><rect x=30 y=31 fill=#fff0da /><rect x=31 y=31 fill=#fff1dc /><rect x=32 y=31 fill=#fff1df /><rect x=33 y=31 fill=#fff2e1 /><rect x=34 y=31 fill=#fff3e2 /><rect x=35 y=31 fill=#fff4e4 /><rect x=36 y=31 fill=#fff4e5 /><rect x=37 y=31 fill=#fff5e7 /><rect x=38 y=31 fill=#fff5e8 /><rect x=39 y=31 fill=#fff6ea /><rect x=40 y=31 fill=#fff7eb />
<rect x=0 y=32 fill=#ffdaa5 /><rect x=1 y=32 fill=#ffdaa7 /><rect x=2 y=32 fill=#ffdba8 /><rect x=3 y=32 fill=#ffdba9 /><rect x=4 y=32 fill=#ffdcab /><rect x=5 y=32 fill=#ffdcac /><rect x=6 y=32 fill=#ffddae /><rect x=7 y=32 fill=#ffdeaf /><rect x=8 y=32 fill=#ffdeb1 /><rect x=9 y=32 fill=#ffdfb2 /><rect x=10 y=32 fill=#ffe0b4 /><rect x=11 y=32 fill=#ffe0b5 /><rect x=12 y=32 fill=#ffe1b7 /><rect x=13 y=32 fill=#ffe2b8 /><rect x=14 y=32 fill=#ffe2ba /><rect x=15 y=32 fill=#ffe3bc /><rect x=16 y=32 fill=#ffe4bd /><rect x=17 y=32 fill=#ffe4bf /><rect x=18 y=32 fill=#ffe5c1 /><rect x=19 y=32 fill=#ffe6c2 /><rect x=20 y=32 fill=#ffe6c4 /><rect x=21 y=32 fill=#ffe7c6 /><rect x=22 y=32 fill=#ffe8c7 /><rect x=23 y=32 fill=#ffe8c8 /><rect x=24 y=32 fill=#ffe9ca /><rect x=25 y=32 fill=#ffeacc /><rect x=26 y=32 fill=#ffebce /><rect x=27 y=32 fill=#ffebd0 /><rect x=28 y=32 fill=#ffecd2 /><rect x=29 y=32 fill=#ffedd3 /><rect x=30 y=32 fill=#ffedd5 /><rect x=31 y=32 fill=#ffeed7 /><rect x=32 y=32 fill=#ffefd9 /><rect x=33 y=32 fill=#fff0da /><rect x=34 y=32 fill=#fff0dc /><rect x=35 y=32 fill=#fff1dd /><rect x=36 y=32 fill=#fff1df /><rect x=37 y=32 fill=#fff2e0 /><rect x=38 y=32 fill=#fff3e1 /><rect x=39 y=32 fill=#fff3e3 /><rect x=40 y=32 fill=#fff4e4 />
<rect x=0 y=33 fill=#ffdaa5 /><rect x=1 y=33 fill=#ffdaa6 /><rect x=2 y=33 fill=#ffdba8 /><rect x=3 y=33 fill=#ffdba9 /><rect x=4 y=33 fill=#ffdcaa /><rect x=5 y=33 fill=#ffdcab /><rect x=6 y=33 fill=#ffddad /><rect x=7 y=33 fill=#ffddae /><rect x=8 y=33 fill=#ffdeaf /><rect x=9 y=33 fill=#ffdeb0 /><rect x=10 y=33 fill=#ffdfb2 /><rect x=11 y=33 fill=#ffdfb3 /><rect x=12 y=33 fill=#ffe0b5 /><rect x=13 y=33 fill=#ffe1b6 /><rect x=14 y=33 fill=#ffe1b8 /><rect x=15 y=33 fill=#ffe2b9 /><rect x=16 y=33 fill=#ffe2ba /><rect x=17 y=33 fill=#ffe3bc /><rect x=18 y=33 fill=#ffe4bd /><rect x=19 y=33 fill=#ffe4bf /><rect x=20 y=33 fill=#ffe5c0 /><rect x=21 y=33 fill=#ffe6c2 /><rect x=22 y=33 fill=#ffe6c3 /><rect x=23 y=33 fill=#ffe7c4 /><rect x=24 y=33 fill=#ffe7c6 /><rect x=25 y=33 fill=#ffe8c8 /><rect x=26 y=33 fill=#ffe9c9 /><rect x=27 y=33 fill=#ffe9cb /><rect x=28 y=33 fill=#ffeacc /><rect x=29 y=33 fill=#ffeace /><rect x=30 y=33 fill=#ffebcf /><rect x=31 y=33 fill=#ffecd1 /><rect x=32 y=33 fill=#ffecd3 /><rect x=33 y=33 fill=#ffedd4 /><rect x=34 y=33 fill=#ffeed6 /><rect x=35 y=33 fill=#ffeed7 /><rect x=36 y=33 fill=#ffefd8 /><rect x=37 y=33 fill=#ffefd9 /><rect x=38 y=33 fill=#fff0da /><rect x=39 y=33 fill=#fff0db /><rect x=40 y=33 fill=#fff1dd />
<rect x=0 y=34 fill=#ffdaa5 /><rect x=1 y=34 fill=#ffdaa6 /><rect x=2 y=34 fill=#ffdaa7 /><rect x=3 y=34 fill=#ffdba8 /><rect x=4 y=34 fill=#ffdba9 /><rect x=5 y=34 fill=#ffdcaa /><rect x=6 y=34 fill=#ffdcac /><rect x=7 y=34 fill=#ffddad /><rect x=8 y=34 fill=#ffddae /><rect x=9 y=34 fill=#ffdeaf /><rect x=10 y=34 fill=#ffdeb0 /><rect x=11 y=34 fill=#ffdfb1 /><rect x=12 y=34 fill=#ffdfb2 /><rect x=13 y=34 fill=#ffe0b4 /><rect x=14 y=34 fill=#ffe0b5 /><rect x=15 y=34 fill=#ffe1b6 /><rect x=16 y=34 fill=#ffe1b7 /><rect x=17 y=34 fill=#ffe2b9 /><rect x=18 y=34 fill=#ffe2ba /><rect x=19 y=34 fill=#ffe3bb /><rect x=20 y=34 fill=#ffe3bc /><rect x=21 y=34 fill=#ffe4be /><rect x=22 y=34 fill=#ffe4bf /><rect x=23 y=34 fill=#ffe5c0 /><rect x=24 y=34 fill=#ffe5c1 /><rect x=25 y=34 fill=#ffe6c3 /><rect x=26 y=34 fill=#ffe7c4 /><rect x=27 y=34 fill=#ffe7c6 /><rect x=28 y=34 fill=#ffe8c7 /><rect x=29 y=34 fill=#ffe8c8 /><rect x=30 y=34 fill=#ffe9c9 /><rect x=31 y=34 fill=#ffe9cb /><rect x=32 y=34 fill=#ffeacc /><rect x=33 y=34 fill=#ffebce /><rect x=34 y=34 fill=#ffebcf /><rect x=35 y=34 fill=#ffebd0 /><rect x=36 y=34 fill=#ffecd1 /><rect x=37 y=34 fill=#ffecd2 /><rect x=38 y=34 fill=#ffedd3 /><rect x=39 y=34 fill=#ffedd4 /><rect x=40 y=34 fill=#ffeed5 />
<rect x=0 y=35 fill=#ffdaa5 /><rect x=1 y=35 fill=#ffdaa6 /><rect x=2 y=35 fill=#ffdaa7 /><rect x=3 y=35 fill=#ffdba8 /><rect x=4 y=35 fill=#ffdba9 /><rect x=5 y=35 fill=#ffdbaa /><rect x=6 y=35 fill=#ffdcab /><rect x=7 y=35 fill=#ffdcab /><rect x=8 y=35 fill=#ffddac /><rect x=9 y=35 fill=#ffddad /><rect x=10 y=35 fill=#ffddae /><rect x=11 y=35 fill=#ffdeaf /><rect x=12 y=35 fill=#ffdeb0 /><rect x=13 y=35 fill=#ffdfb1 /><rect x=14 y=35 fill=#ffdfb2 /><rect x=15 y=35 fill=#ffe0b3 /><rect x=16 y=35 fill=#ffe0b5 /><rect x=17 y=35 fill=#ffe0b6 /><rect x=18 y=35 fill=#ffe1b7 /><rect x=19 y=35 fill=#ffe1b8 /><rect x=20 y=35 fill=#ffe2b9 /><rect x=21 y=35 fill=#ffe2ba /><rect x=22 y=35 fill=#ffe3bb /><rect x=23 y=35 fill=#ffe3bc /><rect x=24 y=35 fill=#ffe3bd /><rect x=25 y=35 fill=#ffe4be /><rect x=26 y=35 fill=#ffe5bf /><rect x=27 y=35 fill=#ffe5c1 /><rect x=28 y=35 fill=#ffe5c2 /><rect x=29 y=35 fill=#ffe6c3 /><rect x=30 y=35 fill=#ffe6c4 /><rect x=31 y=35 fill=#ffe7c5 /><rect x=32 y=35 fill=#ffe7c6 /><rect x=33 y=35 fill=#ffe8c7 /><rect x=34 y=35 fill=#ffe8c8 /><rect x=35 y=35 fill=#ffe9c9 /><rect x=36 y=35 fill=#ffe9ca /><rect x=37 y=35 fill=#ffe9cb /><rect x=38 y=35 fill=#ffeacc /><rect x=39 y=35 fill=#ffeacd /><rect x=40 y=35 fill=#ffeace />
<rect x=0 y=36 fill=#ffdaa5 /><rect x=1 y=36 fill=#ffdaa6 /><rect x=2 y=36 fill=#ffdaa7 /><rect x=3 y=36 fill=#ffdba7 /><rect x=4 y=36 fill=#ffdba8 /><rect x=5 y=36 fill=#ffdba9 /><rect x=6 y=36 fill=#ffdba9 /><rect x=7 y=36 fill=#ffdcaa /><rect x=8 y=36 fill=#ffdcab /><rect x=9 y=36 fill=#ffdcac /><rect x=10 y=36 fill=#ffddad /><rect x=11 y=36 fill=#ffddad /><rect x=12 y=36 fill=#ffddae /><rect x=13 y=36 fill=#ffdeaf /><rect x=14 y=36 fill=#ffdeb0 /><rect x=15 y=36 fill=#ffdeb1 /><rect x=16 y=36 fill=#ffdfb2 /><rect x=17 y=36 fill=#ffdfb2 /><rect x=18 y=36 fill=#ffdfb3 /><rect x=19 y=36 fill=#ffe0b4 /><rect x=20 y=36 fill=#ffe0b5 /><rect x=21 y=36 fill=#ffe1b6 /><rect x=22 y=36 fill=#ffe1b7 /><rect x=23 y=36 fill=#ffe1b7 /><rect x=24 y=36 fill=#ffe2b8 /><rect x=25 y=36 fill=#ffe2b9 /><rect x=26 y=36 fill=#ffe2ba /><rect x=27 y=36 fill=#ffe3bb /><rect x=28 y=36 fill=#ffe3bc /><rect x=29 y=36 fill=#ffe3bd /><rect x=30 y=36 fill=#ffe4be /><rect x=31 y=36 fill=#ffe4bf /><rect x=32 y=36 fill=#ffe5c0 /><rect x=33 y=36 fill=#ffe5c1 /><rect x=34 y=36 fill=#ffe5c2 /><rect x=35 y=36 fill=#ffe6c2 /><rect x=36 y=36 fill=#ffe6c3 /><rect x=37 y=36 fill=#ffe6c4 /><rect x=38 y=36 fill=#ffe7c5 /><rect x=39 y=36 fill=#ffe7c5 /><rect x=40 y=36 fill=#ffe7c6 />
<rect x=0 y=37 fill=#ffdaa5 /><rect x=1 y=37 fill=#ffdaa6 /><rect x=2 y=37 fill=#ffdaa6 /><rect x=3 y=37 fill=#ffdaa7 /><rect x=4 y=37 fill=#ffdba7 /><rect x=5 y=37 fill=#ffdba8 /><rect x=6 y=37 fill=#ffdba8 /><rect x=7 y=37 fill=#ffdba9 /><rect x=8 y=37 fill=#ffdbaa /><rect x=9 y=37 fill=#ffdcaa /><rect x=10 y=37 fill=#ffdcab /><rect x=11 y=37 fill=#ffdcab /><rect x=12 y=37 fill=#ffdcac /><rect x=13 y=37 fill=#ffddad /><rect x=14 y=37 fill=#ffddad /><rect x=15 y=37 fill=#ffddae /><rect x=16 y=37 fill=#ffdeaf /><rect x=17 y=37 fill=#ffdeaf /><rect x=18 y=37 fill=#ffdeb0 /><rect x=19 y=37 fill=#ffdeb0 /><rect x=20 y=37 fill=#ffdfb1 /><rect x=21 y=37 fill=#ffdfb2 /><rect x=22 y=37 fill=#ffdfb2 /><rect x=23 y=37 fill=#ffdfb3 /><rect x=24 y=37 fill=#ffe0b4 /><rect x=25 y=37 fill=#ffe0b4 /><rect x=26 y=37 fill=#ffe0b5 /><rect x=27 y=37 fill=#ffe1b6 /><rect x=28 y=37 fill=#ffe1b7 /><rect x=29 y=37 fill=#ffe1b7 /><rect x=30 y=37 fill=#ffe1b8 /><rect x=31 y=37 fill=#ffe2b9 /><rect x=32 y=37 fill=#ffe2b9 /><rect x=33 y=37 fill=#ffe2ba /><rect x=34 y=37 fill=#ffe3bb /><rect x=35 y=37 fill=#ffe3bb /><rect x=36 y=37 fill=#ffe3bc /><rect x=37 y=37 fill=#ffe3bc /><rect x=38 y=37 fill=#ffe3bd /><rect x=39 y=37 fill=#ffe4be /><rect x=40 y=37 fill=#ffe4be />
<rect x=0 y=38 fill=#ffdaa5 /><rect x=1 y=38 fill=#ffdaa6 /><rect x=2 y=38 fill=#ffdaa6 /><rect x=3 y=38 fill=#ffdaa6 /><rect x=4 y=38 fill=#ffdaa7 /><rect x=5 y=38 fill=#ffdaa7 /><rect x=6 y=38 fill=#ffdba7 /><rect x=7 y=38 fill=#ffdba8 /><rect x=8 y=38 fill=#ffdba8 /><rect x=9 y=38 fill=#ffdba9 /><rect x=10 y=38 fill=#ffdba9 /><rect x=11 y=38 fill=#ffdba9 /><rect x=12 y=38 fill=#ffdcaa /><rect x=13 y=38 fill=#ffdcaa /><rect x=14 y=38 fill=#ffdcab /><rect x=15 y=38 fill=#ffdcab /><rect x=16 y=38 fill=#ffdcac /><rect x=17 y=38 fill=#ffdcac /><rect x=18 y=38 fill=#ffddac /><rect x=19 y=38 fill=#ffddad /><rect x=20 y=38 fill=#ffddad /><rect x=21 y=38 fill=#ffddae /><rect x=22 y=38 fill=#ffddae /><rect x=23 y=38 fill=#ffddaf /><rect x=24 y=38 fill=#ffdeaf /><rect x=25 y=38 fill=#ffdeb0 /><rect x=26 y=38 fill=#ffdeb0 /><rect x=27 y=38 fill=#ffdeb1 /><rect x=28 y=38 fill=#ffdeb1 /><rect x=29 y=38 fill=#ffdfb1 /><rect x=30 y=38 fill=#ffdfb2 /><rect x=31 y=38 fill=#ffdfb2 /><rect x=32 y=38 fill=#ffdfb3 /><rect x=33 y=38 fill=#ffe0b3 /><rect x=34 y=38 fill=#ffe0b4 /><rect x=35 y=38 fill=#ffe0b4 /><rect x=36 y=38 fill=#ffe0b5 /><rect x=37 y=38 fill=#ffe0b5 /><rect x=38 y=38 fill=#ffe0b5 /><rect x=39 y=38 fill=#ffe0b6 /><rect x=40 y=38 fill=#ffe1b6 />
<rect x=0 y=39 fill=#ffdaa5 /><rect x=1 y=39 fill=#ffdaa6 /><rect x=2 y=39 fill=#ffdaa6 /><rect x=3 y=39 fill=#ffdaa6 /><rect x=4 y=39 fill=#ffdaa6 /><rect x=5 y=39 fill=#ffdaa6 /><rect x=6 y=39 fill=#ffdaa6 /><rect x=7 y=39 fill=#ffdaa7 /><rect x=8 y=39 fill=#ffdaa7 /><rect x=9 y=39 fill=#ffdaa7 /><rect x=10 y=39 fill=#ffdaa7 /><rect x=11 y=39 fill=#ffdba7 /><rect x=12 y=39 fill=#ffdba8 /><rect x=13 y=39 fill=#ffdba8 /><rect x=14 y=39 fill=#ffdba8 /><rect x=15 y=39 fill=#ffdba8 /><rect x=16 y=39 fill=#ffdba9 /><rect x=17 y=39 fill=#ffdba9 /><rect x=18 y=39 fill=#ffdba9 /><rect x=19 y=39 fill=#ffdba9 /><rect x=20 y=39 fill=#ffdba9 /><rect x=21 y=39 fill=#ffdbaa /><rect x=22 y=39 fill=#ffdcaa /><rect x=23 y=39 fill=#ffdcaa /><rect x=24 y=39 fill=#ffdcaa /><rect x=25 y=39 fill=#ffdcab /><rect x=26 y=39 fill=#ffdcab /><rect x=27 y=39 fill=#ffdcab /><rect x=28 y=39 fill=#ffdcab /><rect x=29 y=39 fill=#ffdcab /><rect x=30 y=39 fill=#ffdcac /><rect x=31 y=39 fill=#ffdcac /><rect x=32 y=39 fill=#ffddac /><rect x=33 y=39 fill=#ffddac /><rect x=34 y=39 fill=#ffddad /><rect x=35 y=39 fill=#ffddad /><rect x=36 y=39 fill=#ffddad /><rect x=37 y=39 fill=#ffddad /><rect x=38 y=39 fill=#ffddad /><rect x=39 y=39 fill=#ffddae /><rect x=40 y=39 fill=#ffddae />
<rect x=0 y=40 fill=#ffdaa5 /><rect x=1 y=40 fill=#ffdaa5 /><rect x=2 y=40 fill=#ffdaa5 /><rect x=3 y=40 fill=#ffdaa5 /><rect x=4 y=40 fill=#ffdaa5 /><rect x=5 y=40 fill=#ffdaa5 /><rect x=6 y=40 fill=#ffdaa5 /><rect x=7 y=40 fill=#ffdaa5 /><rect x=8 y=40 fill=#ffdaa5 /><rect x=9 y=40 fill=#ffdaa5 /><rect x=10 y=40 fill=#ffdaa5 /><rect x=11 y=40 fill=#ffdaa5 /><rect x=12 y=40 fill=#ffdaa5 /><rect x=13 y=40 fill=#ffdaa5 /><rect x=14 y=40 fill=#ffdaa5 /><rect x=15 y=40 fill=#ffdaa5 /><rect x=16 y=40 fill=#ffdaa5 /><rect x=17 y=40 fill=#ffdaa5 /><rect x=18 y=40 fill=#ffdaa5 /><rect x=19 y=40 fill=#ffdaa5 /><rect x=20 y=40 fill=#ffdaa5 /><rect x=21 y=40 fill=#ffdaa5 /><rect x=22 y=40 fill=#ffdaa5 /><rect x=23 y=40 fill=#ffdaa5 /><rect x=24 y=40 fill=#ffdaa5 /><rect x=25 y=40 fill=#ffdaa5 /><rect x=26 y=40 fill=#ffdaa5 /><rect x=27 y=40 fill=#ffdaa5 /><rect x=28 y=40 fill=#ffdaa5 /><rect x=29 y=40 fill=#ffdaa5 /><rect x=30 y=40 fill=#ffdaa5 /><rect x=31 y=40 fill=#ffdaa5 /><rect x=32 y=40 fill=#ffdaa5 /><rect x=33 y=40 fill=#ffdaa5 /><rect x=34 y=40 fill=#ffdaa5 /><rect x=35 y=40 fill=#ffdaa5 /><rect x=36 y=40 fill=#ffdaa5 /><rect x=37 y=40 fill=#ffdaa5 /><rect x=38 y=40 fill=#ffdaa5 /><rect x=39 y=40 fill=#ffdaa5 /><rect x=40 y=40 fill=#ffdaa5 />
</svg>
<path class="cl" d="M437.1 319.3 C437.3 320.2 437.9 322.8 438.5 324.7 C439.1 326.6 439.8 328.5 440.7 330.6 C441.6 332.7 442.6 334.8 443.6 337.1 C444.6 339.4 445.7 342.0 446.6 344.2 C447.5 346.4 448.0 348.2 449.0 350.2 C450.0 352.2 451.4 354.2 452.5 356.1 C453.6 358.0 454.5 359.5 455.5 361.4 C456.5 363.3 457.6 365.6 458.5 367.4 C459.4 369.2 459.9 370.6 460.8 372.1 C461.7 373.6 462.5 374.6 464.0 376.6 C465.5 378.6 467.9 381.4 469.9 384.0 C471.9 386.6 474.2 389.3 476.2 391.9 C478.2 394.5 479.9 397.3 481.7 399.4 C483.5 401.4 484.5 402.0 487.1 404.2 C489.7 406.4 494.0 409.5 497.3 412.3 C500.6 415.1 503.5 418.3 506.7 421.1 C509.9 423.9 513.0 426.9 516.2 429.2 C519.4 431.5 522.0 432.7 525.7 434.7 C529.5 436.7 534.9 439.4 538.7 441.4 C542.5 443.4 545.5 445.1 548.6 446.7 C551.7 448.3 554.2 449.6 557.3 450.8 C560.4 452.1 563.5 453.1 567.2 454.2 C570.9 455.3 575.6 456.4 579.6 457.5 C583.6 458.6 589.3 460.0 591.2 460.5 M596.0 461.7 L602.2 463.1"/>
<text class="c0" text-anchor="middle" transform="translate(593.6 461.4) rotate(13.7)" y="2.85">0</text>
<text class="ti" x="336.9" y="299.1"><tspan font-weight="bold">d)</tspan> Pakistan</text>
<text class="tk" text-anchor="end" x="332.6" y="322.8">1.5</text>
<text class="tk" text-anchor="end" x="332.6" y="363.6">1.4</text>
<text class="tk" text-anchor="end" x="332.6" y="404.6">1.3</text>
<text class="tk" text-anchor="end" x="332.6" y="445.4">1.2</text>
<text class="tk" text-anchor="end" x="332.6" y="486.4">1.1</text>
<text class="tk" text-anchor="end" x="332.6" y="527.2">1.0</text>
<text class="tk" text-anchor="middle" x="352.5" y="547">0</text>
<text class="tk" text-anchor="middle" x="414.9" y="547">1</text>
<text class="tk" text-anchor="middle" x="477.4" y="547">2</text>
<text class="tk" text-anchor="middle" x="539.8" y="547">3</text>
<text class="tk" text-anchor="middle" x="602.2" y="547">4</text>
<text class="ax" text-anchor="middle" transform="translate(8 278.2) rotate(-90)">Diagnosis multiplier</text>
<text class="ax" text-anchor="middle" x="347.7" y="588">Time span (y)</text>
<text class="ti" x="622.3" y="156.1">Increase (%)</text>
<defs><linearGradient id="cb" x1="0" y1="0" x2="0" y2="1"><stop offset="0.0000" stop-color="#ffa500"/><stop offset="0.0250" stop-color="#ffa920"/><stop offset="0.0500" stop-color="#ffae31"/><stop offset="0.0750" stop-color="#ffb23f"/><stop offset="0.1000" stop-color="#ffb64c"/><stop offset="0.1250" stop-color="#ffbb58"/><stop offset="0.1500" stop-color="#ffbf64"/><stop offset="0.1750" stop-color="#ffc46f"/><stop offset="0.2000" stop-color="#ffc87b"/><stop offset="0.2250" stop-color="#ffcd86"/><stop offset="0.2500" stop-color="#ffd191"/><stop offset="0.2750" stop-color="#ffd69c"/><stop offset="0.3000" stop-color="#ffdaa7"/><stop offset="0.3250" stop-color="#ffdfb1"/><stop offset="0.3500" stop-color="#ffe3bc"/><stop offset="0.3750" stop-color="#ffe8c7"/><stop offset="0.4000" stop-color="#ffecd2"/><stop offset="0.4250" stop-color="#fff1de"/><stop offset="0.4500" stop-color="#fff6e9"/><stop offset="0.4750" stop-color="#fffaf4"/><stop offset="0.5000" stop-color="#ffffff"/><stop offset="0.5250" stop-color="#f7f7fe"/><stop offset="0.5500" stop-color="#efeffd"/><stop offset="0.5750" stop-color="#e7e7fb"/><stop offset="0.6000" stop-color="#dfdffa"/><stop offset="0.6250" stop-color="#d7d7f9"/><stop offset="0.6500" stop-color="#cfcff7"/><stop offset="0.6750" stop-color="#c7c7f6"/><stop offset="0.7000" stop-color="#bfc0f4"/><stop offset="0.7250" stop-color="#b6b8f3"/><stop offset="0.7500" stop-color="#aeb1f1"/><stop offset="0.7750" stop-color="#a5a9f0"/><stop offset="0.8000" stop-color="#9ca2ee"/><stop offset="0.8250" stop-color="#939aed"/><stop offset="0.8500" stop-color="#8993eb"/><stop offset="0.8750" stop-color="#7f8cea"/><stop offset="0.9000" stop-color="#7585e8"/><stop offset="0.9250" stop-color="#6a7ee6"/><stop offset="0.9500" stop-color="#5e77e4"/><stop offset="0.9750" stop-color="#5170e3"/><stop offset="1.0000" stop-color="#4169e1"/></linearGradient></defs>
<rect x="621.5" y="163.4" width="15.5" height="261.6" fill="url(#cb)" stroke="#000" stroke-width="1.2"/>
<text class="lg" x="642.6" y="167.6">4</text>
<path d="M621.5 196.1 h3.2 M637.0 196.1 h-3.2" stroke="#000" stroke-width="1.2"/>
<text class="lg" x="642.6" y="200.3">3</text>
<path d="M621.5 228.8 h3.2 M637.0 228.8 h-3.2" stroke="#000" stroke-width="1.2"/>
<text class="lg" x="642.6" y="233">2</text>
<path d="M621.5 261.5 h3.2 M637.0 261.5 h-3.2" stroke="#000" stroke-width="1.2"/>
<text class="lg" x="642.6" y="265.7">1</text>
<path d="M621.5 294.2 h3.2 M637.0 294.2 h-3.2" stroke="#000" stroke-width="1.2"/>
<text class="lg" x="642.6" y="298.4">0</text>
<path d="M621.5 326.9 h3.2 M637.0 326.9 h-3.2" stroke="#000" stroke-width="1.2"/>
<text class="lg" x="642.6" y="331.1">−1</text>
<path d="M621.5 359.6 h3.2 M637.0 359.6 h-3.2" stroke="#000" stroke-width="1.2"/>
<text class="lg" x="642.6" y="363.8">−2</text>
<path d="M621.5 392.3 h3.2 M637.0 392.3 h-3.2" stroke="#000" stroke-width="1.2"/>
<text class="lg" x="642.6" y="396.5">−3</text>
<text class="lg" x="642.6" y="429.2">−4</text>
</svg></body></html>
